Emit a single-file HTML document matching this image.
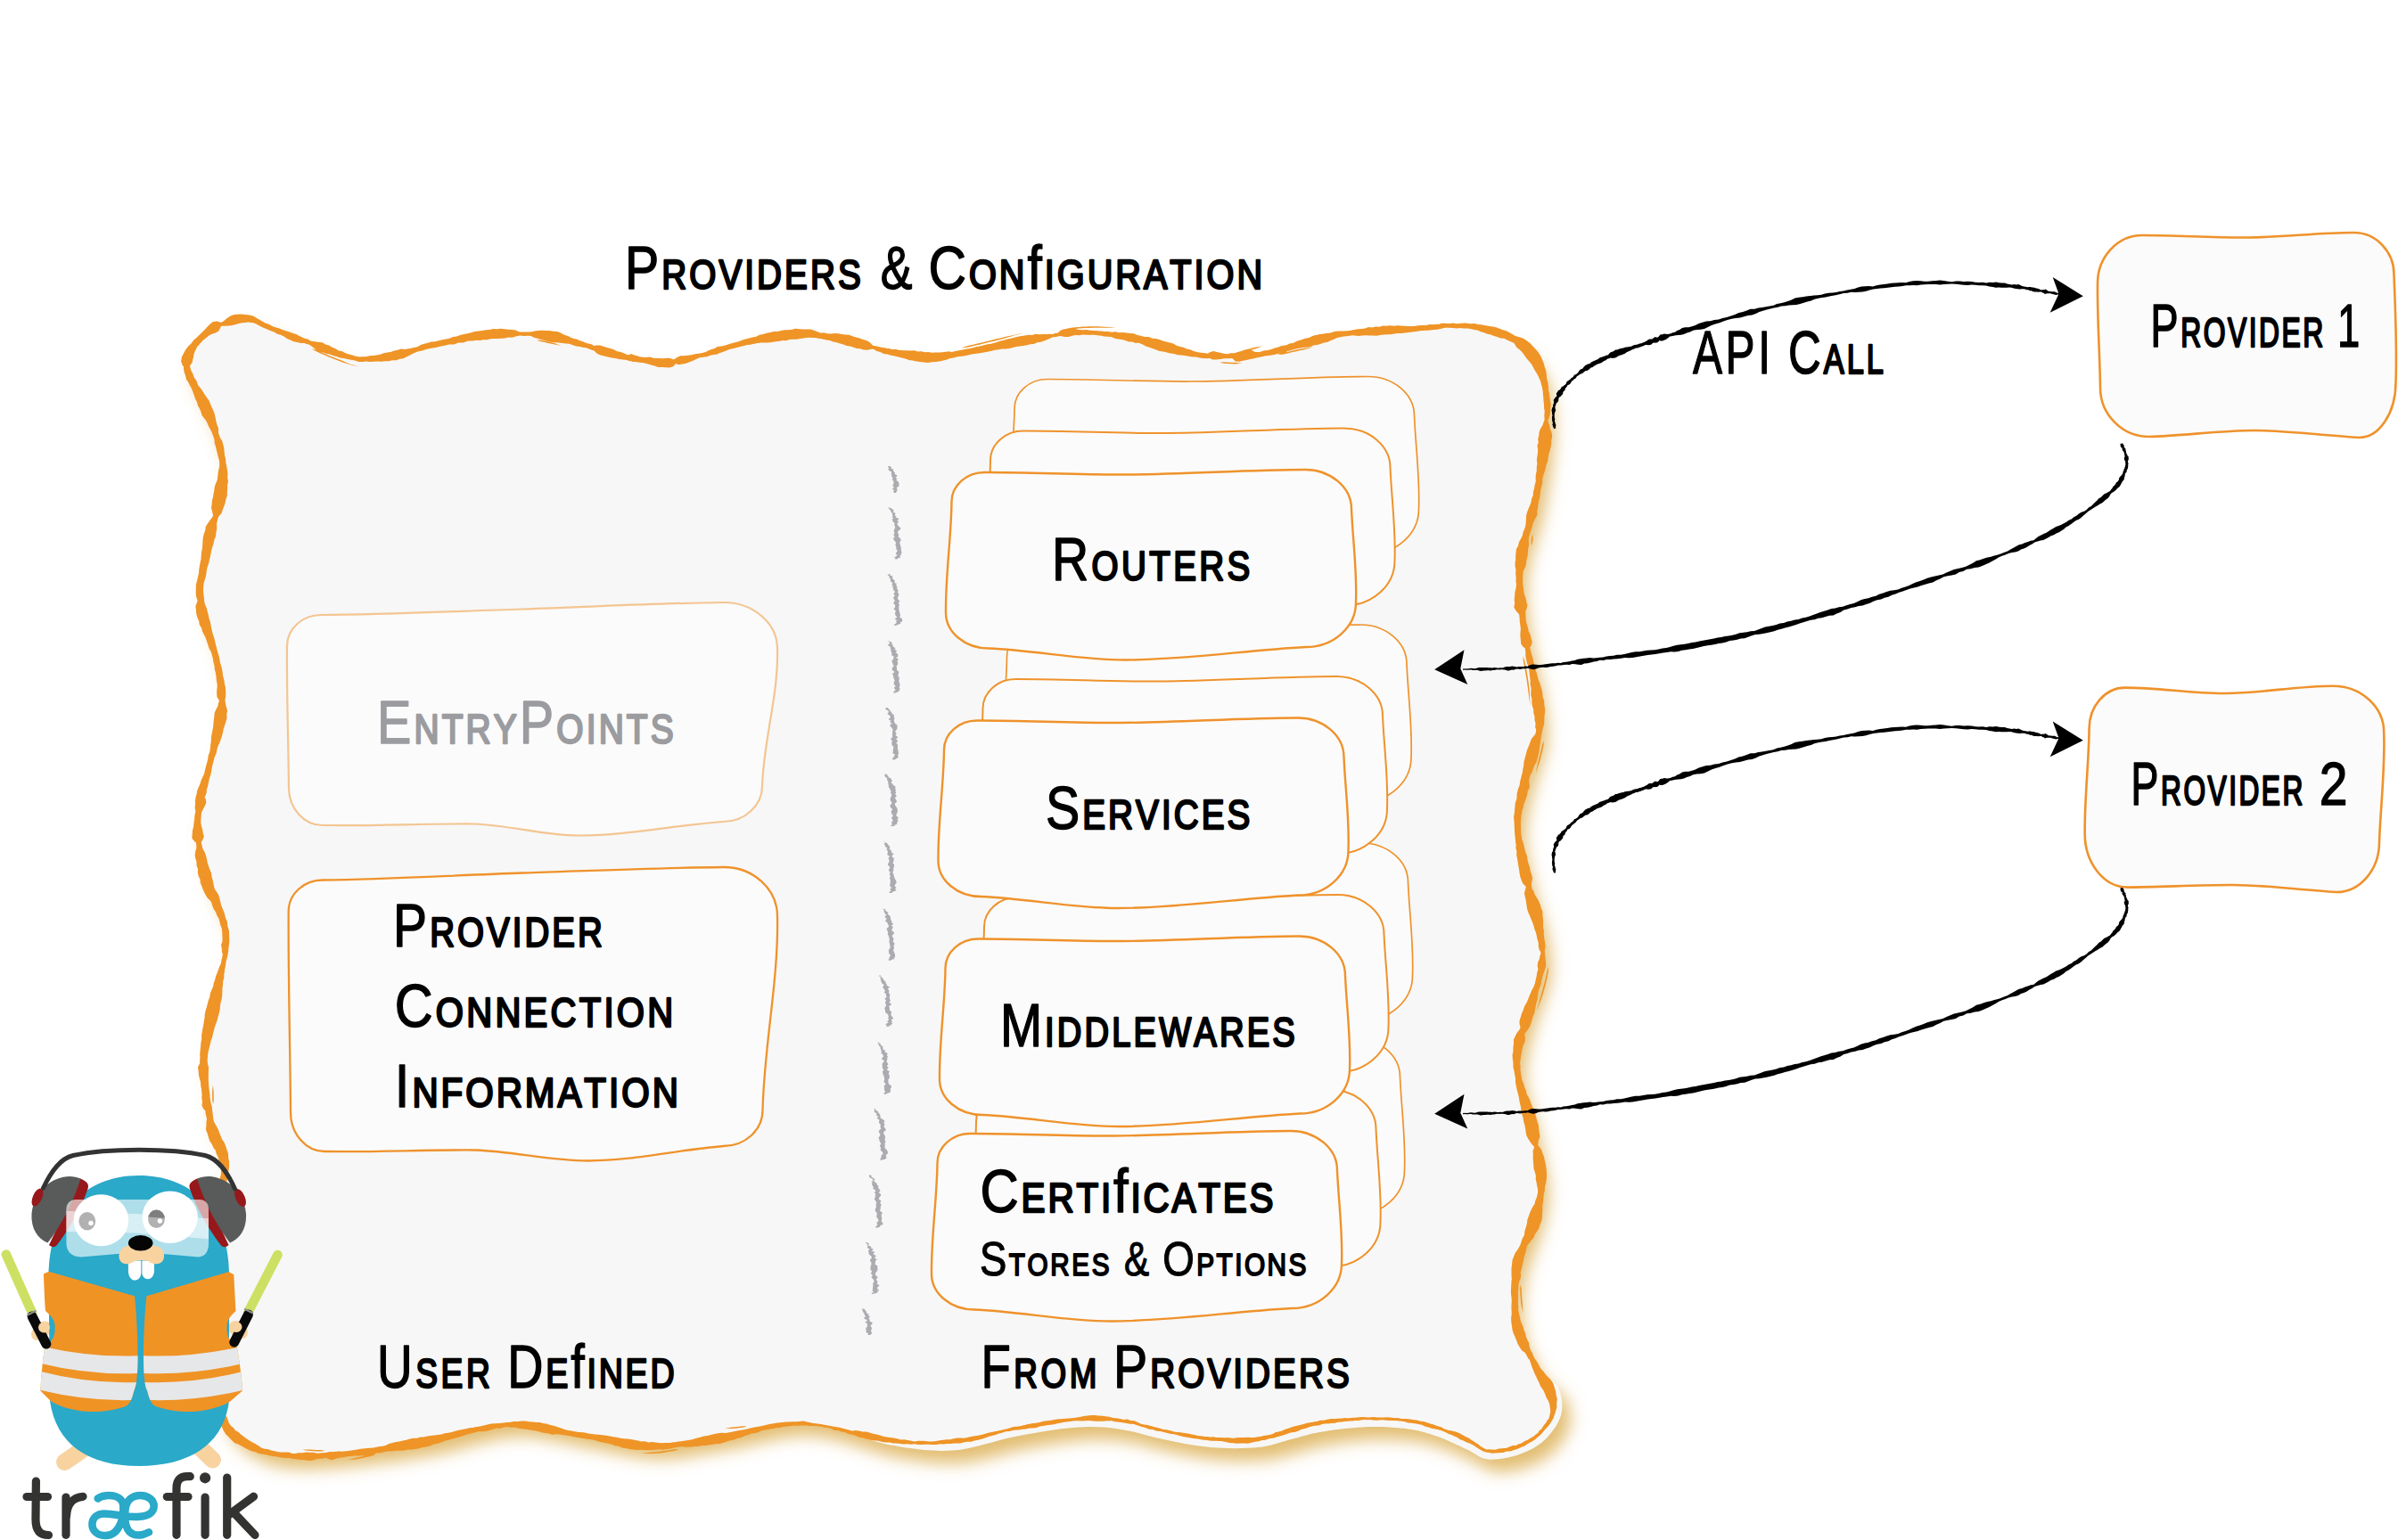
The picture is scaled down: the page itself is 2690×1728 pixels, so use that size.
<!DOCTYPE html>
<html><head><meta charset="utf-8"><title>Providers &amp; Configuration</title>
<style>
html,body{margin:0;padding:0;background:#fff;}
body{width:2690px;height:1728px;overflow:hidden;}
svg{display:block;font-family:'Liberation Sans', sans-serif;font-kerning:none;}
text{stroke-linejoin:round;stroke-linecap:round;}
</style></head><body>
<svg width="2690" height="1728" viewBox="0 0 2690 1728">
<defs>
<filter id="sh" x="-5%" y="-5%" width="110%" height="110%">
<feGaussianBlur in="SourceAlpha" stdDeviation="9"/>
<feOffset dx="9" dy="14" result="b"/>
<feFlood flood-color="#dcae50" flood-opacity="0.8"/>
<feComposite in2="b" operator="in"/>
</filter>
</defs>
<rect width="2690" height="1728" fill="#fff"/>
<path d="M210.0,414.0C207.3,402.8 211.5,398.5 215.0,392.0C218.5,385.5 224.3,380.2 231.0,375.0C237.7,369.8 247.0,364.0 255.0,361.0C263.0,358.0 271.0,356.0 279.0,357.0C287.0,358.0 292.2,362.7 303.0,367.0C313.8,371.3 330.3,377.8 344.0,383.0C357.7,388.2 374.7,394.8 385.0,398.0C395.3,401.2 396.8,402.3 406.0,402.5C415.2,402.7 426.3,401.6 440.0,399.0C453.7,396.4 471.5,390.7 488.0,387.0C504.5,383.3 523.1,379.1 539.0,377.0C554.9,374.9 569.2,374.3 583.5,374.5C597.8,374.7 612.4,375.8 625.0,378.0C637.6,380.2 647.7,384.5 659.0,388.0C670.3,391.5 679.3,395.9 693.0,399.0C706.7,402.1 726.2,406.3 741.0,406.5C755.8,406.7 767.2,403.2 782.0,400.0C796.8,396.8 816.3,390.3 830.0,387.0C843.7,383.7 851.5,381.8 864.0,380.0C876.5,378.2 890.8,375.8 905.0,376.0C919.2,376.2 935.7,379.0 949.0,381.5C962.3,384.0 974.2,388.4 985.0,391.0C995.8,393.6 1003.5,395.3 1014.0,397.0C1024.5,398.7 1034.8,401.6 1048.0,401.0C1061.2,400.4 1075.8,396.8 1093.0,393.5C1110.2,390.2 1134.5,384.6 1151.0,381.5C1167.5,378.4 1179.5,376.3 1192.0,375.0C1204.5,373.7 1212.8,373.0 1226.0,373.5C1239.2,374.0 1257.8,375.6 1271.0,378.0C1284.2,380.4 1293.7,384.8 1305.0,388.0C1316.3,391.2 1327.7,394.8 1339.0,397.0C1350.3,399.2 1359.8,401.2 1373.0,401.0C1386.2,400.8 1403.7,398.7 1418.0,396.0C1432.3,393.3 1446.5,388.2 1459.0,385.0C1471.5,381.8 1478.8,378.8 1493.0,376.5C1507.2,374.2 1526.8,372.9 1544.0,371.5C1561.2,370.1 1581.7,369.1 1596.0,368.0C1610.3,366.9 1618.7,365.0 1630.0,365.0C1641.3,365.0 1652.7,365.5 1664.0,368.0C1675.3,370.5 1688.7,374.5 1698.0,380.0C1707.3,385.5 1714.3,392.2 1720.0,401.0C1725.7,409.8 1729.7,419.2 1732.0,433.0C1734.3,446.8 1735.5,462.8 1734.0,484.0C1732.5,505.2 1728.0,534.7 1723.0,560.0C1718.0,585.3 1706.3,612.0 1704.0,636.0C1701.7,660.0 1705.8,681.5 1709.0,704.0C1712.2,726.5 1720.2,751.3 1723.0,771.0C1725.8,790.7 1728.2,804.3 1726.0,822.0C1723.8,839.7 1714.0,859.3 1710.0,877.0C1706.0,894.7 1701.3,909.0 1702.0,928.0C1702.7,947.0 1710.0,973.5 1714.0,991.0C1718.0,1008.5 1723.3,1017.5 1726.0,1033.0C1728.7,1048.5 1732.7,1064.8 1730.0,1084.0C1727.3,1103.2 1714.7,1129.0 1710.0,1148.0C1705.3,1167.0 1700.7,1179.0 1702.0,1198.0C1703.3,1217.0 1713.7,1241.5 1718.0,1262.0C1722.3,1282.5 1727.3,1304.2 1728.0,1321.0C1728.7,1337.8 1726.3,1346.2 1722.0,1363.0C1717.7,1379.8 1705.7,1403.0 1702.0,1422.0C1698.3,1441.0 1698.3,1462.0 1700.0,1477.0C1701.7,1492.0 1707.8,1502.2 1712.0,1512.0C1716.2,1521.8 1719.0,1528.5 1725.0,1536.0C1731.0,1543.5 1743.6,1548.3 1748.0,1556.9C1752.3,1565.5 1753.8,1577.6 1751.2,1587.4C1748.6,1597.3 1740.3,1608.5 1732.5,1616.0C1724.6,1623.4 1714.6,1628.4 1704.1,1632.0C1693.5,1635.6 1678.7,1638.4 1669.1,1637.5C1659.4,1636.6 1655.4,1630.9 1646.0,1626.6C1636.6,1622.4 1623.9,1615.8 1612.9,1612.0C1601.8,1608.1 1593.5,1605.2 1579.8,1603.4C1566.0,1601.6 1546.9,1600.6 1530.3,1601.2C1513.8,1601.8 1494.4,1604.5 1480.6,1606.9C1466.7,1609.2 1458.9,1612.4 1447.3,1615.2C1435.7,1618.1 1425.8,1622.6 1410.9,1624.1C1396.1,1625.5 1375.7,1625.5 1358.2,1624.1C1340.7,1622.6 1323.4,1618.8 1306.1,1615.3C1288.9,1611.9 1271.5,1605.7 1254.7,1603.4C1238.0,1601.2 1225.0,1600.4 1205.7,1601.8C1186.4,1603.2 1161.5,1607.7 1138.8,1611.9C1116.0,1616.2 1092.2,1625.9 1069.0,1627.5C1045.7,1629.0 1027.4,1626.5 999.4,1621.5C971.4,1616.4 932.6,1598.6 901.0,1597.0C869.4,1595.4 838.5,1607.7 810.0,1612.0C781.5,1616.3 756.7,1623.3 730.0,1623.0C703.3,1622.7 676.8,1614.2 650.0,1610.0C623.2,1605.8 597.3,1596.7 569.0,1598.0C540.7,1599.3 507.3,1612.8 480.0,1618.0C452.7,1623.2 428.3,1626.3 405.0,1629.0C381.7,1631.7 357.0,1633.7 340.0,1634.0C323.0,1634.3 313.5,1633.2 303.0,1631.0C292.5,1628.8 285.3,1626.2 277.0,1621.0C268.7,1615.8 258.3,1610.2 253.0,1600.0C247.7,1589.8 248.0,1576.7 245.0,1560.0C242.0,1543.3 237.3,1520.0 235.0,1500.0C232.7,1480.0 229.8,1461.7 231.0,1440.0C232.2,1418.3 238.5,1392.3 242.0,1370.0C245.5,1347.7 252.8,1324.0 252.0,1306.0C251.2,1288.0 240.8,1281.3 237.0,1262.0C233.2,1242.7 228.0,1214.0 229.0,1190.0C230.0,1166.0 238.8,1140.5 243.0,1118.0C247.2,1095.5 254.0,1072.7 254.0,1055.0C254.0,1037.3 246.5,1022.7 243.0,1012.0C239.5,1001.3 236.7,1005.8 233.0,991.0C229.3,976.2 220.3,945.5 221.0,923.0C221.7,900.5 232.2,878.2 237.0,856.0C241.8,833.8 249.0,809.7 250.0,790.0C251.0,770.3 247.2,758.0 243.0,738.0C238.8,718.0 226.7,689.8 225.0,670.0C223.3,650.2 228.8,642.8 233.0,619.0C237.2,595.2 250.3,553.7 250.0,527.0C249.7,500.3 237.7,477.8 231.0,459.0C224.3,440.2 212.7,425.2 210.0,414.0Z" fill="#f7f7f7" filter="url(#sh)"/>
<path d="M210.0,414.0C207.3,402.8 211.5,398.5 215.0,392.0C218.5,385.5 224.3,380.2 231.0,375.0C237.7,369.8 247.0,364.0 255.0,361.0C263.0,358.0 271.0,356.0 279.0,357.0C287.0,358.0 292.2,362.7 303.0,367.0C313.8,371.3 330.3,377.8 344.0,383.0C357.7,388.2 374.7,394.8 385.0,398.0C395.3,401.2 396.8,402.3 406.0,402.5C415.2,402.7 426.3,401.6 440.0,399.0C453.7,396.4 471.5,390.7 488.0,387.0C504.5,383.3 523.1,379.1 539.0,377.0C554.9,374.9 569.2,374.3 583.5,374.5C597.8,374.7 612.4,375.8 625.0,378.0C637.6,380.2 647.7,384.5 659.0,388.0C670.3,391.5 679.3,395.9 693.0,399.0C706.7,402.1 726.2,406.3 741.0,406.5C755.8,406.7 767.2,403.2 782.0,400.0C796.8,396.8 816.3,390.3 830.0,387.0C843.7,383.7 851.5,381.8 864.0,380.0C876.5,378.2 890.8,375.8 905.0,376.0C919.2,376.2 935.7,379.0 949.0,381.5C962.3,384.0 974.2,388.4 985.0,391.0C995.8,393.6 1003.5,395.3 1014.0,397.0C1024.5,398.7 1034.8,401.6 1048.0,401.0C1061.2,400.4 1075.8,396.8 1093.0,393.5C1110.2,390.2 1134.5,384.6 1151.0,381.5C1167.5,378.4 1179.5,376.3 1192.0,375.0C1204.5,373.7 1212.8,373.0 1226.0,373.5C1239.2,374.0 1257.8,375.6 1271.0,378.0C1284.2,380.4 1293.7,384.8 1305.0,388.0C1316.3,391.2 1327.7,394.8 1339.0,397.0C1350.3,399.2 1359.8,401.2 1373.0,401.0C1386.2,400.8 1403.7,398.7 1418.0,396.0C1432.3,393.3 1446.5,388.2 1459.0,385.0C1471.5,381.8 1478.8,378.8 1493.0,376.5C1507.2,374.2 1526.8,372.9 1544.0,371.5C1561.2,370.1 1581.7,369.1 1596.0,368.0C1610.3,366.9 1618.7,365.0 1630.0,365.0C1641.3,365.0 1652.7,365.5 1664.0,368.0C1675.3,370.5 1688.7,374.5 1698.0,380.0C1707.3,385.5 1714.3,392.2 1720.0,401.0C1725.7,409.8 1729.7,419.2 1732.0,433.0C1734.3,446.8 1735.5,462.8 1734.0,484.0C1732.5,505.2 1728.0,534.7 1723.0,560.0C1718.0,585.3 1706.3,612.0 1704.0,636.0C1701.7,660.0 1705.8,681.5 1709.0,704.0C1712.2,726.5 1720.2,751.3 1723.0,771.0C1725.8,790.7 1728.2,804.3 1726.0,822.0C1723.8,839.7 1714.0,859.3 1710.0,877.0C1706.0,894.7 1701.3,909.0 1702.0,928.0C1702.7,947.0 1710.0,973.5 1714.0,991.0C1718.0,1008.5 1723.3,1017.5 1726.0,1033.0C1728.7,1048.5 1732.7,1064.8 1730.0,1084.0C1727.3,1103.2 1714.7,1129.0 1710.0,1148.0C1705.3,1167.0 1700.7,1179.0 1702.0,1198.0C1703.3,1217.0 1713.7,1241.5 1718.0,1262.0C1722.3,1282.5 1727.3,1304.2 1728.0,1321.0C1728.7,1337.8 1726.3,1346.2 1722.0,1363.0C1717.7,1379.8 1705.7,1403.0 1702.0,1422.0C1698.3,1441.0 1698.3,1462.0 1700.0,1477.0C1701.7,1492.0 1707.8,1502.2 1712.0,1512.0C1716.2,1521.8 1719.0,1528.5 1725.0,1536.0C1731.0,1543.5 1743.6,1548.3 1748.0,1556.9C1752.3,1565.5 1753.8,1577.6 1751.2,1587.4C1748.6,1597.3 1740.3,1608.5 1732.5,1616.0C1724.6,1623.4 1714.6,1628.4 1704.1,1632.0C1693.5,1635.6 1678.7,1638.4 1669.1,1637.5C1659.4,1636.6 1655.4,1630.9 1646.0,1626.6C1636.6,1622.4 1623.9,1615.8 1612.9,1612.0C1601.8,1608.1 1593.5,1605.2 1579.8,1603.4C1566.0,1601.6 1546.9,1600.6 1530.3,1601.2C1513.8,1601.8 1494.4,1604.5 1480.6,1606.9C1466.7,1609.2 1458.9,1612.4 1447.3,1615.2C1435.7,1618.1 1425.8,1622.6 1410.9,1624.1C1396.1,1625.5 1375.7,1625.5 1358.2,1624.1C1340.7,1622.6 1323.4,1618.8 1306.1,1615.3C1288.9,1611.9 1271.5,1605.7 1254.7,1603.4C1238.0,1601.2 1225.0,1600.4 1205.7,1601.8C1186.4,1603.2 1161.5,1607.7 1138.8,1611.9C1116.0,1616.2 1092.2,1625.9 1069.0,1627.5C1045.7,1629.0 1027.4,1626.5 999.4,1621.5C971.4,1616.4 932.6,1598.6 901.0,1597.0C869.4,1595.4 838.5,1607.7 810.0,1612.0C781.5,1616.3 756.7,1623.3 730.0,1623.0C703.3,1622.7 676.8,1614.2 650.0,1610.0C623.2,1605.8 597.3,1596.7 569.0,1598.0C540.7,1599.3 507.3,1612.8 480.0,1618.0C452.7,1623.2 428.3,1626.3 405.0,1629.0C381.7,1631.7 357.0,1633.7 340.0,1634.0C323.0,1634.3 313.5,1633.2 303.0,1631.0C292.5,1628.8 285.3,1626.2 277.0,1621.0C268.7,1615.8 258.3,1610.2 253.0,1600.0C247.7,1589.8 248.0,1576.7 245.0,1560.0C242.0,1543.3 237.3,1520.0 235.0,1500.0C232.7,1480.0 229.8,1461.7 231.0,1440.0C232.2,1418.3 238.5,1392.3 242.0,1370.0C245.5,1347.7 252.8,1324.0 252.0,1306.0C251.2,1288.0 240.8,1281.3 237.0,1262.0C233.2,1242.7 228.0,1214.0 229.0,1190.0C230.0,1166.0 238.8,1140.5 243.0,1118.0C247.2,1095.5 254.0,1072.7 254.0,1055.0C254.0,1037.3 246.5,1022.7 243.0,1012.0C239.5,1001.3 236.7,1005.8 233.0,991.0C229.3,976.2 220.3,945.5 221.0,923.0C221.7,900.5 232.2,878.2 237.0,856.0C241.8,833.8 249.0,809.7 250.0,790.0C251.0,770.3 247.2,758.0 243.0,738.0C238.8,718.0 226.7,689.8 225.0,670.0C223.3,650.2 228.8,642.8 233.0,619.0C237.2,595.2 250.3,553.7 250.0,527.0C249.7,500.3 237.7,477.8 231.0,459.0C224.3,440.2 212.7,425.2 210.0,414.0Z" fill="#f7f7f7"/>
<path d="M213.6,413.1L212.9,410.4L212.8,407.9L213.5,405.9L213.3,404.1L213.8,402.5L214.3,400.8L214.9,399.1L216.1,397.5L217.0,395.6L218.1,393.8L219.5,392.2L220.2,390.3L221.3,388.5L223.2,387.3L224.3,385.4L226.0,384.0L227.3,382.0L229.0,380.3L230.6,378.5L232.6,377.1L234.5,375.4L236.7,373.9L239.0,372.3L241.0,370.2L243.5,368.8L246.0,367.6L248.3,365.8L250.7,364.3L253.1,363.3L255.6,362.5L257.9,361.6L260.2,360.6L262.6,360.1L264.9,359.4L267.3,359.2L269.6,358.7L271.9,358.5L274.2,358.2L276.5,358.5L278.7,359.4L280.8,359.8L283.0,359.7L285.0,360.3L286.8,361.8L289.0,362.6L291.1,363.9L293.5,365.3L296.2,366.3L299.3,367.2L302.2,369.1L305.8,369.8L309.5,371.4L313.3,373.2L317.5,374.6L321.6,376.9L325.8,378.9L330.2,380.5L334.7,382.0L339.0,383.6L343.0,385.7L347.4,386.7L351.5,388.9L356.2,389.7L360.7,391.4L365.1,393.0L369.2,395.0L373.4,396.4L377.4,397.7L381.2,398.4L384.4,400.0L387.3,400.8L389.8,401.3L391.9,401.8L394.0,401.8L395.6,402.6L397.3,403.5L399.2,403.7L401.1,403.9L403.4,403.7L406.0,404.6L408.8,404.3L411.8,403.9L414.9,404.3L418.2,404.1L421.6,404.3L425.0,403.6L428.7,403.5L432.6,403.4L436.4,402.2L440.4,401.3L444.8,400.6L449.3,399.8L453.9,398.3L458.8,397.5L463.7,396.4L468.5,394.4L473.6,393.4L478.6,391.8L483.6,390.8L488.7,389.9L493.7,388.8L498.8,387.8L503.9,386.5L509.3,386.4L514.3,384.5L519.7,384.4L524.7,382.6L529.8,382.0L534.7,381.3L539.5,380.9L544.1,380.0L548.7,379.4L553.2,378.5L557.6,377.8L562.0,378.2L566.3,377.1L570.6,377.5L574.9,376.6L579.2,377.1L583.5,376.5L587.7,377.1L592.0,376.7L596.3,376.9L600.6,377.0L604.7,377.7L608.8,378.4L612.9,379.0L616.9,379.2L620.8,379.5L624.5,380.6L628.1,381.6L631.6,382.2L635.1,382.8L638.3,384.2L641.5,385.5L644.7,386.7L648.0,387.7L651.5,388.3L654.8,389.6L658.2,390.4L661.4,391.8L664.6,393.1L667.9,393.6L671.0,395.0L674.4,395.8L677.6,397.1L680.8,398.8L684.5,399.9L688.3,401.0L692.3,401.9L696.6,402.8L701.3,403.4L705.9,405.1L711.0,405.8L716.1,406.4L721.3,406.9L726.3,408.2L731.4,408.1L736.3,408.6L741.0,408.6L745.4,408.6L749.7,407.8L753.9,408.0L757.8,406.5L761.7,405.8L765.7,405.2L769.7,404.1L773.7,402.8L777.8,401.7L782.3,401.1L786.8,399.9L791.6,398.7L796.6,397.5L801.8,396.4L806.9,395.2L811.7,393.0L816.8,392.0L821.7,391.2L826.2,389.9L830.5,388.9L834.3,387.5L837.9,386.4L841.3,385.8L844.7,385.6L847.9,385.1L851.0,384.4L854.1,383.8L857.2,382.5L860.6,382.1L864.3,381.9L868.0,380.8L872.0,380.9L876.0,380.3L880.0,379.7L884.1,379.3L888.2,378.5L892.4,378.8L896.6,378.1L900.8,378.7L905.0,378.1L909.2,378.4L913.6,378.9L918.0,379.4L922.4,380.1L926.9,381.2L931.4,381.6L935.8,382.5L940.2,382.6L944.4,383.4L948.4,384.4L952.5,384.4L956.2,385.7L960.0,386.4L963.6,387.7L967.2,388.7L971.0,388.9L974.5,390.0L977.8,391.3L981.3,391.9L984.5,393.0L987.7,393.8L990.8,394.2L993.6,395.3L996.3,396.1L999.2,396.4L1001.8,397.7L1004.7,397.9L1007.5,398.5L1010.4,399.3L1013.4,400.3L1016.6,400.5L1019.7,401.4L1022.9,401.7L1026.2,402.0L1029.5,403.0L1033.0,403.6L1036.6,403.3L1040.3,404.0L1044.1,404.0L1048.1,403.9L1052.2,403.2L1056.4,403.1L1060.7,402.8L1065.1,401.9L1069.6,401.4L1074.1,400.2L1078.9,399.8L1083.7,399.1L1088.6,397.7L1093.7,396.9L1099.1,396.3L1104.9,395.3L1110.8,394.0L1116.7,391.8L1123.0,390.9L1129.1,389.2L1135.1,387.9L1140.8,386.1L1146.4,385.6L1151.4,383.8L1156.2,382.7L1160.8,382.2L1165.1,381.0L1169.3,380.4L1173.3,379.6L1177.2,379.1L1181.0,378.3L1184.8,378.0L1188.5,377.1L1192.2,376.5L1195.9,376.8L1199.3,376.6L1202.5,375.7L1205.7,375.8L1208.9,375.7L1212.0,374.9L1215.2,374.8L1218.6,375.1L1222.1,375.4L1225.9,375.3L1230.0,375.9L1234.3,376.2L1238.9,376.1L1243.6,376.1L1248.4,376.3L1253.1,377.4L1257.7,378.0L1262.3,378.4L1266.6,379.1L1270.6,379.9L1274.4,380.9L1277.9,381.9L1281.3,383.0L1284.6,384.1L1288.0,384.9L1291.1,386.2L1294.5,387.0L1297.6,388.4L1300.8,389.8L1304.2,390.9L1307.6,391.6L1311.2,391.9L1314.7,392.8L1318.0,394.2L1321.3,395.4L1325.0,395.4L1328.3,396.7L1331.9,396.9L1335.2,398.1L1338.6,398.9L1342.1,399.1L1345.3,399.8L1348.7,399.9L1351.9,400.2L1355.2,400.7L1358.5,401.4L1361.9,401.5L1365.4,402.1L1369.1,402.8L1373.0,402.2L1377.1,402.2L1381.4,402.1L1386.0,402.4L1390.6,401.6L1395.2,401.1L1400.0,400.5L1404.8,400.6L1409.4,399.8L1413.9,398.6L1418.4,398.0L1422.7,396.8L1427.1,396.3L1431.4,395.2L1435.5,393.8L1439.8,392.8L1444.1,392.1L1448.1,391.0L1452.0,389.4L1455.8,388.3L1459.6,387.3L1463.3,386.6L1466.7,385.7L1470.2,385.5L1473.2,384.4L1476.4,384.0L1479.5,383.5L1482.5,382.0L1486.0,381.7L1489.6,380.7L1493.5,379.9L1497.8,378.8L1502.5,378.4L1507.3,377.5L1512.4,376.9L1517.6,376.3L1522.9,375.7L1528.3,375.5L1533.7,374.8L1539.0,374.8L1544.2,373.7L1549.5,373.9L1554.8,372.9L1560.2,372.5L1565.7,371.9L1571.2,372.0L1576.6,371.7L1581.9,371.7L1586.9,371.3L1591.7,371.2L1596.2,371.1L1600.4,370.3L1604.2,369.9L1607.8,369.5L1611.2,369.1L1614.5,369.3L1617.5,368.5L1620.6,367.7L1623.6,367.6L1626.7,367.2L1630.0,367.7L1633.4,367.7L1636.7,367.6L1640.1,367.7L1643.5,367.5L1646.8,367.5L1650.1,368.8L1653.5,369.0L1656.8,369.2L1660.0,370.4L1663.3,371.2L1666.7,371.8L1670.1,372.9L1673.7,373.9L1677.3,374.6L1680.8,375.8L1684.1,377.2L1687.4,378.5L1690.8,379.5L1693.5,381.5L1696.5,382.6L1699.0,384.4L1701.9,385.4L1704.2,387.3L1706.3,389.3L1708.5,391.2L1711.0,392.8L1712.6,395.2L1715.1,397.0L1716.9,399.4L1718.0,402.3L1720.0,404.7L1721.5,407.3L1722.6,410.2L1724.1,412.9L1725.0,416.0L1726.1,419.1L1727.3,422.3L1728.3,425.7L1729.1,429.4L1730.0,433.3L1730.9,437.5L1730.8,441.9L1731.7,446.3L1731.7,451.0L1732.2,455.9L1732.8,460.9L1732.3,466.3L1732.7,471.8L1732.4,477.7L1731.7,483.8L1731.5,490.4L1730.3,497.3L1729.8,504.7L1728.1,512.2L1726.8,520.0L1726.1,528.0L1724.7,536.0L1722.7,543.8L1721.4,551.7L1719.4,559.3L1718.5,567.0L1716.1,574.5L1713.5,582.0L1711.6,589.8L1709.3,597.5L1707.0,605.3L1704.8,612.9L1703.3,620.6L1701.7,628.2L1700.7,635.7L1700.9,643.0L1700.9,650.1L1701.1,657.1L1700.9,664.0L1702.2,670.8L1702.4,677.6L1703.9,684.2L1704.5,691.0L1704.8,697.7L1705.9,704.5L1707.4,711.3L1709.0,718.2L1710.2,725.3L1711.7,732.3L1712.7,739.4L1714.7,746.1L1716.6,752.7L1717.2,759.4L1718.5,765.6L1720.1,771.4L1720.6,777.2L1721.5,782.6L1722.1,787.8L1722.5,792.7L1722.8,797.5L1724.0,802.2L1723.6,806.9L1723.5,811.7L1723.5,816.6L1722.9,821.6L1721.4,826.6L1720.4,831.9L1718.8,837.3L1717.3,842.8L1714.8,848.2L1712.5,853.6L1710.7,859.3L1708.4,864.8L1706.8,870.4L1705.4,875.9L1704.6,881.2L1702.8,886.1L1701.6,891.1L1701.4,896.3L1699.8,901.1L1699.3,906.3L1698.9,911.5L1698.1,916.8L1698.6,922.4L1698.8,928.1L1699.1,934.2L1699.7,940.6L1700.8,947.2L1701.8,954.0L1703.3,960.8L1704.9,967.5L1706.8,974.0L1708.4,980.3L1709.9,986.2L1711.4,991.6L1712.0,996.9L1713.4,1001.5L1714.6,1005.9L1715.9,1010.0L1717.2,1013.9L1719.1,1017.4L1720.0,1021.3L1720.9,1025.2L1722.4,1029.1L1723.3,1033.5L1724.7,1038.1L1725.4,1042.8L1725.8,1047.7L1726.5,1052.5L1727.5,1057.4L1728.3,1062.4L1728.2,1067.5L1728.5,1072.8L1728.3,1078.2L1727.7,1083.7L1726.4,1089.4L1724.5,1095.4L1722.5,1101.8L1720.2,1108.3L1718.2,1115.2L1715.6,1121.8L1713.1,1128.4L1710.6,1134.9L1708.3,1141.1L1707.1,1147.2L1705.6,1152.7L1703.8,1157.8L1703.4,1162.9L1701.6,1167.6L1701.0,1172.4L1700.6,1177.3L1700.1,1182.2L1699.4,1187.2L1699.7,1192.5L1700.0,1198.2L1700.7,1204.1L1701.7,1210.4L1703.6,1216.7L1704.9,1223.4L1706.8,1230.1L1709.1,1236.6L1711.1,1243.3L1713.1,1249.8L1714.3,1256.3L1715.3,1262.6L1716.9,1268.7L1718.2,1274.9L1719.4,1281.1L1721.1,1287.2L1721.6,1293.4L1723.1,1299.3L1723.8,1305.1L1724.6,1310.7L1725.1,1316.0L1725.4,1321.1L1726.0,1325.8L1726.1,1330.1L1725.4,1334.1L1725.3,1337.9L1724.8,1341.7L1723.9,1345.3L1722.3,1349.0L1721.6,1353.1L1720.1,1357.4L1718.7,1362.1L1717.6,1367.3L1715.0,1372.5L1713.5,1378.4L1710.8,1384.3L1707.7,1390.1L1705.5,1396.4L1703.0,1402.6L1700.8,1408.9L1699.1,1415.1L1698.0,1421.2L1696.8,1427.1L1696.0,1433.1L1695.4,1439.1L1695.1,1445.0L1694.9,1450.9L1695.6,1456.6L1695.8,1462.2L1695.8,1467.5L1696.2,1472.6L1696.4,1477.4L1697.4,1481.9L1697.9,1486.3L1698.8,1490.4L1700.6,1494.1L1701.7,1497.8L1703.4,1501.1L1704.4,1504.5L1706.5,1507.3L1707.9,1510.3L1708.5,1513.6L1710.0,1516.3L1711.6,1519.0L1712.9,1521.5L1714.1,1524.0L1715.9,1526.1L1716.8,1528.6L1718.2,1530.8L1720.1,1532.7L1721.5,1534.9L1722.7,1537.3L1723.5,1540.2L1725.6,1542.2L1726.9,1544.9L1728.6,1547.2L1730.4,1549.4L1731.8,1551.8L1733.2,1554.1L1734.7,1556.3L1736.0,1558.4L1736.6,1560.9L1737.5,1563.2L1738.3,1565.6L1738.2,1568.2L1739.3,1570.5L1739.2,1573.0L1740.3,1575.2L1740.2,1577.6L1740.3,1579.9L1739.8,1582.1L1739.6,1584.4L1738.6,1586.5L1738.2,1589.1L1737.4,1591.8L1735.5,1594.0L1734.2,1596.6L1732.2,1598.8L1730.5,1601.3L1728.9,1603.8L1726.5,1605.5L1725.1,1608.0L1722.8,1609.5L1720.8,1611.4L1718.4,1612.8L1716.0,1614.2L1713.7,1615.8L1711.0,1616.8L1708.5,1618.2L1706.1,1619.8L1703.3,1620.6L1700.7,1622.0L1697.7,1622.8L1694.7,1623.5L1691.7,1625.0L1688.2,1625.1L1685.0,1626.0L1681.8,1627.0L1678.6,1627.4L1675.5,1627.0L1672.7,1627.8L1670.1,1626.8L1667.8,1627.0L1665.7,1626.5L1664.1,1625.4L1662.7,1623.8L1660.8,1623.4L1659.3,1621.9L1657.6,1620.4L1655.5,1619.3L1653.5,1617.5L1650.8,1616.4L1648.0,1614.8L1644.8,1613.7L1641.7,1612.0L1638.3,1610.3L1634.8,1608.5L1631.2,1606.9L1627.3,1605.8L1623.6,1604.4L1619.9,1603.2L1616.6,1601.3L1613.1,1600.5L1609.7,1599.7L1606.5,1598.2L1603.3,1597.2L1600.0,1596.1L1596.6,1595.1L1593.0,1594.8L1589.3,1593.6L1585.3,1593.5L1581.2,1592.6L1576.7,1591.9L1571.9,1591.9L1567.0,1591.5L1561.8,1590.7L1556.6,1590.3L1551.2,1590.4L1545.8,1590.4L1540.5,1589.9L1535.2,1590.6L1529.9,1590.1L1524.7,1590.2L1519.4,1590.8L1514.0,1591.3L1508.7,1592.4L1503.3,1592.5L1498.0,1593.5L1492.8,1593.9L1487.9,1594.9L1483.2,1595.6L1478.7,1595.8L1474.5,1596.3L1470.7,1597.0L1467.0,1597.6L1463.8,1599.2L1460.5,1599.8L1457.3,1600.7L1454.1,1601.0L1451.1,1602.3L1447.8,1603.1L1444.3,1603.4L1441.0,1604.6L1437.7,1605.7L1434.4,1606.7L1431.0,1607.1L1428.0,1608.9L1424.7,1609.9L1421.2,1610.5L1417.6,1611.1L1413.8,1611.9L1409.8,1612.5L1405.4,1613.3L1400.7,1612.8L1395.8,1613.1L1390.7,1613.2L1385.5,1613.8L1380.2,1613.8L1374.9,1613.4L1369.5,1613.5L1364.3,1613.1L1359.1,1613.0L1354.1,1612.1L1349.0,1611.9L1344.0,1611.2L1339.0,1610.0L1334.0,1608.8L1328.9,1608.0L1323.7,1607.3L1318.5,1607.0L1313.3,1606.1L1308.3,1604.4L1303.1,1603.8L1297.9,1602.7L1292.9,1600.6L1287.4,1600.2L1282.3,1598.5L1277.2,1596.7L1271.8,1596.1L1266.5,1594.8L1261.4,1593.5L1256.3,1592.2L1251.1,1591.9L1246.1,1591.6L1241.3,1590.7L1236.4,1590.6L1231.5,1590.5L1226.6,1589.7L1221.5,1589.4L1216.2,1589.7L1210.7,1589.9L1204.9,1590.9L1198.8,1591.4L1192.3,1592.0L1185.6,1592.4L1178.9,1593.8L1171.8,1594.5L1164.9,1596.6L1157.8,1597.3L1150.7,1598.8L1143.7,1600.4L1136.7,1601.0L1130.0,1603.2L1123.0,1604.8L1116.0,1606.2L1109.1,1607.8L1102.2,1609.9L1095.2,1611.4L1088.4,1613.2L1081.5,1614.5L1074.7,1616.2L1067.9,1616.6L1061.2,1617.9L1054.8,1617.9L1048.5,1618.6L1042.2,1618.8L1035.9,1618.3L1029.4,1618.3L1022.7,1618.5L1015.7,1617.0L1008.1,1617.2L1000.1,1616.1L991.4,1614.7L982.3,1612.1L972.6,1609.7L962.4,1607.9L952.2,1604.6L941.8,1601.7L931.2,1600.1L920.9,1598.1L910.8,1596.8L901.1,1594.6L891.5,1595.5L881.9,1595.4L872.4,1596.6L863.0,1598.0L853.8,1600.3L844.6,1601.8L835.6,1604.0L826.7,1605.6L818.0,1607.4L809.5,1609.3L801.1,1610.5L792.8,1612.2L784.6,1613.2L776.8,1615.3L768.8,1616.4L761.0,1617.6L753.4,1619.1L745.6,1619.6L737.8,1620.2L730.0,1620.1L722.2,1620.4L714.4,1618.9L706.5,1618.0L698.6,1616.7L690.7,1614.8L682.7,1613.1L674.8,1611.2L666.7,1609.8L658.6,1608.3L650.5,1607.2L642.4,1606.2L634.5,1604.4L626.5,1603.0L618.6,1601.2L610.5,1599.9L602.5,1597.7L594.3,1596.6L585.9,1595.9L577.5,1595.6L568.9,1596.1L560.2,1597.0L551.0,1597.4L542.0,1599.7L532.6,1601.4L523.3,1603.6L514.3,1606.7L505.2,1608.9L496.3,1611.2L487.5,1612.6L479.4,1614.7L471.3,1616.1L463.4,1617.6L455.6,1618.6L448.1,1620.3L440.5,1621.3L433.2,1622.6L425.9,1622.9L418.8,1624.5L411.6,1624.9L404.6,1625.7L397.7,1627.1L390.7,1628.1L383.7,1628.7L376.7,1628.7L369.9,1629.6L363.3,1630.2L357.0,1630.9L350.9,1631.5L345.2,1631.4L340.0,1631.9L335.1,1631.1L330.7,1631.7L326.6,1631.7L322.8,1631.4L319.3,1630.8L316.0,1630.5L312.8,1630.0L309.7,1629.7L306.6,1629.3L303.5,1628.7L300.4,1628.4L297.4,1628.5L294.9,1627.0L292.2,1626.5L289.7,1625.7L287.1,1625.2L285.1,1623.4L282.6,1622.5L280.0,1621.5L277.5,1620.2L275.1,1618.4L272.6,1616.5L269.9,1614.9L267.4,1612.9L265.2,1610.7L262.7,1608.8L260.5,1606.5L258.9,1603.8L256.7,1601.6L255.4,1598.8L254.4,1595.7L253.6,1592.6L252.5,1589.3L251.3,1585.9L250.9,1582.0L250.3,1578.0L249.4,1573.8L249.1,1569.2L248.2,1564.5L247.2,1559.6L246.5,1554.4L246.0,1548.7L244.1,1543.1L243.7,1536.9L242.8,1530.7L241.7,1524.4L240.8,1518.1L239.2,1511.9L239.0,1505.7L237.5,1499.7L237.7,1493.6L236.8,1487.8L235.8,1482.0L234.9,1476.2L234.4,1470.4L234.5,1464.5L233.3,1458.6L233.5,1452.6L232.8,1446.4L233.7,1440.2L233.6,1433.6L234.6,1426.8L235.1,1419.8L237.0,1412.9L238.2,1405.7L239.6,1398.5L240.3,1391.3L242.4,1384.3L243.1,1377.2L244.6,1370.4L245.7,1363.7L247.5,1357.1L248.9,1350.4L250.1,1343.6L251.8,1337.0L253.5,1330.5L254.6,1324.1L255.6,1317.8L256.3,1311.7L256.5,1305.8L255.2,1300.3L254.2,1295.4L252.7,1290.9L250.6,1286.9L248.8,1282.9L246.7,1279.2L245.0,1275.2L243.6,1270.9L241.7,1266.5L240.4,1261.3L239.3,1255.3L238.5,1248.7L237.7,1241.7L235.9,1234.7L235.3,1227.2L234.3,1219.7L233.8,1212.1L233.7,1204.6L233.4,1197.3L232.6,1190.2L233.2,1183.1L234.1,1176.0L235.9,1168.9L236.7,1161.5L238.7,1154.3L240.1,1147.0L241.2,1139.6L243.3,1132.6L244.9,1125.5L246.3,1118.7L246.6,1111.7L248.5,1105.1L250.0,1098.4L251.0,1091.7L252.7,1085.2L253.6,1078.8L255.3,1072.6L256.3,1066.5L256.3,1060.6L257.3,1055.0L257.1,1049.5L256.9,1044.2L255.3,1039.3L254.9,1034.3L253.0,1029.9L252.0,1025.4L250.4,1021.4L248.8,1017.6L247.0,1014.3L245.9,1011.0L244.5,1008.2L243.6,1005.7L242.1,1004.1L241.7,1002.2L240.2,1001.4L239.4,1000.2L238.6,998.8L237.9,996.7L236.7,994.1L236.1,990.2L234.7,985.3L233.3,979.6L231.2,973.4L229.7,966.5L228.6,959.2L227.2,951.8L225.6,944.4L224.1,937.0L224.2,929.8L223.3,923.1L223.8,916.5L224.5,909.9L225.9,903.3L228.1,896.8L229.1,889.9L231.8,883.4L233.1,876.5L235.0,869.7L237.0,863.1L238.1,856.3L239.7,849.6L241.8,842.9L243.1,836.0L245.3,829.3L246.7,822.5L248.7,815.8L249.3,809.0L251.1,802.6L252.1,796.3L252.8,790.2L252.4,784.3L252.5,778.9L252.9,773.6L251.8,768.6L251.5,763.6L250.1,758.8L249.6,753.7L248.5,748.5L246.9,743.2L245.9,737.3L244.0,731.1L242.3,724.4L240.6,717.3L238.3,710.2L235.7,703.1L234.0,695.8L231.6,688.9L230.6,682.0L229.3,675.6L228.7,669.7L228.1,664.3L228.0,659.5L228.5,655.1L229.6,651.0L230.9,646.9L231.5,642.4L232.3,637.6L234.0,632.4L235.4,626.5L236.7,619.7L237.4,612.0L239.6,603.6L241.8,594.4L243.7,584.7L246.3,574.8L248.0,564.6L250.5,554.7L251.7,544.9L252.5,535.6L252.6,527.0L252.9,518.8L251.1,511.1L250.1,503.4L247.7,496.2L246.3,488.9L243.3,482.3L240.9,475.8L238.5,469.6L236.9,463.3L234.2,457.8L232.2,452.1L230.4,446.4L227.2,441.5L224.9,436.4L222.1,432.0L220.4,427.2L217.7,423.5L216.4,419.5L214.6,416.2ZM207.1,418.9L208.7,422.9L210.8,426.9L213.6,430.9L215.8,435.4L218.2,440.0L220.3,445.0L223.3,449.7L225.2,455.0L227.8,460.2L230.0,466.0L232.3,472.0L234.3,478.4L237.4,484.6L239.8,491.1L241.8,497.9L244.2,504.8L245.6,512.0L246.3,519.4L247.6,527.0L246.8,535.2L246.4,544.2L244.1,553.6L242.6,563.5L240.0,573.4L237.9,583.3L235.8,593.0L233.5,602.2L231.3,610.7L230.0,618.4L228.2,625.0L227.0,630.8L225.5,635.9L224.6,640.7L222.8,645.1L222.6,649.7L222.0,654.3L221.1,659.2L220.9,664.5L221.7,670.3L222.0,676.8L223.6,683.6L226.0,690.4L228.1,697.6L230.3,704.8L232.1,712.2L234.6,719.2L237.0,725.9L238.4,732.6L239.9,738.7L241.4,744.4L242.7,749.8L244.0,754.9L244.9,759.8L245.5,764.6L246.7,769.3L246.6,774.2L247.1,779.1L247.4,784.3L247.2,789.8L247.4,795.8L246.6,802.0L245.9,808.4L244.4,814.9L243.5,821.7L241.9,828.5L239.9,835.2L238.4,842.1L237.4,849.0L235.9,855.7L234.0,862.3L232.0,868.9L229.8,875.5L228.0,882.2L225.0,888.7L223.8,895.6L221.3,902.2L220.2,909.1L218.6,915.9L218.7,922.9L218.4,930.1L218.7,937.6L220.0,945.2L220.6,953.0L222.3,960.5L224.3,967.8L225.5,974.8L227.0,981.2L228.8,986.9L229.9,991.8L230.9,995.9L232.8,998.8L234.0,1001.1L235.0,1003.1L235.6,1004.9L236.7,1006.1L237.4,1007.3L238.3,1008.6L239.3,1010.3L240.1,1013.0L241.2,1016.4L242.0,1020.2L243.8,1023.8L245.4,1027.7L246.1,1032.1L248.1,1036.1L249.1,1040.6L249.7,1045.3L250.9,1050.0L250.7,1055.0L250.9,1060.3L250.1,1065.8L249.7,1071.7L248.4,1077.8L247.3,1084.1L246.2,1090.7L244.8,1097.3L243.4,1104.0L241.2,1110.6L240.5,1117.5L238.3,1124.1L236.9,1131.1L235.4,1138.2L233.2,1145.3L231.0,1152.6L229.5,1160.0L227.5,1167.3L226.7,1174.9L226.0,1182.4L224.5,1189.8L224.8,1197.3L225.2,1205.0L225.1,1212.8L225.8,1220.6L227.2,1228.3L228.6,1235.8L229.9,1243.0L230.7,1250.1L232.4,1256.6L232.8,1262.9L234.9,1268.4L236.2,1273.7L238.3,1278.2L240.2,1282.4L241.9,1286.3L244.0,1289.9L245.3,1293.7L246.7,1297.4L247.1,1301.6L248.1,1306.2L248.4,1311.4L248.0,1317.1L246.6,1322.9L245.8,1329.2L245.2,1335.7L243.5,1342.2L242.5,1349.0L241.0,1355.8L240.1,1362.7L239.7,1369.6L238.8,1376.4L237.6,1383.4L235.9,1390.4L235.0,1397.7L233.6,1404.9L231.9,1412.0L230.7,1419.2L229.8,1426.2L229.1,1433.2L228.5,1439.9L228.2,1446.4L228.1,1452.7L228.7,1458.8L228.4,1464.9L229.2,1470.8L229.2,1476.8L230.1,1482.6L231.0,1488.5L231.4,1494.4L232.3,1500.3L233.2,1506.4L234.2,1512.7L234.8,1519.1L236.4,1525.4L236.6,1531.8L238.2,1537.9L239.7,1543.9L240.4,1549.8L241.5,1555.3L242.8,1560.4L243.2,1565.3L244.1,1569.9L244.7,1574.4L244.6,1578.7L245.7,1582.8L246.3,1586.8L246.3,1590.8L248.0,1594.3L248.9,1597.9L250.6,1601.2L252.7,1604.3L255.0,1607.0L257.3,1609.6L259.7,1612.2L262.8,1613.7L265.5,1615.8L268.0,1617.8L270.8,1619.4L273.4,1621.1L276.1,1622.5L279.0,1623.3L281.2,1625.1L283.8,1626.1L286.3,1627.0L288.8,1628.1L291.2,1629.5L294.0,1630.0L296.7,1631.0L299.6,1631.9L302.5,1633.2L305.8,1633.4L309.0,1633.9L312.1,1634.8L315.4,1635.0L318.9,1635.8L322.5,1636.1L326.4,1636.0L330.6,1636.8L335.1,1636.8L340.1,1636.5L345.4,1636.0L351.1,1635.7L357.3,1635.4L363.7,1635.7L370.3,1635.2L377.2,1634.7L384.1,1633.7L391.2,1633.5L398.3,1632.5L405.4,1632.3L412.4,1631.5L419.5,1630.5L426.8,1630.2L434.0,1628.6L441.5,1628.2L449.0,1626.5L456.8,1626.0L464.6,1624.7L472.6,1623.2L480.7,1621.4L489.0,1619.0L497.8,1617.1L506.8,1614.7L515.8,1612.2L524.8,1609.2L534.0,1607.0L543.0,1604.6L552.0,1602.8L560.6,1600.7L569.1,1600.0L577.4,1599.8L585.5,1601.0L593.6,1601.7L601.6,1602.9L609.6,1604.3L617.6,1605.9L625.5,1607.7L633.4,1609.9L641.4,1611.8L649.4,1613.2L657.4,1614.6L665.6,1615.4L673.4,1617.9L681.4,1619.5L689.4,1621.3L697.5,1622.5L705.6,1623.6L713.7,1624.8L721.8,1625.0L730.0,1625.1L738.1,1625.9L746.0,1624.6L753.9,1624.0L761.8,1622.7L769.8,1622.2L777.6,1620.1L785.7,1619.1L793.7,1617.2L802.0,1615.8L810.4,1614.4L819.2,1613.6L827.9,1611.1L836.8,1609.1L845.8,1607.2L854.8,1604.9L864.1,1603.6L873.2,1601.7L882.4,1600.5L891.6,1599.6L900.9,1599.4L910.6,1599.2L920.6,1600.2L930.8,1602.3L941.2,1604.4L951.8,1606.2L962.2,1608.7L972.2,1611.4L981.9,1614.1L991.2,1616.0L999.8,1617.6L1008.0,1617.7L1015.5,1619.2L1022.6,1619.2L1029.3,1620.3L1035.8,1620.6L1042.2,1620.3L1048.6,1620.8L1054.9,1619.7L1061.4,1620.1L1068.1,1619.1L1075.1,1618.5L1082.0,1617.4L1088.9,1615.6L1095.8,1613.6L1102.7,1611.9L1109.8,1610.6L1116.7,1608.7L1123.5,1606.5L1130.4,1605.3L1137.2,1603.7L1144.1,1602.3L1151.2,1601.4L1158.3,1600.5L1165.3,1598.8L1172.4,1597.9L1179.2,1596.4L1186.1,1596.2L1192.6,1594.7L1199.1,1594.6L1205.1,1593.5L1210.9,1594.0L1216.3,1593.4L1221.5,1593.3L1226.5,1593.8L1231.4,1593.9L1236.3,1593.4L1241.0,1594.0L1245.9,1594.0L1250.7,1595.2L1255.8,1595.7L1260.8,1596.6L1266.0,1597.4L1271.4,1597.8L1276.5,1599.4L1281.6,1601.2L1287.0,1601.8L1292.2,1603.4L1297.3,1605.0L1302.6,1606.1L1307.7,1607.5L1312.8,1608.8L1318.0,1609.3L1323.0,1610.9L1328.1,1612.2L1333.2,1613.1L1338.3,1614.0L1343.5,1614.4L1348.5,1615.6L1353.7,1616.0L1358.8,1616.8L1364.1,1616.7L1369.4,1616.9L1374.7,1617.4L1380.1,1617.7L1385.5,1617.2L1390.8,1617.1L1395.9,1617.3L1400.9,1617.6L1405.7,1617.4L1410.2,1616.7L1414.4,1616.1L1418.5,1615.8L1422.1,1614.5L1425.8,1614.1L1429.3,1613.5L1432.6,1612.3L1435.9,1611.6L1439.1,1610.6L1442.3,1609.4L1445.6,1608.3L1448.9,1607.3L1452.3,1606.9L1455.5,1606.0L1458.5,1604.6L1461.5,1603.5L1464.8,1602.8L1468.0,1601.6L1471.4,1600.4L1475.2,1599.8L1479.3,1599.5L1483.6,1597.8L1488.3,1597.1L1493.3,1597.0L1498.3,1595.5L1503.6,1595.3L1508.9,1594.8L1514.3,1594.4L1519.7,1593.9L1524.9,1593.7L1530.0,1593.0L1535.2,1593.1L1540.5,1593.3L1545.8,1593.4L1551.1,1593.2L1556.4,1593.5L1561.6,1594.0L1566.8,1593.9L1571.7,1594.3L1576.3,1595.3L1580.8,1595.4L1584.9,1596.3L1588.8,1596.5L1592.4,1597.2L1595.8,1598.4L1599.2,1598.9L1602.4,1600.1L1605.5,1601.4L1608.9,1601.9L1612.0,1603.5L1615.4,1604.6L1618.9,1605.8L1622.6,1607.0L1625.9,1609.2L1629.6,1610.5L1633.4,1611.7L1636.8,1613.5L1640.2,1615.2L1643.1,1617.3L1646.5,1618.1L1649.2,1619.7L1651.7,1620.7L1654.0,1621.7L1655.6,1623.4L1657.4,1624.6L1659.2,1625.7L1661.4,1626.2L1663.2,1627.2L1665.3,1627.7L1667.5,1628.4L1670.0,1628.4L1672.7,1628.6L1675.6,1629.3L1678.7,1628.5L1681.9,1627.8L1685.3,1627.5L1688.6,1626.9L1692.0,1626.6L1695.2,1625.7L1698.5,1625.3L1701.3,1623.8L1704.3,1623.4L1707.2,1622.6L1709.9,1621.2L1712.6,1620.0L1715.1,1618.5L1717.6,1616.9L1720.1,1615.4L1722.8,1614.1L1724.6,1611.8L1727.2,1610.3L1729.5,1608.5L1731.1,1605.8L1733.1,1603.4L1735.6,1601.4L1737.6,1598.9L1739.2,1596.3L1741.1,1593.8L1742.6,1591.2L1743.4,1588.3L1744.6,1585.7L1744.9,1582.9L1745.6,1580.2L1746.0,1577.5L1745.6,1574.8L1745.3,1572.0L1745.1,1569.3L1744.0,1566.8L1743.3,1564.2L1742.3,1561.7L1741.8,1559.0L1740.8,1556.4L1738.6,1554.2L1737.3,1551.7L1735.8,1549.3L1734.5,1546.7L1733.6,1543.8L1732.3,1541.3L1730.7,1539.0L1728.8,1536.9L1727.4,1534.6L1726.5,1532.0L1725.1,1529.7L1723.9,1527.4L1722.3,1525.4L1721.0,1523.2L1719.8,1520.9L1719.1,1518.3L1717.4,1516.1L1716.4,1513.4L1715.2,1510.6L1713.6,1507.7L1712.5,1504.5L1711.4,1501.4L1709.8,1498.3L1708.6,1495.0L1706.6,1492.0L1706.1,1488.2L1705.0,1484.6L1704.2,1480.7L1703.6,1476.6L1703.4,1472.0L1702.4,1467.2L1702.2,1462.0L1702.8,1456.6L1702.9,1451.1L1702.5,1445.4L1703.4,1439.7L1703.9,1434.0L1705.2,1428.4L1705.9,1422.8L1707.5,1417.3L1709.1,1411.5L1711.3,1405.5L1712.7,1399.1L1715.5,1393.1L1717.3,1386.8L1720.1,1380.9L1722.2,1375.0L1723.8,1369.3L1725.2,1363.9L1726.5,1359.0L1727.1,1354.5L1728.2,1350.3L1729.1,1346.4L1729.0,1342.3L1729.3,1338.4L1729.7,1334.5L1730.5,1330.3L1729.9,1325.8L1730.1,1320.9L1729.4,1315.7L1729.3,1310.1L1728.4,1304.4L1727.9,1298.5L1726.2,1292.5L1725.6,1286.3L1723.8,1280.2L1723.2,1273.8L1721.4,1267.7L1719.9,1261.6L1718.6,1255.2L1716.9,1248.7L1714.8,1242.2L1713.2,1235.4L1711.1,1228.8L1709.3,1222.2L1707.7,1215.7L1706.2,1209.5L1705.2,1203.5L1703.9,1197.9L1704.0,1192.5L1704.2,1187.4L1704.8,1182.7L1705.5,1178.1L1706.5,1173.6L1707.3,1168.9L1708.5,1164.2L1710.3,1159.5L1712.1,1154.4L1713.6,1149.0L1714.5,1143.0L1716.6,1136.9L1719.0,1130.5L1721.4,1123.9L1723.7,1117.1L1726.0,1110.3L1728.5,1103.7L1729.7,1096.8L1731.2,1090.4L1732.9,1084.4L1733.4,1078.5L1733.3,1072.9L1732.8,1067.4L1733.3,1062.0L1732.8,1056.8L1731.3,1051.8L1730.7,1046.9L1730.6,1041.9L1729.0,1037.3L1728.7,1032.5L1728.2,1027.9L1726.5,1023.7L1725.8,1019.6L1724.5,1015.7L1723.4,1011.8L1722.6,1007.7L1720.4,1004.0L1719.1,999.8L1718.2,995.2L1717.0,990.3L1715.8,984.8L1714.4,978.8L1712.3,972.7L1711.8,965.9L1709.5,959.5L1708.3,952.8L1707.0,946.2L1706.3,939.7L1705.6,933.6L1706.0,927.8L1705.9,922.5L1705.7,917.3L1707.1,912.5L1707.7,907.6L1708.9,902.9L1709.2,898.0L1710.4,893.2L1711.6,888.2L1712.9,883.2L1714.6,878.1L1715.7,872.8L1717.2,867.5L1718.6,861.9L1720.2,856.3L1722.0,850.7L1724.2,845.1L1726.3,839.5L1727.8,833.8L1728.6,828.0L1729.6,822.5L1730.1,817.1L1729.8,811.9L1729.9,806.9L1729.7,801.9L1729.6,797.0L1728.7,792.1L1728.3,787.0L1727.8,781.7L1726.9,776.3L1725.7,770.6L1724.9,764.4L1724.2,757.9L1722.3,751.4L1720.8,744.7L1719.2,737.8L1717.2,731.0L1715.6,724.1L1714.7,717.0L1712.9,710.3L1711.4,703.6L1711.0,696.8L1709.8,690.2L1708.9,683.5L1707.8,676.9L1707.3,670.3L1706.6,663.6L1705.8,656.9L1706.5,650.1L1706.2,643.3L1707.3,636.3L1708.1,629.2L1709.1,621.9L1711.6,614.7L1713.8,607.2L1715.8,599.5L1718.5,591.9L1720.3,584.0L1722.6,576.2L1724.6,568.4L1726.4,560.7L1727.5,552.9L1728.7,544.9L1729.7,536.8L1731.4,528.8L1732.5,520.8L1733.0,512.9L1734.3,505.3L1734.8,497.8L1735.7,490.8L1735.9,484.1L1736.3,477.9L1736.2,471.9L1736.8,466.3L1736.6,460.8L1736.9,455.6L1735.9,450.7L1735.7,445.9L1735.2,441.3L1734.6,436.9L1734.3,432.6L1733.0,428.6L1732.4,424.7L1731.4,421.1L1730.4,417.6L1728.9,414.5L1728.2,411.1L1726.5,408.3L1725.4,405.2L1723.0,402.8L1721.7,399.9L1719.8,397.3L1717.9,394.8L1715.9,392.5L1714.4,389.6L1711.7,387.9L1710.0,385.1L1707.5,383.1L1705.1,381.0L1702.1,379.5L1699.5,377.4L1696.5,375.6L1693.1,374.3L1689.9,372.5L1686.5,370.8L1682.9,369.4L1679.2,368.5L1675.5,367.5L1671.8,366.8L1668.2,365.7L1664.6,365.2L1661.1,364.6L1657.6,363.9L1654.2,363.1L1650.7,363.3L1647.2,362.9L1643.8,362.5L1640.3,362.8L1636.9,362.9L1633.4,363.2L1630.0,362.4L1626.6,363.0L1623.4,363.0L1620.1,362.8L1616.9,362.7L1613.9,363.9L1610.6,364.1L1607.2,364.3L1603.6,364.1L1599.9,365.1L1595.8,365.1L1591.3,365.2L1586.6,366.0L1581.5,366.3L1576.3,367.3L1570.9,367.1L1565.4,367.5L1560.0,368.4L1554.5,368.6L1549.0,368.5L1543.8,368.6L1538.6,369.6L1533.3,369.8L1527.9,370.5L1522.5,370.2L1517.1,370.6L1511.8,371.2L1506.7,371.5L1501.7,371.6L1496.9,371.9L1492.5,373.4L1488.3,373.9L1484.6,374.8L1480.9,374.9L1477.7,376.5L1474.3,376.6L1471.2,377.5L1468.4,379.4L1465.2,380.4L1461.7,380.9L1458.1,381.8L1454.3,382.9L1450.7,385.1L1446.5,385.5L1442.7,387.5L1438.5,388.3L1434.3,389.4L1430.2,390.6L1426.1,392.1L1421.8,392.9L1417.5,393.6L1413.3,394.9L1408.7,395.2L1404.2,396.5L1399.5,396.6L1394.8,397.5L1390.2,397.6L1385.7,398.4L1381.3,399.3L1377.0,399.4L1373.0,399.8L1369.2,399.5L1365.6,399.1L1362.1,399.3L1358.8,398.7L1355.5,398.5L1352.3,398.0L1349.1,397.2L1345.9,397.0L1342.6,396.5L1339.3,395.6L1335.9,395.0L1332.5,394.3L1329.4,392.5L1325.8,392.2L1322.5,390.9L1319.1,390.0L1315.9,388.6L1312.4,387.9L1309.0,386.9L1305.6,385.8L1302.4,384.7L1299.2,383.4L1295.8,382.9L1292.9,381.0L1289.4,380.7L1286.2,379.0L1282.6,378.7L1279.1,377.4L1275.2,377.1L1271.3,376.4L1267.2,375.4L1262.8,374.9L1258.2,374.5L1253.4,374.3L1248.6,373.7L1243.8,373.3L1239.2,372.3L1234.6,372.6L1230.2,371.8L1226.1,372.1L1222.2,371.8L1218.6,371.5L1215.2,371.3L1211.9,371.6L1208.7,371.8L1205.5,371.9L1202.2,371.8L1198.9,372.7L1195.4,372.6L1191.8,373.2L1188.1,374.0L1184.2,373.7L1180.6,375.0L1176.6,374.7L1172.7,376.0L1168.6,375.9L1164.5,377.2L1160.0,377.8L1155.4,378.4L1150.6,379.4L1145.3,380.0L1139.7,380.7L1133.7,381.4L1127.7,382.6L1121.4,383.6L1115.4,385.6L1109.2,386.4L1103.3,387.9L1097.6,388.8L1092.3,390.1L1087.3,391.3L1082.3,392.1L1077.5,393.1L1072.8,393.7L1068.5,395.4L1064.1,396.1L1059.8,396.8L1055.7,396.9L1051.8,398.0L1047.9,398.3L1044.1,398.5L1040.6,398.2L1037.1,397.7L1033.7,397.3L1030.5,396.6L1027.2,396.6L1024.0,395.7L1020.9,395.0L1017.7,394.4L1014.4,394.6L1011.5,393.2L1008.5,393.2L1005.7,392.8L1002.9,392.5L1000.1,392.2L997.5,390.9L994.5,391.3L991.7,390.2L988.6,389.8L985.5,388.9L982.2,388.3L978.8,387.7L975.7,385.9L972.0,385.4L968.6,384.0L964.9,383.1L961.1,382.3L957.4,381.0L953.6,379.5L949.4,379.4L945.5,377.7L941.1,377.6L936.7,376.9L932.3,375.4L927.7,375.0L923.1,374.8L918.5,373.8L913.9,373.6L909.5,373.2L905.0,374.0L900.7,373.5L896.4,373.9L892.1,374.5L887.8,374.3L883.6,374.9L879.6,376.2L875.5,376.9L871.4,376.6L867.6,377.8L863.7,378.0L860.1,378.6L856.6,379.2L853.3,379.6L850.2,380.5L847.0,381.1L843.9,381.9L840.7,382.8L837.2,383.4L833.6,384.5L829.7,385.8L825.4,386.9L820.8,387.8L816.1,389.6L811.0,390.4L806.0,392.1L801.1,394.2L796.0,395.1L791.0,396.3L786.4,398.3L781.9,399.4L777.4,399.9L773.2,400.7L769.1,401.5L765.2,402.6L761.3,403.4L757.2,403.2L753.4,403.9L749.4,404.5L745.3,404.4L741.0,404.2L736.6,403.9L731.9,403.3L727.0,402.8L722.0,402.3L717.1,400.7L712.0,400.4L707.1,399.2L702.4,398.2L697.9,397.2L693.5,396.8L689.7,395.4L686.2,394.1L682.7,393.1L679.2,392.4L675.9,391.6L672.8,390.2L669.6,388.9L666.3,388.0L663.3,386.2L659.8,385.5L656.5,384.4L653.3,383.0L649.9,382.1L646.8,380.5L643.2,380.2L639.9,379.0L636.4,378.2L633.1,376.4L629.2,376.4L625.4,375.9L621.5,375.1L617.5,374.4L613.5,373.5L609.3,373.4L605.1,373.2L600.8,373.5L596.5,372.5L592.2,372.5L587.9,372.6L583.5,372.6L579.2,371.9L574.9,371.8L570.5,371.6L566.1,371.8L561.7,372.2L557.2,371.8L552.7,372.7L548.1,372.8L543.3,372.5L538.5,373.3L533.7,374.6L528.6,375.2L523.4,375.8L518.2,376.8L513.0,377.7L507.7,378.9L502.7,380.8L497.5,381.9L492.3,382.8L487.4,384.4L482.3,385.0L477.3,386.8L472.3,388.2L467.2,389.5L462.1,390.4L457.3,392.1L452.5,393.1L448.0,394.2L443.6,395.2L439.5,396.3L435.5,396.7L431.7,397.9L428.0,398.5L424.5,399.2L421.1,399.3L417.8,400.2L414.7,400.5L411.7,400.7L408.8,401.0L406.0,400.7L403.5,400.9L401.4,400.6L399.5,401.2L397.8,400.8L396.3,400.1L394.6,399.4L392.8,399.1L390.8,398.0L388.4,397.3L385.5,396.5L382.1,395.7L378.8,393.6L374.8,392.5L370.6,391.2L366.7,388.7L362.3,387.1L357.7,385.9L353.4,383.8L348.9,382.7L345.0,380.4L340.5,379.5L336.5,377.3L331.9,376.1L327.7,374.1L323.1,372.9L318.9,371.2L314.8,369.5L310.8,368.2L307.0,366.9L303.8,365.0L300.9,363.5L297.9,362.8L295.4,361.4L293.0,360.2L291.0,358.7L288.6,357.9L286.5,356.6L284.1,356.2L281.9,355.0L279.3,354.7L276.7,355.0L274.2,354.7L271.7,355.3L269.2,355.7L266.7,355.7L264.2,356.2L261.7,356.8L259.2,357.4L257.0,359.0L254.5,359.7L251.9,360.4L249.3,361.4L246.8,362.9L244.4,364.6L241.7,365.9L239.1,367.3L236.4,368.5L234.1,370.2L231.8,371.8L229.6,373.1L227.0,374.0L224.9,375.5L223.0,377.2L221.4,379.2L219.1,380.3L217.8,382.5L216.0,384.2L214.1,385.9L213.0,388.1L212.0,390.3L210.8,392.1L209.8,393.9L208.2,395.6L207.9,398.0L206.7,400.1L206.3,402.6L205.7,405.2L205.7,408.1L206.0,411.3L206.1,415.0Z" fill="#ef9426" fill-rule="evenodd"/>
<path d="M210.1,414.0L213.7,409.6L215.8,406.5L216.1,403.8L217.0,400.9L217.6,397.0L219.0,393.3L220.7,389.9L222.2,386.3L224.9,383.5L228.2,381.4L231.4,379.0L234.4,376.4L237.9,374.7L241.8,373.5L245.2,371.6L247.4,367.5L249.2,362.2L249.2,362.3L243.7,360.6L238.9,361.0L235.5,363.7L232.5,366.8L229.6,370.1L226.5,373.0L223.5,375.9L220.4,378.9L217.1,381.8L214.6,385.4L211.2,388.5L208.5,391.9L206.4,395.8L204.0,400.2L203.1,405.4L205.0,410.4L210.4,413.9ZM244.7,366.5L248.8,365.8L253.1,365.7L257.1,365.4L260.9,364.9L264.5,364.0L268.0,363.1L271.5,362.3L275.0,361.9L278.4,361.4L281.8,361.9L285.3,362.6L288.7,364.3L292.3,366.2L296.0,368.0L299.9,369.4L303.6,371.2L307.4,372.6L311.0,374.7L314.9,375.7L318.5,377.5L322.0,379.9L325.6,381.6L329.3,383.2L333.4,384.0L337.3,385.0L341.6,385.0L345.8,385.3L346.1,384.7L342.9,381.8L339.6,379.0L335.9,377.5L332.5,374.9L328.6,374.0L324.8,372.5L321.0,371.2L317.0,370.3L313.4,368.5L309.4,367.6L305.6,366.3L301.8,365.0L298.2,363.3L294.9,361.0L291.3,359.1L287.7,356.8L283.9,354.5L279.5,353.6L275.0,353.1L270.5,352.4L266.1,352.8L261.7,353.3L257.7,355.0L254.1,357.6L250.7,360.4L247.1,362.5L244.6,366.4ZM344.2,384.1L347.4,387.0L350.9,389.5L354.2,392.2L357.7,394.7L361.8,395.2L365.6,396.8L369.8,397.5L373.6,399.0L377.6,400.1L381.5,401.4L385.7,401.9L389.7,402.9L393.8,403.8L398.1,404.6L402.3,405.9L406.6,406.1L410.8,405.6L415.0,406.1L419.2,405.7L423.4,405.6L427.6,405.7L431.8,405.3L436.0,405.3L440.1,404.3L444.4,404.2L448.3,402.7L452.5,402.2L456.3,400.3L460.1,398.6L463.7,396.2L467.0,392.8L466.8,392.1L462.5,391.6L458.2,391.2L454.1,391.9L449.9,391.5L446.0,392.7L442.1,393.6L438.3,394.9L434.4,395.5L430.4,396.3L426.6,397.8L422.6,398.6L418.6,399.0L414.7,399.3L410.7,400.2L406.7,400.2L402.7,400.6L398.9,399.7L395.2,398.4L391.3,397.6L387.5,396.2L383.9,394.2L379.9,393.4L376.4,391.2L372.6,389.7L369.0,387.5L365.1,386.6L361.6,384.3L357.3,384.0L353.2,383.3L348.9,383.2L344.5,383.3ZM350.0,391.7L353.6,393.8L357.3,395.6L361.1,397.2L364.9,398.8L368.7,400.4L372.5,402.0L376.4,403.6L380.3,405.1L384.2,406.5L388.1,407.8L392.4,409.1L397.1,410.2L402.0,410.7L402.0,410.7L397.2,409.8L392.6,408.4L388.4,406.7L384.6,405.1L380.8,403.6L376.9,402.1L373.0,400.5L369.2,398.9L365.4,397.3L361.6,395.7L357.9,394.1L354.1,392.6L350.1,391.4ZM464.8,392.2L469.3,393.0L473.3,392.1L477.4,391.6L481.5,391.0L485.3,389.3L489.4,388.9L493.4,387.7L497.4,387.0L501.4,385.7L505.4,385.0L509.6,384.9L513.5,383.6L517.7,383.7L521.8,382.8L525.8,382.2L530.0,382.5L534.0,381.7L538.1,382.1L542.1,381.3L546.2,381.3L550.2,380.3L554.2,380.1L558.3,379.9L562.3,379.8L566.4,379.5L570.4,378.5L574.5,378.8L578.6,377.5L582.7,376.2L586.8,374.4L586.8,374.5L582.7,372.7L578.6,370.5L574.4,370.1L570.2,369.7L566.0,369.2L561.8,368.8L557.6,369.2L553.3,368.9L549.2,370.0L545.0,370.2L540.8,370.9L536.7,371.5L532.5,371.9L528.5,373.3L524.4,374.2L520.2,374.9L516.2,376.1L512.3,377.5L508.2,378.1L504.3,379.7L500.2,380.4L496.2,381.3L492.2,382.3L488.1,383.2L483.9,383.4L480.0,384.8L475.9,385.7L471.9,386.9L468.3,389.2L464.7,392.0ZM590.8,373.9L594.9,376.5L598.9,378.7L602.9,379.7L606.9,381.1L610.9,381.9L614.8,383.1L618.7,384.0L622.7,384.2L626.7,384.6L630.6,385.1L634.6,385.4L638.7,385.8L642.6,387.2L646.5,388.5L650.7,389.1L654.7,390.1L659.2,389.9L659.4,389.2L655.7,387.1L652.1,384.8L648.5,382.4L644.7,380.6L640.8,379.1L637.0,376.9L632.9,375.7L629.0,373.4L624.9,372.0L620.6,371.8L616.4,371.0L612.1,370.9L607.8,370.8L603.6,371.0L599.3,371.5L595.0,372.9L590.8,374.0ZM602.7,381.9L606.7,383.3L610.7,384.0L614.6,384.9L618.5,385.7L622.3,386.6L626.1,387.3L629.8,388.2L629.8,388.2L626.3,386.7L622.6,385.3L618.7,384.2L614.8,383.3L610.8,382.4L606.8,381.7L602.8,381.6ZM663.4,389.9L666.5,393.6L669.7,396.8L673.6,398.4L677.7,399.6L681.9,400.5L686.1,401.4L690.4,401.9L694.5,403.1L698.7,403.4L703.0,403.5L707.1,404.0L711.3,404.8L715.4,405.7L719.6,406.0L723.6,407.2L727.8,408.3L732.1,407.6L736.5,405.5L736.5,405.3L732.6,401.6L728.7,400.6L724.5,401.0L720.4,400.7L716.3,400.1L712.3,399.4L708.1,399.2L704.1,398.2L700.2,396.6L696.3,395.1L692.3,394.2L688.6,392.3L684.8,391.0L681.0,389.9L677.0,388.7L673.1,387.6L668.6,387.5L663.7,389.1ZM703.0,400.3L706.3,404.1L710.1,405.9L714.3,405.6L718.2,406.5L722.3,406.7L726.2,408.0L730.1,409.6L734.2,410.4L738.3,411.9L742.6,412.1L746.8,412.3L751.1,412.6L755.3,411.2L758.8,406.8L758.7,406.3L754.2,402.7L750.1,401.7L746.3,402.0L742.5,402.2L738.7,401.9L734.8,401.9L730.8,403.0L727.0,401.9L723.0,402.1L719.1,400.9L715.3,399.6L711.5,398.4L707.8,396.9L703.1,399.9ZM752.6,405.9L757.0,407.8L761.4,409.2L765.5,408.5L769.6,407.7L773.4,406.3L777.3,404.8L781.0,402.9L784.8,401.3L788.9,400.8L793.0,400.2L796.8,398.7L800.8,398.0L804.9,397.4L808.5,395.3L811.7,391.5L811.6,391.3L807.2,390.8L802.9,390.4L799.0,391.7L795.3,393.1L791.6,395.0L787.7,396.0L783.8,396.8L779.7,397.3L775.8,398.3L771.7,398.7L767.7,399.3L763.6,399.2L759.9,400.7L756.3,403.3L752.6,405.8ZM794.2,396.1L798.5,396.5L802.8,396.8L806.9,396.2L810.7,395.0L814.5,393.4L818.2,391.9L822.0,390.3L826.1,390.0L829.8,388.3L833.9,388.2L837.8,387.1L841.8,386.8L845.7,385.7L849.7,385.1L853.7,384.6L857.7,384.5L861.7,384.4L865.7,383.9L869.7,383.2L873.7,383.1L877.6,382.0L881.7,382.3L885.5,381.0L889.5,380.7L893.5,380.7L897.4,380.1L901.3,379.5L905.2,378.8L909.2,378.8L913.2,378.7L917.3,377.5L921.4,377.4L925.6,375.8L925.6,375.6L921.7,374.3L917.8,372.4L913.7,370.9L909.6,369.6L905.4,369.5L901.1,369.5L896.9,369.2L892.6,368.7L888.5,369.7L884.3,370.2L880.2,370.2L876.1,371.0L872.1,371.9L868.0,372.1L864.1,373.0L860.0,373.7L856.1,375.0L852.0,375.7L848.2,377.7L844.1,378.4L840.2,379.4L836.2,380.6L832.3,381.7L828.5,383.2L824.5,384.2L820.6,385.2L816.7,386.4L812.9,387.7L808.9,388.6L804.8,389.1L801.2,391.2L797.7,393.3L794.1,395.5ZM891.4,375.4L895.6,377.7L899.6,379.2L903.5,378.9L907.4,378.7L911.4,378.1L915.3,378.7L919.2,379.8L923.1,380.4L927.0,381.2L930.9,381.9L934.6,383.6L938.5,384.2L942.4,385.5L946.2,386.6L949.8,388.1L953.7,388.6L957.4,389.8L961.1,391.0L965.1,391.2L968.8,392.6L973.0,392.8L977.5,391.8L981.9,390.8L981.9,390.9L978.7,387.2L975.5,384.1L971.9,382.1L968.0,381.1L964.3,379.4L960.3,378.5L956.3,377.3L952.4,375.8L948.2,375.6L944.2,374.9L940.2,374.2L936.1,374.1L932.0,374.6L927.9,374.3L924.0,373.2L919.8,373.7L915.8,373.1L911.7,372.8L907.6,371.7L903.5,371.8L899.3,371.0L895.3,373.0L891.4,374.9ZM975.9,390.1L979.8,391.5L983.5,393.9L987.5,395.0L991.3,396.9L995.5,397.5L999.4,398.8L1003.6,399.5L1007.7,400.5L1011.7,401.6L1015.7,402.5L1019.6,404.1L1023.7,404.4L1027.8,405.5L1032.1,406.1L1036.4,406.5L1040.8,406.9L1045.3,406.2L1049.6,405.9L1053.9,405.4L1058.1,404.5L1062.3,403.5L1066.2,401.7L1070.2,400.5L1074.0,398.2L1078.0,397.0L1081.8,395.1L1081.8,395.0L1077.6,395.3L1073.5,395.4L1069.2,395.3L1065.0,394.6L1060.9,394.8L1056.9,395.3L1053.0,395.5L1049.0,395.5L1045.2,395.8L1041.3,395.0L1037.5,395.2L1033.7,394.2L1029.6,394.4L1025.7,393.3L1021.5,393.4L1017.3,393.3L1013.1,393.3L1009.0,392.9L1005.0,392.0L1000.8,392.1L996.8,391.5L992.8,390.6L988.4,391.0L984.3,390.7L980.2,389.9L976.0,389.6ZM1048.3,399.9L1052.5,402.1L1056.7,402.8L1060.8,402.6L1064.7,401.5L1068.7,400.8L1072.6,399.7L1076.4,398.3L1080.5,398.3L1084.4,397.7L1088.3,396.4L1092.3,396.2L1096.2,395.3L1100.2,394.8L1104.3,394.7L1108.3,394.2L1112.3,393.7L1116.2,392.8L1120.2,392.2L1124.2,391.6L1128.3,391.6L1132.2,391.0L1136.1,390.0L1140.0,389.1L1143.9,388.4L1147.9,388.0L1151.8,387.2L1155.7,386.2L1159.7,385.9L1163.4,384.3L1167.4,383.8L1171.2,382.5L1175.0,381.0L1178.8,379.3L1182.5,376.9L1182.4,376.8L1178.2,375.8L1174.1,375.1L1169.9,374.9L1165.9,375.2L1161.8,374.8L1157.9,376.0L1153.8,375.8L1149.8,376.6L1145.8,377.1L1141.8,377.7L1137.9,378.8L1134.0,379.7L1130.0,380.5L1126.2,381.7L1122.3,382.6L1118.4,383.9L1114.6,385.0L1110.7,385.9L1106.7,386.5L1102.9,387.6L1099.1,388.9L1095.1,389.5L1091.3,390.8L1087.4,391.8L1083.3,391.7L1079.5,393.3L1075.5,393.9L1071.5,394.3L1067.6,395.0L1063.5,394.5L1059.7,395.7L1055.9,396.5L1052.1,397.6L1048.3,399.7ZM1078.9,390.6L1082.9,390.0L1086.9,389.4L1090.8,388.5L1094.7,387.6L1098.6,386.7L1102.5,385.7L1106.4,384.8L1110.2,383.8L1114.1,382.9L1118.0,381.9L1121.9,380.9L1125.8,379.9L1129.7,378.8L1133.5,377.7L1137.4,376.6L1141.3,375.6L1145.3,374.5L1149.2,373.5L1149.2,373.5L1145.2,374.2L1141.2,375.1L1137.3,375.9L1133.3,376.7L1129.4,377.5L1125.5,378.4L1121.6,379.4L1117.7,380.3L1113.8,381.3L1109.9,382.3L1106.0,383.2L1102.2,384.2L1098.3,385.1L1094.4,386.0L1090.5,386.9L1086.6,387.8L1082.7,389.0L1078.9,390.3ZM1186.2,374.5L1190.6,377.2L1194.7,378.1L1198.8,378.0L1202.7,376.8L1206.6,376.1L1210.7,376.2L1214.6,375.6L1218.6,375.7L1222.6,375.7L1226.7,375.5L1230.7,376.2L1234.7,376.5L1238.7,377.4L1242.7,377.7L1246.7,378.1L1250.6,379.7L1254.5,380.4L1258.5,380.9L1262.3,382.0L1266.1,383.5L1270.1,383.5L1273.7,385.1L1277.8,384.4L1282.3,383.2L1282.5,382.3L1279.4,378.1L1275.7,376.0L1271.8,374.3L1267.6,374.1L1263.5,373.5L1259.4,373.1L1255.3,373.2L1251.3,372.2L1247.2,372.8L1243.1,371.9L1239.1,372.0L1235.0,371.5L1230.9,371.2L1226.9,370.9L1222.8,370.8L1218.7,370.0L1214.5,370.2L1210.4,369.9L1206.2,368.9L1202.1,369.1L1197.9,369.3L1193.8,369.2L1189.8,370.8L1186.1,374.0ZM1193.9,369.8L1198.0,369.7L1202.1,369.3L1206.2,368.9L1210.3,368.5L1214.5,368.2L1218.7,368.0L1222.8,367.9L1227.0,367.8L1231.1,367.8L1235.2,367.8L1239.4,367.7L1243.5,367.7L1247.6,367.7L1251.8,367.7L1251.8,367.7L1247.7,367.3L1243.6,367.0L1239.4,366.7L1235.3,366.4L1231.2,366.2L1227.0,366.2L1222.9,366.3L1218.7,366.4L1214.5,366.6L1210.3,366.9L1206.1,367.3L1201.9,367.8L1197.9,368.5L1193.8,369.5ZM1255.2,377.8L1259.1,378.9L1262.9,381.0L1266.9,381.6L1270.7,382.4L1274.3,384.2L1278.1,385.1L1281.8,386.4L1285.3,388.4L1289.1,389.8L1293.0,391.1L1296.9,392.4L1300.8,394.0L1305.0,394.6L1309.0,395.6L1312.9,396.6L1317.1,397.0L1321.0,398.2L1325.2,398.6L1329.4,398.9L1333.5,399.7L1337.5,400.5L1341.7,400.5L1345.7,401.5L1349.8,402.0L1354.0,402.3L1358.2,401.8L1362.5,399.9L1362.5,400.2L1358.6,398.5L1354.8,396.7L1350.8,395.9L1346.8,395.8L1342.8,395.0L1338.9,393.9L1335.1,392.3L1331.2,391.4L1327.5,389.8L1323.6,388.9L1319.7,387.7L1316.1,385.5L1312.2,384.5L1308.2,383.4L1304.3,382.4L1300.6,381.0L1296.7,380.0L1292.5,379.7L1288.7,377.9L1284.4,377.9L1280.3,377.1L1276.2,376.1L1271.9,376.3L1267.8,376.0L1263.6,375.8L1259.4,376.4L1255.3,377.1ZM1352.7,397.9L1356.3,401.7L1360.3,403.5L1364.5,403.5L1368.7,403.0L1372.8,402.1L1376.9,402.0L1381.0,401.8L1385.1,402.0L1389.2,401.9L1393.4,403.0L1397.6,403.1L1401.7,402.8L1405.5,400.4L1409.1,396.4L1408.9,395.7L1404.4,392.9L1400.3,391.8L1396.3,392.6L1392.5,394.1L1388.6,395.1L1384.7,396.3L1380.7,396.2L1376.7,397.3L1372.7,396.7L1368.8,395.8L1365.0,395.1L1361.2,394.0L1357.2,395.2L1352.7,398.1ZM1368.6,406.7L1372.9,407.8L1377.1,408.1L1381.4,408.3L1385.6,408.4L1389.8,408.1L1394.0,407.7L1394.0,407.7L1389.7,407.3L1385.5,406.8L1381.3,406.7L1377.1,406.5L1372.8,406.2L1368.6,406.4ZM1381.4,401.1L1385.9,405.4L1390.1,405.7L1394.2,404.7L1398.3,404.1L1402.4,403.1L1406.5,402.3L1410.5,401.2L1414.6,400.6L1418.7,399.4L1422.8,398.9L1427.0,398.6L1431.1,397.5L1435.2,396.8L1439.5,396.5L1443.3,394.9L1446.2,390.1L1446.0,389.7L1441.1,387.5L1437.1,388.3L1433.3,389.9L1429.5,391.3L1425.6,392.7L1421.8,393.9L1417.7,394.4L1413.7,395.1L1409.5,394.9L1405.4,394.8L1401.3,395.2L1397.2,395.0L1393.2,395.1L1389.2,395.7L1385.2,396.9L1381.4,400.5ZM1393.1,394.4L1397.1,394.1L1401.1,393.2L1405.0,392.2L1408.9,391.2L1412.8,389.7L1416.5,388.2L1416.5,388.2L1412.6,388.9L1408.7,389.6L1404.8,390.6L1400.9,391.6L1396.9,392.5L1393.0,394.0ZM1413.0,398.4L1417.2,398.6L1421.5,399.0L1425.6,398.3L1429.7,397.6L1433.6,396.3L1437.5,394.8L1441.6,394.3L1445.7,393.7L1449.6,392.5L1453.5,391.5L1457.4,390.7L1461.4,390.0L1465.6,389.8L1469.7,389.2L1473.5,387.5L1477.5,387.1L1481.3,386.0L1484.9,384.4L1488.8,383.9L1492.4,382.3L1496.2,380.8L1500.0,379.0L1503.8,377.0L1503.8,377.0L1499.6,375.7L1495.3,374.8L1491.1,374.1L1486.9,374.4L1482.8,375.1L1478.6,375.5L1474.6,376.6L1470.8,378.3L1466.9,379.2L1462.9,380.1L1459.2,381.9L1455.3,382.9L1451.6,385.0L1447.7,386.1L1443.8,387.3L1440.1,389.1L1436.2,390.2L1432.2,391.0L1428.3,392.0L1424.4,393.1L1420.5,394.1L1416.7,395.8L1413.0,398.1ZM1434.1,398.1L1438.3,397.8L1442.4,396.9L1446.4,396.0L1450.3,395.1L1454.2,394.2L1458.2,393.3L1462.1,392.5L1466.1,391.4L1470.0,390.3L1473.9,389.1L1473.9,389.1L1469.9,389.8L1465.8,390.5L1461.7,391.1L1457.7,391.8L1453.8,392.6L1449.9,393.5L1445.9,394.4L1441.9,395.4L1437.9,396.3L1434.0,397.7ZM1507.5,374.0L1511.7,375.4L1515.8,375.8L1519.9,376.5L1523.9,376.9L1527.9,376.5L1532.0,376.2L1536.0,376.5L1540.1,376.4L1544.1,376.8L1548.1,375.9L1552.1,375.6L1556.1,375.3L1560.1,375.3L1564.1,374.6L1568.1,374.1L1572.1,373.9L1576.1,373.4L1580.2,373.0L1584.2,372.6L1588.2,371.9L1592.2,371.3L1596.2,370.4L1600.3,370.7L1604.4,370.4L1608.4,370.1L1612.4,369.8L1616.3,368.6L1620.3,367.8L1624.2,366.1L1624.1,365.4L1620.0,364.4L1615.9,364.0L1611.7,363.8L1607.8,364.8L1603.8,365.3L1599.9,365.9L1595.9,366.2L1591.8,365.8L1587.8,366.0L1583.8,366.3L1579.7,365.9L1575.7,365.8L1571.6,365.6L1567.6,365.3L1563.5,365.8L1559.5,365.2L1555.4,365.7L1551.4,365.5L1547.4,366.7L1543.3,366.5L1539.3,367.5L1535.3,367.1L1531.3,368.5L1527.3,368.9L1523.3,369.3L1519.3,370.0L1515.3,371.2L1511.4,372.8L1507.5,374.3ZM1618.2,366.4L1622.2,367.3L1626.2,367.7L1630.1,368.0L1634.1,368.5L1638.0,367.9L1642.0,368.4L1645.9,368.4L1649.8,368.9L1653.6,370.0L1657.5,370.5L1661.1,372.3L1664.8,373.3L1668.5,374.7L1672.3,375.6L1675.9,376.9L1679.6,377.9L1683.2,379.5L1687.1,379.8L1690.6,381.4L1693.9,383.1L1697.5,384.4L1701.5,385.3L1705.2,386.8L1709.1,388.3L1708.8,388.6L1706.4,385.3L1704.0,381.7L1701.2,378.3L1697.9,375.7L1694.2,373.7L1690.5,371.6L1686.5,370.5L1682.6,368.9L1678.8,367.5L1674.8,366.5L1670.7,365.9L1666.6,365.6L1662.6,364.4L1658.4,364.6L1654.4,364.3L1650.3,364.4L1646.3,363.5L1642.2,364.0L1638.2,363.9L1634.1,364.1L1630.1,363.2L1626.1,364.3L1622.1,365.3L1618.2,366.4ZM1690.8,376.2L1693.8,379.5L1696.4,383.0L1699.1,386.0L1701.2,389.7L1704.2,391.9L1706.9,394.4L1709.2,397.4L1711.3,400.4L1713.6,403.4L1716.1,406.3L1718.4,409.3L1720.2,412.7L1722.0,416.1L1724.3,419.4L1726.0,423.0L1727.7,426.7L1728.8,430.6L1729.9,434.5L1730.7,438.5L1731.6,442.5L1731.4,446.6L1731.9,450.7L1732.2,454.7L1732.4,458.8L1733.2,462.9L1734.1,467.0L1735.9,471.2L1736.6,471.2L1738.3,467.0L1739.1,462.8L1739.2,458.6L1739.8,454.3L1739.0,450.1L1738.4,445.9L1738.0,441.7L1736.9,437.6L1736.9,433.3L1736.3,429.1L1735.2,424.9L1734.8,420.5L1734.3,416.0L1732.7,411.8L1731.7,407.4L1729.9,403.2L1728.0,399.1L1725.5,395.3L1722.6,391.7L1719.4,388.4L1716.3,384.9L1712.6,382.2L1708.8,379.7L1704.3,378.2L1700.0,376.9L1695.6,376.0L1690.8,376.3ZM1733.9,469.1L1731.8,473.1L1730.5,477.0L1728.2,480.8L1726.6,484.7L1726.3,488.6L1725.3,492.4L1725.7,496.4L1724.5,500.3L1725.2,504.4L1725.0,508.3L1724.4,512.3L1723.9,516.2L1724.4,520.3L1723.8,524.3L1723.8,528.3L1722.9,532.2L1722.6,536.2L1722.8,540.3L1721.6,544.2L1721.1,548.1L1719.9,552.0L1719.8,556.0L1718.0,559.7L1717.6,563.6L1716.1,567.3L1714.5,571.0L1713.1,574.7L1712.1,578.5L1711.9,582.6L1711.7,586.7L1712.0,591.0L1712.7,595.4L1712.5,595.3L1716.5,592.3L1718.9,588.8L1720.6,585.1L1722.4,581.5L1724.5,577.8L1724.3,573.5L1725.1,569.5L1725.4,565.4L1726.1,561.4L1727.3,557.5L1727.7,553.4L1728.3,549.4L1729.3,545.5L1730.3,541.6L1730.2,537.5L1731.2,533.6L1732.5,529.7L1733.7,525.8L1734.4,521.8L1736.0,518.0L1736.6,513.9L1737.3,509.9L1738.5,506.0L1739.4,502.0L1740.4,498.0L1740.2,493.9L1741.2,489.9L1740.7,485.7L1738.9,481.5L1738.1,477.3L1736.6,473.2L1734.9,469.1ZM1717.5,578.1L1713.5,581.1L1711.7,584.9L1711.5,589.1L1710.6,593.0L1708.7,596.8L1707.9,600.8L1706.1,604.6L1704.0,608.3L1703.0,612.4L1700.9,616.2L1700.5,620.4L1700.1,624.6L1700.3,629.0L1702.2,633.5L1705.1,637.9L1705.4,638.0L1708.4,634.2L1711.8,630.8L1712.8,627.0L1713.7,623.2L1713.9,619.2L1714.2,615.2L1715.2,611.3L1714.7,607.0L1714.8,602.8L1716.0,598.9L1716.5,594.8L1717.9,591.0L1718.7,586.9L1719.7,582.9L1718.2,578.2ZM1719.0,599.8L1718.0,603.8L1717.7,607.9L1718.2,612.2L1718.2,612.2L1719.2,608.3L1719.6,604.2L1719.3,599.9ZM1707.6,620.2L1703.7,623.6L1700.3,627.2L1699.6,631.3L1699.6,635.5L1700.6,639.8L1700.2,643.9L1700.8,648.0L1700.5,652.1L1701.0,656.2L1700.4,660.4L1699.4,664.5L1699.2,668.7L1698.7,672.9L1699.2,677.0L1698.3,681.2L1700.3,685.1L1703.5,688.8L1706.8,692.4L1707.9,692.2L1710.6,687.7L1712.4,683.4L1713.5,679.3L1712.3,675.4L1711.6,671.5L1709.9,667.7L1709.4,663.8L1708.9,659.9L1708.2,656.0L1708.2,652.1L1708.2,648.1L1708.3,644.2L1708.9,640.3L1710.8,636.7L1712.1,633.0L1712.1,629.1L1711.1,625.0L1707.9,620.3ZM1704.9,664.4L1700.5,668.9L1699.8,673.2L1701.2,677.2L1702.2,681.2L1703.8,685.1L1704.5,689.2L1705.0,693.2L1705.7,697.3L1705.8,701.4L1705.9,705.5L1705.5,709.8L1705.4,714.0L1705.9,718.2L1706.2,722.4L1708.7,726.1L1714.3,729.0L1714.1,729.0L1717.9,724.0L1718.7,719.7L1717.5,715.9L1716.6,712.0L1714.7,708.2L1713.9,704.3L1712.7,700.4L1711.8,696.4L1711.5,692.3L1711.3,688.2L1711.3,684.1L1711.9,679.9L1711.7,675.9L1711.8,671.9L1710.4,668.0L1705.9,664.3ZM1712.1,727.4L1711.5,731.8L1711.3,736.1L1712.1,740.1L1712.9,744.1L1714.5,747.9L1715.2,752.0L1715.8,756.0L1716.1,760.1L1716.7,764.0L1716.6,768.1L1717.6,772.0L1717.4,776.2L1717.3,780.3L1718.4,784.3L1718.3,788.3L1718.9,792.3L1720.2,796.1L1720.3,800.1L1721.5,804.0L1721.5,807.9L1722.6,811.8L1722.1,815.7L1723.6,819.9L1724.9,824.1L1725.2,828.3L1725.8,828.4L1728.0,824.6L1730.0,820.6L1731.0,816.4L1732.2,812.2L1732.3,807.9L1732.5,803.6L1733.1,799.3L1733.1,795.0L1732.2,790.8L1732.2,786.6L1730.7,782.6L1730.4,778.4L1729.7,774.4L1728.5,770.4L1727.2,766.3L1725.6,762.4L1724.5,758.3L1723.4,754.3L1721.5,750.5L1720.8,746.5L1719.4,742.6L1718.7,738.5L1716.8,734.8L1715.1,731.0L1712.8,727.3ZM1708.5,736.7L1708.8,740.9L1709.4,745.0L1710.2,749.0L1710.9,752.9L1711.6,756.9L1712.3,760.9L1712.9,764.8L1713.4,768.7L1713.9,772.6L1714.4,776.6L1715.0,780.6L1715.5,784.6L1716.1,788.6L1716.5,792.5L1716.5,792.5L1716.4,788.6L1716.2,784.6L1716.0,780.5L1715.8,776.4L1715.5,772.4L1715.0,768.4L1714.5,764.5L1713.9,760.5L1713.2,756.6L1712.5,752.6L1711.8,748.6L1711.0,744.6L1710.0,740.6L1708.8,736.7ZM1724.3,822.1L1720.8,825.5L1718.1,828.8L1716.7,832.3L1715.4,835.9L1713.9,839.4L1712.6,843.1L1711.6,846.9L1710.6,850.8L1709.5,854.7L1709.2,858.9L1708.3,862.9L1708.3,867.1L1707.3,871.1L1706.6,875.2L1706.3,879.3L1705.2,883.1L1705.6,887.3L1707.0,891.8L1707.2,891.8L1710.4,888.5L1712.7,884.9L1712.6,880.8L1713.9,877.0L1714.8,873.2L1716.5,869.6L1718.7,866.2L1719.8,862.4L1721.3,858.8L1723.5,855.3L1724.5,851.3L1725.6,847.4L1726.4,843.4L1727.0,839.3L1727.4,835.1L1727.6,830.9L1726.5,826.5L1724.2,822.0ZM1731.4,831.8L1730.1,835.8L1729.2,840.0L1728.2,844.0L1727.2,848.0L1726.2,851.9L1725.1,855.8L1724.3,859.8L1723.5,863.7L1722.9,867.5L1722.9,867.5L1724.1,863.9L1725.3,860.1L1726.6,856.4L1727.7,852.5L1728.7,848.5L1729.8,844.5L1730.7,840.4L1731.6,836.2L1731.7,831.9ZM1713.0,870.6L1709.3,873.9L1705.6,877.2L1705.0,881.3L1703.5,885.1L1703.5,889.3L1702.4,893.2L1702.4,897.5L1701.3,901.5L1700.6,905.6L1700.1,909.7L1700.3,913.9L1699.7,918.0L1699.2,922.2L1699.6,926.4L1700.1,930.5L1700.2,934.7L1700.2,938.9L1699.9,943.1L1700.7,947.2L1700.4,951.4L1701.4,955.4L1701.2,959.7L1702.1,963.7L1702.7,967.8L1703.4,971.9L1704.1,975.9L1704.6,980.0L1705.4,984.0L1706.7,987.8L1708.4,991.6L1711.9,995.1L1715.7,998.3L1715.7,998.3L1717.6,993.6L1718.3,989.3L1719.1,984.9L1718.0,981.0L1716.6,977.1L1716.0,973.1L1714.6,969.2L1713.6,965.3L1713.2,961.3L1711.8,957.5L1710.5,953.6L1709.7,949.7L1708.7,945.8L1707.2,942.0L1706.7,938.0L1706.1,934.1L1706.1,930.2L1705.3,926.3L1705.7,922.3L1706.3,918.4L1706.3,914.5L1706.9,910.6L1708.4,906.8L1709.2,903.0L1710.6,899.2L1711.9,895.4L1713.2,891.6L1713.7,887.5L1715.9,883.8L1715.6,879.6L1714.8,875.3L1712.9,870.6ZM1712.6,992.9L1711.2,997.6L1709.9,1002.5L1711.0,1006.7L1711.8,1011.0L1712.4,1015.2L1713.0,1019.4L1714.1,1023.2L1715.7,1026.8L1717.2,1030.4L1718.7,1034.1L1720.2,1038.1L1721.3,1042.2L1722.8,1046.1L1723.8,1050.1L1724.6,1054.2L1725.8,1058.1L1725.8,1062.2L1726.9,1066.2L1730.0,1070.2L1730.7,1070.2L1732.7,1065.9L1733.5,1061.6L1733.0,1057.3L1732.3,1053.1L1731.8,1048.9L1731.9,1044.5L1731.0,1040.4L1731.1,1036.1L1731.1,1031.8L1730.4,1027.5L1730.5,1022.9L1728.7,1018.8L1727.6,1014.6L1725.9,1010.7L1723.7,1007.0L1721.5,1003.4L1720.3,999.4L1716.6,996.2L1712.6,992.9ZM1729.8,1068.2L1727.5,1072.2L1726.8,1076.1L1725.1,1079.9L1724.7,1083.7L1725.4,1087.7L1724.2,1091.4L1723.7,1095.3L1722.7,1099.2L1722.2,1103.2L1720.9,1107.0L1718.6,1110.5L1717.0,1114.2L1715.4,1118.0L1714.0,1121.8L1712.3,1125.5L1710.1,1129.1L1708.9,1133.0L1707.2,1136.8L1705.9,1140.9L1704.6,1144.9L1704.5,1149.1L1706.0,1153.7L1706.5,1158.0L1707.3,1162.4L1707.7,1162.5L1710.8,1159.2L1713.6,1155.7L1715.9,1152.1L1717.4,1148.3L1718.5,1144.6L1719.4,1140.8L1721.1,1137.2L1721.9,1133.3L1722.6,1129.2L1723.4,1125.2L1724.6,1121.3L1725.0,1117.1L1725.5,1113.0L1726.5,1109.0L1728.3,1105.2L1729.1,1101.2L1729.9,1097.1L1731.1,1093.1L1732.6,1089.1L1733.9,1085.0L1734.2,1080.8L1733.5,1076.5L1732.3,1072.3L1730.6,1068.2ZM1736.5,1085.4L1735.4,1089.7L1734.6,1093.9L1733.7,1098.1L1732.7,1102.3L1731.6,1106.3L1730.5,1110.3L1729.3,1114.3L1728.2,1118.3L1727.1,1122.3L1726.1,1126.2L1725.1,1130.1L1724.2,1134.1L1724.2,1134.1L1725.5,1130.3L1726.9,1126.5L1728.3,1122.7L1729.7,1118.8L1730.9,1114.9L1732.0,1110.9L1733.2,1106.8L1734.2,1102.7L1735.3,1098.6L1736.1,1094.3L1736.8,1090.0L1736.9,1085.5ZM1708.5,1152.4L1704.4,1155.6L1701.6,1159.1L1699.6,1162.9L1697.9,1166.8L1698.0,1171.2L1697.4,1175.5L1697.4,1179.9L1696.5,1184.1L1696.9,1188.5L1697.5,1192.9L1697.4,1197.2L1698.5,1201.4L1699.1,1205.6L1700.0,1209.8L1700.0,1214.1L1700.7,1218.3L1701.6,1222.4L1702.7,1226.4L1703.7,1230.4L1704.3,1234.6L1705.1,1238.6L1706.1,1242.6L1706.4,1246.8L1707.4,1250.7L1708.6,1254.5L1709.2,1258.4L1710.3,1262.2L1711.1,1266.2L1711.6,1270.2L1712.4,1274.3L1714.4,1278.0L1716.8,1281.7L1719.6,1285.3L1723.5,1288.7L1723.0,1288.8L1725.3,1284.1L1725.8,1279.8L1727.5,1275.2L1726.8,1271.2L1726.2,1267.1L1726.0,1262.9L1724.7,1258.9L1723.6,1254.9L1722.5,1250.8L1721.2,1246.8L1719.5,1242.9L1717.8,1239.1L1716.5,1235.2L1715.0,1231.4L1712.6,1227.8L1711.8,1223.8L1710.2,1220.1L1709.2,1216.1L1707.6,1212.4L1706.7,1208.5L1706.1,1204.5L1705.4,1200.6L1705.6,1196.7L1705.0,1192.8L1705.7,1188.8L1706.1,1184.9L1707.0,1181.1L1707.6,1177.2L1708.4,1173.4L1710.3,1169.7L1711.1,1165.8L1710.3,1161.4L1709.9,1157.0L1707.9,1152.3ZM1722.7,1282.7L1721.2,1287.2L1719.5,1291.6L1719.8,1295.7L1719.7,1299.8L1720.0,1303.8L1720.3,1307.8L1720.6,1311.7L1721.9,1315.5L1722.9,1319.4L1722.7,1323.3L1723.7,1327.2L1724.3,1331.2L1725.3,1335.2L1725.3,1339.2L1724.8,1343.2L1723.4,1347.0L1722.1,1350.8L1722.5,1355.1L1724.4,1359.8L1724.0,1359.7L1727.5,1356.3L1730.0,1352.7L1729.9,1348.4L1730.9,1344.3L1731.8,1340.1L1732.8,1335.9L1733.0,1331.6L1734.2,1327.3L1734.8,1323.0L1735.1,1318.7L1734.9,1314.4L1734.4,1310.1L1733.8,1305.9L1732.8,1301.9L1731.9,1297.7L1730.2,1293.8L1729.1,1289.8L1726.1,1286.2L1723.2,1282.6ZM1728.9,1332.0L1725.5,1335.7L1724.8,1339.6L1723.9,1343.4L1722.4,1347.1L1721.5,1351.0L1719.1,1354.5L1717.3,1358.2L1715.8,1361.8L1714.5,1365.5L1713.3,1369.1L1712.9,1373.1L1711.8,1376.9L1710.6,1380.7L1710.0,1384.8L1709.9,1389.1L1710.4,1393.6L1710.8,1398.1L1711.0,1398.2L1714.9,1395.4L1717.6,1392.1L1720.3,1388.8L1721.9,1385.1L1724.3,1381.6L1726.5,1378.0L1727.5,1373.9L1729.2,1370.0L1730.0,1365.8L1730.0,1361.5L1730.5,1357.4L1730.2,1353.1L1731.1,1349.0L1731.4,1344.8L1731.7,1340.6L1730.7,1336.2L1729.3,1332.0ZM1708.4,1395.0L1704.9,1398.3L1702.6,1402.1L1699.8,1405.7L1698.2,1409.8L1696.5,1414.0L1696.1,1418.6L1695.5,1423.0L1695.5,1427.5L1695.5,1432.0L1696.3,1436.4L1696.5,1440.8L1696.5,1445.1L1698.9,1449.5L1698.8,1449.5L1701.7,1445.4L1702.7,1441.3L1702.4,1437.0L1704.4,1433.0L1705.4,1429.0L1706.4,1425.0L1707.5,1421.1L1708.3,1417.1L1709.3,1413.2L1709.5,1408.9L1709.8,1404.6L1710.2,1400.3L1708.5,1395.1ZM1703.2,1421.9L1699.4,1425.4L1697.6,1429.3L1697.5,1433.4L1696.7,1437.5L1696.6,1441.6L1697.0,1445.8L1696.9,1449.9L1696.0,1454.0L1696.2,1458.1L1695.8,1462.3L1695.5,1466.5L1695.6,1470.6L1695.7,1474.8L1695.1,1479.1L1695.3,1483.5L1696.0,1487.9L1696.5,1492.3L1697.9,1496.5L1699.7,1500.4L1701.3,1504.4L1702.7,1508.3L1704.8,1511.8L1707.1,1515.2L1711.0,1518.0L1714.6,1520.8L1714.8,1520.7L1715.4,1515.9L1715.6,1511.4L1715.2,1507.1L1713.3,1503.5L1711.8,1499.7L1711.0,1495.8L1709.4,1492.3L1708.6,1488.5L1706.9,1485.1L1705.5,1481.6L1705.1,1477.8L1703.8,1474.0L1703.1,1470.1L1703.2,1466.1L1702.8,1462.1L1702.8,1458.1L1702.4,1454.1L1702.1,1450.1L1703.4,1446.1L1703.2,1442.1L1704.0,1438.2L1705.7,1434.4L1706.1,1430.5L1705.2,1426.3L1703.8,1422.0ZM1705.6,1442.3L1705.1,1446.2L1705.2,1450.2L1705.5,1454.1L1705.8,1458.1L1706.1,1462.0L1706.8,1465.9L1707.6,1469.8L1708.6,1473.5L1708.6,1473.5L1708.2,1469.7L1708.0,1465.8L1707.7,1462.0L1707.4,1458.1L1707.1,1454.2L1706.8,1450.2L1706.7,1446.3L1706.0,1442.3ZM1716.6,1524.4L1717.0,1528.9L1718.2,1533.0L1719.7,1536.8L1721.3,1540.7L1723.1,1544.6L1724.9,1548.5L1726.8,1552.0L1728.2,1555.7L1730.3,1558.6L1732.0,1561.6L1733.5,1565.0L1734.8,1568.5L1736.8,1571.8L1738.1,1575.3L1738.7,1578.8L1739.2,1582.5L1739.3,1586.3L1739.4,1590.6L1739.9,1590.8L1742.3,1587.3L1745.0,1583.5L1746.4,1579.1L1746.2,1574.5L1746.8,1569.9L1745.7,1565.6L1745.2,1561.2L1743.8,1556.9L1742.4,1552.5L1740.1,1548.7L1736.9,1545.5L1734.0,1542.5L1731.7,1539.2L1728.9,1536.2L1726.2,1533.1L1723.0,1530.2L1719.6,1527.4L1716.5,1524.4ZM1743.2,1581.4L1741.7,1585.2L1740.1,1589.0L1738.2,1592.5L1736.8,1596.4L1733.8,1599.3L1731.6,1602.7L1728.7,1605.6L1725.7,1608.3L1722.6,1610.9L1719.6,1613.7L1716.2,1615.9L1712.3,1617.2L1708.8,1619.3L1704.8,1620.3L1701.1,1622.0L1696.9,1622.1L1693.1,1623.5L1689.3,1624.9L1685.3,1625.3L1681.3,1625.4L1677.4,1626.7L1673.4,1626.4L1669.5,1626.2L1665.4,1626.7L1661.5,1625.6L1661.4,1625.6L1664.8,1628.4L1669.1,1629.6L1673.4,1630.7L1677.6,1630.3L1681.8,1629.9L1686.1,1630.1L1690.1,1628.6L1694.4,1628.4L1698.4,1627.0L1702.4,1625.7L1706.3,1624.1L1710.3,1622.6L1713.7,1620.0L1717.5,1618.1L1721.1,1615.9L1724.4,1613.1L1727.6,1610.4L1730.4,1607.3L1733.2,1604.1L1735.8,1600.8L1738.8,1597.7L1740.8,1593.9L1742.6,1590.0L1743.6,1585.7L1744.0,1581.5ZM1689.1,1627.0L1685.0,1627.3L1680.8,1627.2L1676.6,1627.0L1672.6,1627.6L1668.6,1627.1L1665.0,1625.3L1661.6,1623.4L1658.4,1620.8L1654.7,1618.8L1651.2,1616.3L1647.8,1613.7L1644.0,1612.1L1640.4,1610.0L1636.8,1608.0L1632.8,1606.5L1628.8,1605.4L1624.4,1605.0L1624.2,1605.6L1627.7,1607.9L1630.7,1611.2L1634.5,1612.8L1637.9,1615.2L1641.9,1616.6L1645.5,1618.5L1649.5,1619.8L1653.0,1621.7L1656.4,1623.8L1659.9,1626.3L1663.7,1628.4L1668.1,1629.7L1672.5,1630.0L1676.8,1630.4L1681.1,1630.2L1685.3,1629.4L1689.2,1627.2ZM1643.6,1615.9L1640.4,1613.4L1636.6,1611.9L1633.3,1609.7L1629.7,1607.7L1626.1,1606.0L1622.4,1604.4L1618.5,1603.3L1615.0,1601.3L1611.3,1599.7L1607.5,1598.2L1603.4,1597.6L1599.6,1596.3L1595.7,1595.3L1591.7,1594.5L1587.7,1593.8L1583.8,1592.7L1579.7,1592.7L1575.7,1592.3L1571.7,1592.1L1567.7,1591.1L1563.7,1591.5L1559.7,1591.0L1555.7,1591.2L1551.6,1591.4L1547.6,1591.0L1543.6,1591.8L1539.6,1591.7L1539.6,1591.5L1543.6,1592.0L1547.6,1593.0L1551.6,1593.0L1555.5,1593.5L1559.5,1594.1L1563.5,1593.6L1567.5,1594.3L1571.5,1594.6L1575.4,1595.1L1579.3,1596.4L1583.2,1596.8L1587.1,1597.2L1591.0,1597.9L1594.9,1598.8L1598.5,1600.4L1602.3,1601.4L1606.1,1602.7L1609.9,1603.6L1613.9,1604.3L1617.8,1605.3L1621.4,1607.0L1624.9,1608.8L1628.9,1609.6L1632.5,1611.4L1636.3,1612.7L1640.1,1614.0L1643.5,1616.2ZM1549.6,1592.6L1545.6,1592.1L1541.5,1591.6L1537.5,1590.7L1533.5,1591.2L1529.4,1590.6L1525.4,1590.8L1521.4,1591.5L1517.3,1590.7L1513.3,1591.5L1509.2,1591.1L1505.2,1591.5L1501.1,1591.8L1497.1,1592.1L1493.0,1592.0L1489.0,1592.8L1485.1,1593.8L1481.0,1593.8L1477.1,1594.9L1473.0,1595.5L1469.3,1597.5L1465.4,1598.7L1465.4,1598.6L1469.5,1598.4L1473.7,1598.8L1477.7,1598.5L1481.8,1598.3L1485.6,1597.2L1489.7,1597.5L1493.7,1596.9L1497.7,1596.7L1501.6,1595.4L1505.6,1595.4L1509.6,1594.8L1513.5,1594.0L1517.6,1594.3L1521.6,1593.7L1525.5,1593.1L1529.5,1592.8L1533.5,1593.3L1537.5,1592.9L1541.5,1593.4L1545.5,1593.6L1549.6,1592.5ZM1479.1,1595.1L1474.8,1595.5L1470.5,1595.9L1466.3,1596.8L1462.2,1597.9L1458.0,1598.9L1454.0,1600.0L1449.9,1601.1L1446.0,1602.6L1441.9,1603.8L1438.0,1605.7L1433.9,1606.7L1430.2,1608.8L1426.0,1609.7L1422.1,1610.9L1418.1,1612.5L1413.9,1612.5L1409.9,1613.3L1405.7,1614.3L1405.8,1615.4L1410.1,1615.7L1414.3,1614.9L1418.4,1614.0L1422.7,1613.5L1426.8,1612.5L1430.7,1610.7L1434.9,1610.1L1439.0,1609.1L1443.1,1608.0L1447.0,1606.4L1451.0,1605.0L1455.1,1604.0L1459.3,1603.3L1463.0,1601.0L1467.1,1599.8L1471.1,1598.5L1475.2,1597.7L1479.2,1595.8ZM1427.4,1611.3L1423.5,1612.3L1419.4,1612.2L1415.4,1612.9L1411.4,1612.8L1407.5,1613.3L1403.4,1613.3L1399.4,1613.5L1395.4,1612.9L1391.4,1613.3L1387.4,1613.2L1383.4,1614.3L1379.4,1614.6L1375.3,1614.9L1371.2,1615.7L1367.2,1616.0L1367.2,1616.4L1371.2,1617.1L1375.2,1618.1L1379.3,1619.1L1383.4,1619.2L1387.4,1619.7L1391.5,1619.4L1395.6,1619.4L1399.7,1619.7L1403.8,1618.8L1407.9,1617.8L1411.9,1617.2L1416.0,1616.1L1420.1,1615.6L1423.9,1613.8L1427.5,1611.6ZM1389.2,1615.1L1385.2,1614.5L1381.2,1613.8L1377.2,1613.2L1373.2,1613.4L1369.2,1612.9L1365.1,1613.3L1361.2,1612.3L1357.1,1612.7L1353.2,1612.4L1349.2,1611.6L1345.2,1611.5L1341.3,1610.6L1337.2,1610.3L1333.2,1610.1L1329.2,1609.5L1325.3,1608.3L1321.5,1607.1L1317.4,1606.7L1313.6,1605.4L1309.6,1604.5L1305.6,1604.3L1301.8,1602.9L1297.9,1601.8L1293.9,1601.3L1290.1,1599.7L1286.2,1598.8L1282.1,1598.5L1278.2,1597.5L1274.1,1597.3L1270.1,1596.5L1270.1,1596.7L1273.9,1598.2L1277.7,1599.5L1281.6,1600.6L1285.3,1602.2L1289.1,1603.8L1293.2,1604.1L1297.0,1605.4L1301.1,1606.0L1305.1,1606.4L1309.0,1607.6L1312.9,1608.6L1316.9,1609.3L1320.9,1609.8L1324.8,1610.7L1328.9,1611.2L1332.9,1611.9L1336.9,1612.2L1340.9,1612.8L1344.9,1613.6L1348.8,1614.7L1352.9,1614.8L1356.9,1615.3L1360.9,1616.1L1364.9,1616.3L1369.0,1616.6L1373.0,1617.0L1377.1,1616.2L1381.1,1616.3L1385.2,1616.3L1389.2,1615.9ZM1280.0,1598.2L1276.4,1595.9L1272.6,1594.2L1268.5,1593.9L1264.6,1592.6L1260.4,1592.9L1256.4,1591.9L1252.4,1591.2L1248.4,1590.9L1244.4,1589.7L1240.3,1589.2L1236.3,1588.7L1232.2,1588.6L1228.1,1588.0L1224.0,1587.9L1219.9,1588.6L1215.8,1589.0L1211.8,1590.1L1211.8,1591.1L1215.9,1591.5L1220.0,1593.0L1224.0,1592.6L1228.0,1592.8L1232.0,1593.4L1236.0,1593.1L1240.1,1592.9L1244.0,1593.8L1248.1,1593.2L1252.1,1593.9L1256.0,1594.7L1260.1,1594.8L1264.0,1596.0L1267.8,1597.4L1271.9,1597.6L1275.9,1598.2L1279.8,1598.9ZM1245.7,1594.3L1241.8,1592.9L1237.9,1591.6L1233.9,1591.1L1229.8,1591.4L1225.8,1591.2L1221.8,1591.1L1217.8,1591.5L1213.8,1592.1L1209.8,1592.5L1205.7,1592.0L1201.7,1592.1L1197.7,1592.9L1193.7,1593.2L1189.7,1593.8L1185.7,1594.2L1181.6,1593.8L1177.7,1595.0L1173.7,1595.2L1169.6,1595.2L1165.7,1596.3L1161.8,1596.9L1157.8,1597.8L1153.8,1597.9L1149.9,1599.3L1146.0,1599.9L1142.1,1601.1L1138.4,1603.1L1134.5,1604.3L1134.5,1604.0L1138.6,1604.1L1142.7,1604.4L1146.7,1603.8L1150.7,1603.4L1154.6,1602.4L1158.6,1602.4L1162.6,1602.0L1166.5,1600.6L1170.4,1600.1L1174.3,1599.3L1178.3,1598.8L1182.3,1598.2L1186.1,1597.2L1190.1,1596.4L1194.0,1595.7L1197.9,1595.2L1201.9,1594.7L1205.9,1594.3L1209.9,1594.2L1213.9,1594.4L1217.8,1594.3L1221.8,1594.0L1225.8,1594.4L1229.7,1594.7L1233.7,1594.8L1237.6,1594.8L1241.7,1594.3L1245.7,1594.6ZM1152.2,1601.1L1148.1,1601.2L1144.1,1601.7L1139.9,1601.5L1135.9,1602.3L1131.9,1603.4L1128.0,1604.6L1123.9,1605.0L1120.0,1606.0L1116.0,1606.8L1111.9,1607.4L1107.9,1608.1L1104.0,1609.2L1100.0,1610.2L1096.1,1611.1L1092.0,1611.4L1088.0,1612.3L1084.1,1613.2L1080.2,1614.2L1076.4,1615.8L1072.4,1616.9L1068.4,1617.3L1064.5,1618.7L1064.4,1618.4L1068.6,1618.7L1072.8,1619.2L1077.0,1619.4L1081.0,1618.4L1085.0,1617.7L1089.3,1617.8L1093.2,1616.4L1097.2,1615.7L1101.2,1614.7L1105.1,1613.5L1108.9,1612.1L1112.9,1611.1L1116.8,1610.1L1120.6,1608.5L1124.6,1607.6L1128.4,1606.3L1132.5,1606.1L1136.4,1604.9L1140.5,1604.6L1144.3,1602.9L1148.4,1602.6L1152.1,1600.6ZM1086.0,1614.4L1081.8,1613.8L1077.7,1613.4L1073.8,1613.6L1069.9,1614.3L1066.0,1615.2L1062.0,1615.3L1058.1,1615.7L1054.1,1616.3L1050.2,1616.9L1046.2,1617.5L1042.2,1617.6L1038.2,1616.9L1034.3,1616.8L1030.3,1616.7L1026.2,1617.4L1022.3,1616.7L1018.3,1616.1L1014.4,1615.3L1010.4,1615.4L1006.5,1614.3L1002.5,1613.5L998.6,1613.1L994.7,1612.4L990.8,1611.8L987.0,1610.5L983.1,1609.6L979.3,1608.8L975.4,1607.6L971.6,1606.6L967.5,1606.4L963.5,1605.6L959.5,1605.0L955.2,1605.8L951.1,1605.6L951.2,1605.4L954.6,1608.2L958.3,1609.9L962.2,1611.0L965.9,1612.9L969.7,1614.2L973.7,1614.9L977.6,1615.9L981.6,1616.6L985.7,1616.8L989.6,1617.9L993.7,1618.5L997.8,1618.5L1001.8,1619.5L1005.9,1619.5L1009.9,1619.9L1013.9,1620.4L1018.0,1620.2L1022.0,1620.7L1026.1,1620.2L1030.1,1620.9L1034.1,1621.0L1038.2,1620.6L1042.2,1620.8L1046.3,1621.1L1050.3,1621.1L1054.3,1620.3L1058.4,1620.6L1062.4,1620.0L1066.5,1620.1L1070.5,1619.6L1074.6,1619.2L1078.6,1618.4L1082.3,1616.4L1086.0,1614.4ZM983.8,1615.1L980.0,1613.6L976.1,1612.1L972.3,1610.8L968.4,1609.6L964.5,1608.2L960.7,1607.0L956.5,1606.8L952.8,1605.0L948.7,1604.5L944.8,1603.2L940.7,1603.0L936.9,1601.6L932.7,1601.5L928.9,1599.9L924.7,1599.9L920.9,1598.4L916.7,1598.6L912.8,1597.5L908.8,1596.6L904.6,1597.0L900.6,1596.3L896.5,1596.6L892.4,1595.5L888.3,1595.6L884.2,1596.0L880.1,1596.4L876.0,1597.0L872.0,1597.6L868.0,1598.7L864.0,1599.4L860.1,1600.5L856.2,1601.9L856.3,1602.6L860.5,1602.6L864.6,1602.5L868.6,1602.1L872.7,1601.9L876.6,1601.4L880.5,1600.2L884.5,1599.9L888.5,1599.3L892.5,1599.3L896.5,1599.5L900.5,1598.6L904.5,1599.0L908.5,1599.9L912.5,1600.0L916.5,1600.3L920.5,1600.6L924.5,1601.5L928.5,1602.1L932.4,1603.1L936.1,1604.9L940.2,1605.1L944.0,1606.6L948.0,1607.2L951.8,1609.1L955.8,1609.7L959.7,1610.9L963.5,1612.4L967.4,1613.6L971.6,1613.7L975.6,1614.4L979.6,1615.4L983.6,1615.8ZM858.3,1602.1L854.0,1601.6L849.7,1601.2L845.9,1602.8L841.8,1603.5L838.0,1604.8L833.8,1604.9L829.8,1605.8L825.7,1606.1L821.8,1607.1L817.7,1607.4L813.7,1608.0L809.6,1607.7L805.6,1608.3L801.5,1609.0L797.5,1610.1L793.5,1610.9L789.5,1611.6L785.5,1612.7L781.5,1613.7L777.7,1615.1L773.8,1616.5L769.8,1617.4L766.0,1619.6L762.3,1622.3L762.4,1622.7L766.7,1623.6L770.9,1623.7L775.0,1623.5L779.1,1623.0L783.2,1622.9L787.3,1622.1L791.4,1622.1L795.4,1621.3L799.4,1620.7L803.4,1619.9L807.4,1619.9L811.4,1618.8L815.4,1617.4L819.4,1616.2L823.5,1615.4L827.4,1613.8L831.4,1613.0L835.2,1611.3L839.2,1610.0L843.0,1608.6L847.1,1608.1L851.0,1607.0L854.7,1605.0L858.4,1602.6ZM836.9,1600.3L832.7,1600.2L828.7,1600.7L824.7,1601.2L820.7,1601.6L816.8,1602.3L812.9,1603.0L812.9,1603.0L816.9,1603.1L821.0,1603.1L825.0,1602.7L829.0,1602.3L833.1,1601.8L837.0,1600.7ZM779.8,1617.8L775.7,1617.7L771.6,1618.2L767.4,1617.8L763.4,1618.4L759.4,1618.8L755.3,1618.6L751.3,1619.1L747.2,1618.9L743.2,1619.3L739.2,1619.0L735.2,1618.4L731.2,1618.0L727.3,1618.5L723.4,1617.2L719.4,1617.4L715.5,1616.6L711.7,1615.7L707.7,1615.0L703.8,1614.5L699.8,1614.3L695.8,1613.7L691.9,1612.7L687.8,1612.3L683.9,1611.4L679.8,1610.8L675.8,1610.3L671.7,1609.8L667.6,1609.4L663.4,1609.2L659.3,1608.9L655.3,1608.2L651.2,1607.6L647.1,1607.9L647.1,1607.9L650.9,1609.3L654.8,1610.7L658.8,1611.9L662.6,1613.7L666.5,1614.7L670.3,1616.3L674.4,1617.0L678.3,1618.0L682.2,1619.3L686.2,1620.4L690.0,1622.3L694.1,1622.8L697.9,1624.4L702.0,1625.1L706.1,1626.0L710.2,1626.5L714.4,1627.0L718.6,1626.8L722.8,1626.9L727.0,1627.2L731.2,1627.1L735.4,1626.7L739.5,1626.3L743.7,1626.8L747.9,1626.1L752.0,1625.5L756.0,1624.4L760.1,1623.7L764.2,1623.2L768.2,1622.2L772.1,1621.0L776.1,1619.9L780.0,1618.4ZM760.4,1626.1L756.2,1626.3L752.1,1627.0L748.0,1627.7L743.8,1628.3L739.6,1628.8L735.4,1629.2L731.2,1629.5L726.9,1629.9L722.6,1630.2L718.3,1630.4L718.3,1630.4L722.6,1630.7L726.9,1630.9L731.2,1631.0L735.5,1630.8L739.7,1630.4L744.0,1629.9L748.2,1629.3L752.3,1628.6L756.4,1627.9L760.5,1626.4ZM664.8,1611.3L661.0,1609.3L657.2,1607.7L653.1,1607.2L649.0,1607.1L645.0,1606.6L641.2,1605.4L637.1,1605.3L633.3,1603.9L629.4,1602.6L625.6,1601.3L621.7,1599.9L617.7,1599.1L613.8,1598.0L609.6,1598.3L605.4,1598.3L601.0,1599.7L596.8,1600.6L596.7,1601.2L600.4,1603.7L604.2,1605.1L607.8,1607.4L611.7,1608.1L615.7,1608.6L619.6,1609.7L623.8,1609.2L627.9,1609.6L631.9,1610.2L636.1,1610.3L640.2,1610.3L644.2,1611.3L648.2,1612.0L652.3,1612.2L656.2,1612.9L660.3,1613.3L664.6,1612.3ZM624.5,1604.4L620.9,1602.1L617.3,1600.0L613.6,1597.6L609.6,1597.2L605.6,1596.1L601.5,1596.0L597.4,1595.6L593.3,1595.2L589.3,1594.5L585.2,1594.6L581.0,1595.1L576.9,1595.1L572.8,1595.9L568.8,1596.7L564.7,1597.0L560.7,1597.2L556.7,1598.0L552.6,1598.1L548.6,1598.6L544.5,1599.2L540.7,1600.6L537.0,1602.6L533.6,1605.3L533.6,1605.3L537.9,1606.2L542.0,1606.3L545.9,1605.8L549.7,1604.7L553.5,1603.5L557.3,1602.5L561.3,1602.7L565.1,1601.5L569.0,1601.0L572.9,1601.8L576.8,1601.6L580.7,1602.4L584.5,1603.0L588.4,1603.4L592.2,1604.1L596.1,1604.8L600.0,1605.3L603.8,1606.2L607.7,1606.9L611.6,1607.7L615.7,1607.4L620.0,1606.6L624.3,1605.5ZM538.7,1601.0L534.7,1601.5L530.6,1601.9L526.5,1602.2L522.6,1603.3L518.5,1603.9L514.6,1604.8L510.7,1605.8L506.8,1606.9L502.9,1607.8L498.9,1608.2L495.2,1609.6L491.1,1610.0L487.2,1610.5L483.3,1611.1L479.4,1611.6L475.5,1612.4L471.5,1612.6L467.7,1613.7L463.6,1613.7L459.7,1614.4L455.9,1615.7L452.0,1616.6L448.0,1617.4L444.1,1618.0L440.2,1619.0L436.3,1620.1L432.5,1622.1L428.6,1623.3L424.7,1624.3L420.9,1626.6L420.9,1626.4L425.0,1626.4L429.1,1626.6L433.2,1627.3L437.3,1627.4L441.4,1627.6L445.5,1627.6L449.6,1627.7L453.6,1627.5L457.6,1626.5L461.7,1626.6L465.7,1626.0L469.7,1625.2L473.6,1624.3L477.6,1623.6L481.6,1622.7L485.5,1621.1L489.4,1619.9L493.4,1618.9L497.2,1617.4L500.8,1615.4L504.7,1614.1L508.7,1613.5L512.3,1611.4L516.3,1610.7L520.1,1609.5L523.9,1608.1L527.6,1606.6L531.4,1605.1L535.1,1603.2L538.9,1601.8ZM423.1,1628.0L418.5,1625.4L414.2,1625.1L410.0,1625.9L405.7,1626.6L401.6,1627.8L397.4,1629.1L393.1,1629.1L388.9,1629.4L384.5,1629.2L380.2,1628.6L376.0,1629.2L371.7,1629.1L367.4,1629.5L363.5,1633.9L363.5,1634.3L368.0,1637.0L372.4,1638.3L376.6,1636.7L380.8,1635.8L385.1,1635.2L389.3,1634.2L393.6,1634.0L397.9,1633.5L402.2,1633.5L406.5,1633.3L410.9,1634.2L415.2,1634.1L419.4,1633.0L423.1,1628.2ZM419.3,1632.3L415.0,1632.6L410.8,1633.4L406.6,1634.3L402.4,1635.1L398.2,1636.0L393.9,1637.2L389.7,1638.3L389.7,1638.3L394.0,1637.9L398.3,1637.4L402.6,1636.7L406.8,1635.9L411.0,1635.0L415.2,1634.2L419.4,1632.6ZM377.4,1632.8L373.1,1631.6L368.8,1631.3L364.5,1630.5L360.3,1630.6L356.0,1630.8L351.8,1629.8L347.5,1629.7L343.3,1629.5L339.2,1630.3L335.0,1630.2L330.8,1630.9L326.6,1631.1L322.4,1632.1L318.0,1633.3L318.0,1633.1L322.1,1635.2L326.4,1636.4L330.7,1637.1L335.0,1637.7L339.3,1638.1L343.6,1638.6L347.9,1638.9L352.2,1638.3L356.4,1636.8L360.7,1636.8L364.9,1636.0L369.1,1634.8L373.3,1634.3L377.5,1633.1ZM364.3,1627.8L360.0,1627.0L355.8,1626.9L351.6,1626.7L347.4,1626.4L343.2,1626.6L339.1,1626.7L339.1,1626.7L343.3,1627.4L347.5,1628.0L351.7,1628.3L355.9,1628.5L360.1,1628.6L364.3,1628.1ZM332.0,1632.9L328.0,1631.0L324.0,1629.5L320.0,1629.5L316.0,1629.4L312.0,1629.2L308.1,1628.3L304.2,1627.4L300.4,1626.1L296.4,1625.8L292.8,1624.3L289.6,1621.9L286.3,1620.0L282.9,1618.2L279.5,1616.2L276.2,1614.0L272.9,1611.6L269.9,1609.2L267.2,1606.7L263.9,1604.9L261.9,1602.0L258.9,1600.0L256.9,1597.1L255.8,1593.7L254.5,1590.3L252.1,1586.9L250.0,1583.2L248.1,1579.3L247.8,1579.4L246.7,1583.7L245.9,1588.1L246.1,1592.5L247.2,1596.8L248.8,1601.1L250.8,1605.3L253.3,1609.3L256.6,1612.5L259.7,1615.8L263.0,1618.9L267.1,1620.6L270.9,1622.5L274.6,1624.4L278.3,1626.5L282.3,1628.2L286.5,1629.3L290.5,1630.9L294.7,1631.8L299.0,1632.2L303.0,1633.3L307.1,1634.2L311.3,1634.0L315.3,1635.5L319.5,1635.5L323.7,1635.8L327.9,1634.3L332.0,1633.3ZM261.4,1609.2L261.0,1604.1L259.6,1600.6L257.5,1597.8L255.5,1594.9L254.5,1591.3L252.8,1587.8L252.0,1583.9L251.5,1579.9L251.5,1575.8L251.2,1571.6L251.9,1567.3L251.1,1563.2L250.7,1559.0L250.3,1554.8L250.2,1550.6L249.5,1546.6L248.5,1542.6L247.2,1538.6L246.0,1534.7L244.6,1530.8L241.0,1527.2L237.2,1523.7L236.5,1523.8L234.3,1528.4L232.4,1532.9L232.9,1537.0L233.1,1541.2L233.5,1545.3L234.7,1549.3L235.3,1553.4L236.4,1557.4L237.4,1561.3L238.9,1565.1L240.5,1568.9L241.8,1572.9L242.6,1576.9L244.1,1580.9L244.5,1585.1L245.5,1589.3L247.0,1593.4L248.2,1597.7L249.5,1602.1L252.0,1606.0L255.9,1608.6L261.5,1609.1ZM241.3,1545.3L242.2,1541.1L242.9,1536.9L242.7,1532.8L242.7,1528.7L241.0,1524.9L240.2,1521.0L240.2,1517.0L239.9,1513.0L239.6,1508.9L238.7,1505.0L239.3,1500.9L239.1,1496.9L239.4,1492.8L239.6,1488.8L239.1,1484.8L239.4,1480.7L239.0,1476.8L239.5,1472.7L237.9,1468.9L236.7,1465.1L234.4,1461.3L232.4,1457.3L232.0,1457.4L230.7,1461.4L229.2,1465.6L227.5,1469.8L227.4,1473.9L227.0,1478.0L227.7,1482.0L228.5,1486.0L228.7,1490.1L230.2,1493.9L230.6,1497.9L231.3,1501.9L231.9,1505.9L232.6,1509.9L233.2,1514.0L233.9,1517.9L234.9,1521.9L234.2,1526.1L234.7,1530.1L235.4,1534.1L236.4,1538.0L238.1,1541.8L240.4,1545.5ZM231.6,1467.4L232.4,1463.3L233.0,1459.2L234.5,1455.1L235.5,1451.1L236.4,1447.2L236.8,1443.2L238.1,1439.4L238.3,1435.5L238.7,1431.5L239.6,1427.7L240.2,1423.8L241.5,1420.0L242.2,1416.0L242.1,1412.0L242.6,1408.0L243.2,1404.0L242.9,1399.8L243.7,1395.8L244.0,1391.7L244.3,1387.6L245.0,1383.6L245.6,1379.6L246.0,1375.5L247.0,1371.5L247.2,1367.4L246.3,1363.2L246.0,1359.0L245.1,1358.8L243.2,1362.6L241.5,1366.4L240.3,1370.4L239.3,1374.3L238.6,1378.3L237.5,1382.3L235.9,1386.1L235.2,1390.1L233.3,1393.9L232.1,1397.8L231.1,1401.8L229.4,1405.6L228.0,1409.5L227.3,1413.6L226.4,1417.7L226.0,1421.8L225.2,1425.9L224.7,1430.1L225.0,1434.3L224.8,1438.5L225.0,1442.8L225.5,1447.0L225.5,1451.2L226.2,1455.3L227.7,1459.4L228.9,1463.5L230.8,1467.4ZM240.7,1380.4L243.7,1376.8L245.2,1372.9L246.8,1369.0L247.9,1365.1L248.0,1361.0L248.4,1357.0L249.6,1353.1L249.6,1349.0L250.2,1344.9L251.4,1341.0L252.2,1337.0L252.4,1332.8L253.6,1328.8L254.2,1324.7L255.3,1320.7L255.5,1316.5L256.8,1312.2L257.1,1307.9L257.1,1303.4L256.1,1299.0L256.0,1294.3L254.4,1290.0L253.1,1285.7L251.5,1281.8L249.1,1278.4L247.7,1274.8L246.2,1271.3L244.9,1267.8L243.3,1264.4L241.3,1260.9L239.2,1257.3L237.8,1253.4L235.7,1249.7L233.8,1245.9L233.1,1246.0L232.8,1250.2L232.2,1254.5L231.5,1258.8L231.4,1263.1L231.0,1267.7L232.7,1271.8L233.9,1276.2L235.4,1280.4L237.8,1283.9L239.4,1287.7L241.8,1290.8L242.7,1294.4L244.3,1297.6L245.3,1301.0L246.4,1304.4L247.7,1308.1L247.7,1311.9L248.2,1315.8L248.1,1319.8L247.9,1323.8L247.0,1327.7L246.2,1331.7L245.8,1335.7L245.4,1339.8L244.2,1343.7L243.6,1347.7L242.3,1351.6L240.8,1355.5L240.6,1359.6L239.0,1363.5L239.2,1367.7L239.4,1371.9L240.0,1376.1L241.3,1380.5ZM232.9,1248.1L236.4,1243.2L236.3,1238.9L235.6,1234.8L233.8,1230.8L233.2,1226.6L232.0,1222.6L232.2,1218.3L232.7,1214.0L233.0,1209.8L233.4,1205.7L233.9,1201.5L234.1,1197.4L232.4,1193.3L228.2,1188.9L228.7,1188.9L224.2,1193.1L222.0,1197.5L222.6,1201.8L223.0,1206.2L223.9,1210.5L225.2,1214.7L225.6,1219.0L226.3,1223.2L226.6,1227.5L226.3,1231.8L227.0,1236.1L226.5,1240.5L228.3,1244.5L233.1,1248.0ZM239.3,1238.4L239.8,1234.2L239.7,1230.0L239.7,1225.8L239.4,1221.7L238.9,1217.6L238.9,1217.6L238.4,1221.8L238.1,1226.0L238.1,1230.2L238.2,1234.4L239.0,1238.5ZM228.7,1211.0L230.0,1206.9L230.5,1202.9L231.2,1198.9L231.6,1194.9L231.5,1191.0L231.8,1187.0L232.4,1183.2L233.6,1179.3L234.9,1175.6L235.7,1171.7L236.6,1167.9L238.0,1164.2L238.9,1160.3L239.9,1156.5L240.9,1152.6L242.1,1148.8L243.7,1145.1L244.5,1141.1L245.7,1137.3L246.6,1133.3L246.9,1129.2L247.5,1125.2L248.6,1121.2L249.2,1117.2L249.4,1113.2L249.4,1109.1L250.0,1105.2L250.2,1101.1L251.3,1097.3L251.3,1093.2L252.1,1089.2L251.3,1084.9L251.4,1080.8L250.7,1076.6L250.4,1076.6L248.9,1080.4L246.4,1083.9L245.1,1087.7L243.8,1091.5L242.1,1095.3L241.2,1099.2L239.8,1103.0L239.1,1107.0L237.4,1110.8L235.9,1114.6L235.3,1118.6L233.9,1122.3L232.9,1126.1L231.9,1129.9L230.7,1133.7L229.8,1137.6L229.6,1141.6L228.9,1145.6L228.3,1149.6L227.5,1153.6L226.8,1157.7L226.1,1161.7L226.2,1165.9L225.4,1169.9L225.1,1174.1L224.7,1178.2L224.2,1182.4L224.4,1186.6L224.3,1190.7L224.2,1194.9L225.4,1199.0L225.8,1203.0L226.8,1207.1L228.6,1211.0ZM251.7,1072.8L254.6,1069.1L255.8,1065.2L256.7,1061.1L257.3,1057.0L256.4,1052.8L256.6,1048.6L255.1,1044.6L255.0,1040.4L253.6,1036.5L252.8,1032.5L251.4,1028.6L251.1,1024.4L249.8,1020.6L248.3,1016.9L247.5,1012.9L246.5,1008.8L245.2,1004.3L242.9,1000.5L240.9,997.7L240.0,994.6L239.4,991.0L238.6,987.2L237.5,983.4L237.0,979.4L235.4,975.7L234.0,971.9L232.7,968.1L232.1,964.2L231.1,960.4L229.8,956.6L227.7,953.0L224.9,949.5L222.7,945.8L222.6,945.8L221.2,950.1L219.4,954.6L218.7,958.9L219.2,962.9L220.5,966.9L220.5,971.0L222.0,974.9L221.8,979.1L222.7,983.0L224.5,986.7L224.8,990.8L226.5,994.7L228.1,998.9L230.3,1003.4L232.6,1007.6L235.3,1010.0L237.2,1012.6L238.2,1016.3L239.7,1020.1L242.1,1023.4L243.4,1027.2L245.4,1030.6L246.5,1034.3L247.3,1038.1L248.8,1041.7L249.3,1045.5L249.3,1049.3L249.6,1053.0L249.4,1056.8L248.0,1060.5L248.9,1064.4L248.9,1068.3L251.4,1072.7ZM223.5,947.7L227.0,943.0L228.9,938.8L227.8,935.0L227.2,931.1L226.1,927.2L225.3,923.4L225.4,919.5L225.7,915.6L226.0,911.7L227.9,908.0L229.8,904.3L231.3,900.7L230.7,896.4L227.9,891.4L227.5,891.2L222.5,894.1L218.9,897.5L219.1,901.9L218.6,906.1L219.4,910.6L218.5,914.7L218.2,918.9L217.5,923.2L217.1,927.4L216.0,931.7L215.7,936.1L215.3,940.4L218.3,944.3L223.0,947.8ZM221.4,908.3L224.4,904.7L226.6,901.1L227.9,897.2L230.2,893.6L231.6,889.8L232.0,885.7L233.2,881.8L234.0,877.7L234.9,873.7L236.1,869.7L237.1,865.7L237.7,861.6L238.7,857.6L239.7,853.5L240.7,849.6L242.5,845.8L243.3,841.8L244.3,837.8L246.1,834.0L247.6,830.1L248.9,826.1L250.0,822.2L250.7,818.0L252.0,814.1L253.4,810.0L254.5,805.9L254.3,801.6L255.1,797.4L253.8,793.0L252.8,788.7L251.2,784.5L249.6,780.4L248.8,780.4L247.0,784.5L245.1,788.4L244.4,792.3L242.4,796.1L240.7,799.8L240.3,803.7L239.9,807.6L239.4,811.6L239.1,815.6L238.4,819.6L237.6,823.6L236.9,827.6L236.8,831.7L236.2,835.8L235.8,839.9L235.2,844.0L233.6,847.9L233.2,852.1L232.1,856.0L231.0,859.9L230.0,863.8L229.2,867.7L227.5,871.4L225.8,875.2L224.6,879.1L223.0,882.9L221.3,886.8L220.6,890.9L219.4,895.0L219.3,899.3L219.6,903.7L221.4,908.3ZM249.0,790.4L251.7,786.4L253.1,782.2L253.3,778.0L253.1,773.8L252.5,769.6L251.2,765.6L250.7,761.5L249.0,757.6L248.0,753.6L246.8,749.7L246.2,745.6L245.0,741.7L244.3,737.6L243.1,733.7L242.6,729.6L242.2,725.4L240.6,721.6L240.2,717.4L239.1,713.5L238.0,709.6L237.4,705.4L236.5,701.5L235.8,697.5L234.4,693.6L233.7,689.7L232.6,685.8L231.7,682.0L230.0,678.3L227.2,674.7L223.7,671.1L223.3,671.1L221.0,675.7L219.4,680.3L219.9,684.6L220.3,689.0L221.5,693.0L223.2,696.9L223.8,701.1L226.2,704.7L227.1,708.7L229.1,712.4L230.8,716.1L232.1,720.0L233.4,723.8L234.5,727.6L236.7,731.2L237.8,735.0L238.9,738.9L239.4,742.9L240.5,746.9L240.8,751.0L241.9,754.9L242.5,758.9L242.8,762.9L243.5,766.8L243.8,770.7L243.2,774.6L243.2,778.5L243.5,782.3L246.1,786.2L248.5,790.4ZM225.2,681.1L226.1,676.7L226.6,672.6L227.0,668.5L227.7,664.5L227.4,660.6L227.4,656.7L227.7,652.7L227.8,648.7L228.9,644.8L229.9,640.9L231.4,637.0L232.2,633.0L234.1,629.2L235.3,625.2L236.1,621.2L237.3,617.3L238.3,613.4L239.7,609.6L240.4,605.6L242.1,601.8L242.3,597.7L243.2,593.7L243.2,589.5L242.5,585.1L241.8,580.8L241.0,576.4L240.5,576.3L238.5,580.0L235.7,583.5L233.3,587.1L230.8,590.7L230.3,594.8L228.9,598.7L227.8,602.7L227.4,606.9L227.2,611.1L226.9,615.3L226.1,619.3L225.7,623.3L225.5,627.3L224.6,631.2L223.9,635.2L223.2,639.2L223.1,643.4L222.0,647.5L221.0,651.7L219.9,655.9L219.8,660.3L219.7,664.7L220.0,669.1L221.3,673.2L222.6,677.3L225.5,681.0ZM241.7,582.7L245.3,579.4L248.5,576.0L249.7,572.2L251.2,568.3L252.6,564.5L253.3,560.4L254.8,556.6L254.8,552.4L255.1,548.3L255.1,544.1L256.0,540.0L255.1,535.7L255.5,531.5L254.9,527.3L254.2,523.1L253.3,519.0L253.1,514.8L252.0,510.8L251.6,506.6L251.2,502.5L250.2,498.4L249.1,494.5L246.7,490.9L242.6,488.1L241.9,488.3L240.9,492.8L240.6,497.0L241.9,500.7L242.7,504.5L243.7,508.3L244.6,512.0L245.7,515.8L246.4,519.6L246.2,523.5L245.2,527.3L244.6,531.1L244.2,534.9L243.7,538.7L242.0,542.4L240.8,546.1L240.3,550.0L239.6,553.8L239.0,557.7L237.9,561.5L237.7,565.5L237.0,569.4L237.9,573.6L239.0,578.0L240.6,582.5ZM244.3,489.6L245.0,485.0L245.0,480.6L243.5,476.8L242.4,472.8L241.7,468.7L240.8,464.8L239.5,461.0L237.7,457.3L236.1,453.5L234.5,449.6L231.9,446.1L229.5,442.6L227.4,439.0L224.9,435.6L222.0,432.5L219.5,429.3L217.5,425.8L215.5,422.3L212.4,419.4L209.1,416.3L208.8,416.4L208.2,421.1L208.9,425.5L211.3,429.0L213.1,432.7L215.1,436.3L216.5,440.1L217.9,443.9L219.1,447.7L221.0,451.1L221.9,454.9L223.8,458.3L225.4,462.0L226.5,465.9L229.0,469.3L231.6,472.7L233.3,476.4L235.2,480.0L238.2,483.2L240.8,486.5L244.5,489.5Z" fill="#ef9426"/>
<path d="M322.0,725.0C322.0,705.8 339.1,690.0 360.0,690.0C435.3,689.3 510.7,685.8 586.0,683.5C661.3,681.2 736.7,676.7 812.0,676.0C845.0,676.0 872.0,699.4 872.0,728.0C873.5,779.3 856.5,830.7 855.0,882.0C855.0,904.0 835.2,922.0 811.0,922.0C757.1,925.9 703.2,937.5 649.4,937.5C610.4,937.5 571.5,926.0 532.6,924.5C475.7,924.0 418.9,927.0 362.0,926.0C341.1,926.0 324.0,907.1 324.0,884.0C323.5,831.0 321.5,778.0 322.0,725.0 Z" fill="#fbfbfb" stroke="#ef922b" stroke-width="2.2" stroke-opacity="0.50" stroke-linejoin="round"/>
<path d="M323.7,1022.5C323.7,1003.2 340.8,987.5 361.7,987.5C436.8,986.8 511.8,981.9 586.9,979.5C661.9,977.1 737.0,973.7 812.0,973.0C845.0,973.0 872.0,997.8 872.0,1028.0C873.5,1100.7 857.0,1173.3 855.5,1246.0C855.5,1268.0 835.7,1286.0 811.5,1286.0C760.8,1290.1 710.1,1302.5 659.4,1302.5C617.6,1302.5 575.8,1292.0 534.0,1290.5C477.4,1290.0 420.7,1293.0 364.0,1292.0C343.1,1292.0 326.0,1272.2 326.0,1248.0C325.5,1172.8 323.2,1097.7 323.7,1022.5 Z" fill="#fbfbfb" stroke="#ef922b" stroke-width="2.3" stroke-opacity="1.00" stroke-linejoin="round"/>
<path d="M1122.0,1200.5C1122.0,1182.3 1138.7,1167.5 1159.0,1167.5C1212.9,1167.4 1266.9,1170.5 1320.8,1170.0C1386.7,1169.5 1452.6,1164.7 1518.5,1164.5C1547.1,1164.5 1570.5,1184.3 1570.5,1208.5C1572.0,1243.5 1577.0,1278.5 1575.5,1313.5C1575.5,1341.0 1550.3,1363.5 1519.5,1363.5C1451.9,1367.1 1384.2,1378.0 1316.6,1378.0C1265.6,1378.0 1214.5,1367.0 1163.5,1365.0C1137.1,1365.0 1115.5,1347.0 1115.5,1325.0C1115.0,1283.5 1121.5,1242.0 1122.0,1200.5 Z" fill="#fbfbfb" stroke="#ef922b" stroke-width="1.7" stroke-opacity="1.00" stroke-linejoin="round"/>
<path d="M1095.0,1258.5C1095.0,1240.3 1111.7,1225.5 1132.0,1225.5C1185.9,1225.4 1239.9,1228.5 1293.8,1228.0C1359.7,1227.5 1425.6,1222.7 1491.5,1222.5C1520.1,1222.5 1543.5,1242.3 1543.5,1266.5C1545.0,1301.5 1550.0,1336.5 1548.5,1371.5C1548.5,1399.0 1523.3,1421.5 1492.5,1421.5C1424.9,1425.1 1357.2,1436.0 1289.6,1436.0C1238.6,1436.0 1187.5,1425.0 1136.5,1423.0C1110.1,1423.0 1088.5,1405.0 1088.5,1383.0C1088.0,1341.5 1094.5,1300.0 1095.0,1258.5 Z" fill="#fbfbfb" stroke="#ef922b" stroke-width="2.0" stroke-opacity="1.00" stroke-linejoin="round"/>
<path d="M1051.5,1305.0C1051.5,1286.8 1068.2,1272.0 1088.5,1272.0C1142.4,1271.9 1196.4,1275.0 1250.3,1274.5C1316.2,1274.0 1382.1,1269.2 1448.0,1269.0C1476.6,1269.0 1500.0,1288.8 1500.0,1313.0C1501.5,1348.0 1506.5,1383.0 1505.0,1418.0C1505.0,1445.5 1479.8,1468.0 1449.0,1468.0C1381.4,1471.6 1313.7,1482.5 1246.1,1482.5C1195.1,1482.5 1144.0,1471.5 1093.0,1469.5C1066.6,1469.5 1045.0,1451.5 1045.0,1429.5C1044.5,1388.0 1051.0,1346.5 1051.5,1305.0 Z" fill="#fbfbfb" stroke="#ef922b" stroke-width="2.4" stroke-opacity="1.00" stroke-linejoin="round"/>
<path d="M1131.0,982.0C1131.0,963.9 1147.7,949.0 1168.0,949.0C1221.9,948.9 1275.9,952.0 1329.8,951.5C1395.7,951.0 1461.6,946.2 1527.5,946.0C1556.1,946.0 1579.5,965.8 1579.5,990.0C1581.0,1025.0 1586.0,1060.0 1584.5,1095.0C1584.5,1122.5 1559.3,1145.0 1528.5,1145.0C1460.9,1148.6 1393.2,1159.5 1325.6,1159.5C1274.6,1159.5 1223.5,1148.5 1172.5,1146.5C1146.1,1146.5 1124.5,1128.5 1124.5,1106.5C1124.0,1065.0 1130.5,1023.5 1131.0,982.0 Z" fill="#fbfbfb" stroke="#ef922b" stroke-width="1.7" stroke-opacity="1.00" stroke-linejoin="round"/>
<path d="M1104.0,1040.0C1104.0,1021.9 1120.7,1007.0 1141.0,1007.0C1194.9,1006.9 1248.9,1010.0 1302.8,1009.5C1368.7,1009.0 1434.6,1004.2 1500.5,1004.0C1529.1,1004.0 1552.5,1023.8 1552.5,1048.0C1554.0,1083.0 1559.0,1118.0 1557.5,1153.0C1557.5,1180.5 1532.3,1203.0 1501.5,1203.0C1433.9,1206.6 1366.2,1217.5 1298.6,1217.5C1247.6,1217.5 1196.5,1206.5 1145.5,1204.5C1119.1,1204.5 1097.5,1186.5 1097.5,1164.5C1097.0,1123.0 1103.5,1081.5 1104.0,1040.0 Z" fill="#fbfbfb" stroke="#ef922b" stroke-width="2.0" stroke-opacity="1.00" stroke-linejoin="round"/>
<path d="M1060.5,1086.5C1060.5,1068.3 1077.2,1053.5 1097.5,1053.5C1151.4,1053.4 1205.4,1056.5 1259.3,1056.0C1325.2,1055.5 1391.1,1050.7 1457.0,1050.5C1485.6,1050.5 1509.0,1070.3 1509.0,1094.5C1510.5,1129.5 1515.5,1164.5 1514.0,1199.5C1514.0,1227.0 1488.8,1249.5 1458.0,1249.5C1390.4,1253.1 1322.7,1264.0 1255.1,1264.0C1204.1,1264.0 1153.0,1253.0 1102.0,1251.0C1075.6,1251.0 1054.0,1233.0 1054.0,1211.0C1053.5,1169.5 1060.0,1128.0 1060.5,1086.5 Z" fill="#fbfbfb" stroke="#ef922b" stroke-width="2.4" stroke-opacity="1.00" stroke-linejoin="round"/>
<path d="M1129.5,737.0C1129.5,718.9 1146.2,704.0 1166.5,704.0C1220.4,703.9 1274.4,707.0 1328.3,706.5C1394.2,706.0 1460.1,701.2 1526.0,701.0C1554.6,701.0 1578.0,720.8 1578.0,745.0C1579.5,780.0 1584.5,815.0 1583.0,850.0C1583.0,877.5 1557.8,900.0 1527.0,900.0C1459.4,903.6 1391.7,914.5 1324.1,914.5C1273.1,914.5 1222.0,903.5 1171.0,901.5C1144.6,901.5 1123.0,883.5 1123.0,861.5C1122.5,820.0 1129.0,778.5 1129.5,737.0 Z" fill="#fbfbfb" stroke="#ef922b" stroke-width="1.7" stroke-opacity="1.00" stroke-linejoin="round"/>
<path d="M1102.5,795.0C1102.5,776.9 1119.2,762.0 1139.5,762.0C1193.4,761.9 1247.4,765.0 1301.3,764.5C1367.2,764.0 1433.1,759.2 1499.0,759.0C1527.6,759.0 1551.0,778.8 1551.0,803.0C1552.5,838.0 1557.5,873.0 1556.0,908.0C1556.0,935.5 1530.8,958.0 1500.0,958.0C1432.4,961.6 1364.7,972.5 1297.1,972.5C1246.1,972.5 1195.0,961.5 1144.0,959.5C1117.6,959.5 1096.0,941.5 1096.0,919.5C1095.5,878.0 1102.0,836.5 1102.5,795.0 Z" fill="#fbfbfb" stroke="#ef922b" stroke-width="2.0" stroke-opacity="1.00" stroke-linejoin="round"/>
<path d="M1059.0,841.5C1059.0,823.4 1075.7,808.5 1096.0,808.5C1149.9,808.4 1203.9,811.5 1257.8,811.0C1323.7,810.5 1389.6,805.7 1455.5,805.5C1484.1,805.5 1507.5,825.3 1507.5,849.5C1509.0,884.5 1514.0,919.5 1512.5,954.5C1512.5,982.0 1487.3,1004.5 1456.5,1004.5C1388.9,1008.1 1321.2,1019.0 1253.6,1019.0C1202.6,1019.0 1151.5,1008.0 1100.5,1006.0C1074.1,1006.0 1052.5,988.0 1052.5,966.0C1052.0,924.5 1058.5,883.0 1059.0,841.5 Z" fill="#fbfbfb" stroke="#ef922b" stroke-width="2.4" stroke-opacity="1.00" stroke-linejoin="round"/>
<path d="M1138.0,458.5C1138.0,440.4 1154.7,425.5 1175.0,425.5C1228.9,425.4 1282.9,428.4 1336.8,428.0C1402.7,427.4 1468.6,422.7 1534.5,422.5C1563.1,422.5 1586.5,442.3 1586.5,466.5C1588.0,501.5 1593.0,536.5 1591.5,571.5C1591.5,599.0 1566.3,621.5 1535.5,621.5C1467.9,625.1 1400.2,636.0 1332.6,636.0C1281.6,636.0 1230.5,625.0 1179.5,623.0C1153.1,623.0 1131.5,605.0 1131.5,583.0C1131.0,541.5 1137.5,500.0 1138.0,458.5 Z" fill="#fbfbfb" stroke="#ef922b" stroke-width="1.7" stroke-opacity="1.00" stroke-linejoin="round"/>
<path d="M1111.0,516.5C1111.0,498.4 1127.7,483.5 1148.0,483.5C1201.9,483.4 1255.9,486.4 1309.8,486.0C1375.7,485.4 1441.6,480.7 1507.5,480.5C1536.1,480.5 1559.5,500.3 1559.5,524.5C1561.0,559.5 1566.0,594.5 1564.5,629.5C1564.5,657.0 1539.3,679.5 1508.5,679.5C1440.9,683.1 1373.2,694.0 1305.6,694.0C1254.6,694.0 1203.5,683.0 1152.5,681.0C1126.1,681.0 1104.5,663.0 1104.5,641.0C1104.0,599.5 1110.5,558.0 1111.0,516.5 Z" fill="#fbfbfb" stroke="#ef922b" stroke-width="2.0" stroke-opacity="1.00" stroke-linejoin="round"/>
<path d="M1067.5,563.0C1067.5,544.9 1084.2,530.0 1104.5,530.0C1158.4,529.9 1212.4,533.0 1266.3,532.5C1332.2,532.0 1398.1,527.2 1464.0,527.0C1492.6,527.0 1516.0,546.8 1516.0,571.0C1517.5,606.0 1522.5,641.0 1521.0,676.0C1521.0,703.5 1495.8,726.0 1465.0,726.0C1397.4,729.6 1329.7,740.5 1262.1,740.5C1211.1,740.5 1160.0,729.5 1109.0,727.5C1082.6,727.5 1061.0,709.5 1061.0,687.5C1060.5,646.0 1067.0,604.5 1067.5,563.0 Z" fill="#fbfbfb" stroke="#ef922b" stroke-width="2.4" stroke-opacity="1.00" stroke-linejoin="round"/>
<path d="M2353.0,318.0C2353.0,288.3 2375.5,264.0 2403.0,264.0C2442.6,263.9 2482.2,267.0 2521.8,266.5C2561.3,266.0 2600.9,261.1 2640.5,261.0C2665.2,261.0 2685.5,282.1 2685.5,308.0C2687.0,348.3 2689.0,388.7 2687.5,429.0C2687.5,463.1 2669.1,491.0 2646.5,491.0C2607.2,489.0 2568.0,483.0 2528.8,483.0C2489.5,483.0 2450.2,488.9 2411.0,490.0C2380.8,490.0 2356.0,465.2 2356.0,435.0C2355.5,396.0 2352.5,357.0 2353.0,318.0 Z" fill="#fbfbfb" stroke="#ef922b" stroke-width="2.6" stroke-opacity="1.00" stroke-linejoin="round"/>
<path d="M2343.6,817.6C2343.6,792.3 2361.6,771.6 2383.6,771.6C2421.0,771.5 2458.4,778.3 2495.7,778.0C2536.2,777.7 2576.7,769.9 2617.2,769.8C2648.5,769.8 2674.2,793.2 2674.2,821.8C2675.7,862.9 2670.5,903.9 2669.0,945.0C2669.0,975.8 2647.4,1001.0 2621.0,1001.0C2581.9,999.0 2542.9,993.0 2503.8,993.0C2464.8,993.0 2425.8,995.2 2386.7,995.6C2360.3,995.6 2338.7,968.6 2338.7,935.6C2338.2,896.3 2343.1,856.9 2343.6,817.6 Z" fill="#fbfbfb" stroke="#ef922b" stroke-width="2.6" stroke-opacity="1.00" stroke-linejoin="round"/>
<path d="M996.9,523.0L995.8,523.7L996.5,524.6L997.6,525.6L996.1,526.8L997.3,528.1L1000.1,529.4L1000.0,530.7L999.7,532.0L1000.2,533.2L1000.2,534.5L1001.1,535.8L1001.7,537.2L1000.5,538.5L1002.6,539.8L1002.3,541.2L1002.5,542.5L1001.5,543.9L1001.7,545.4L1003.0,546.9L1000.5,548.4L1003.1,549.8L1002.2,551.1L1002.5,552.2L1002.7,553.0L1005.3,553.0L1005.3,552.2L1005.9,551.1L1006.8,549.8L1006.2,548.4L1005.9,546.9L1008.7,545.4L1008.2,543.9L1008.5,542.5L1008.3,541.2L1006.7,539.8L1005.1,538.5L1006.6,537.2L1004.5,535.8L1006.3,534.5L1006.3,533.2L1003.6,532.0L1004.0,530.7L1003.2,529.4L1001.6,528.1L1002.6,526.8L999.3,525.6L1000.1,524.6L999.2,523.7L998.1,523.0Z" fill="#abacb0"/>
<path d="M996.9,569.5L996.4,570.2L997.5,571.0L998.3,572.0L999.4,573.2L999.4,574.4L1000.6,575.7L1001.2,577.0L1001.1,578.2L1001.8,579.4L1000.4,580.6L1002.5,581.8L1000.3,583.0L1001.6,584.3L1001.6,585.6L1003.7,587.1L1003.2,588.6L1003.7,590.3L1004.3,592.1L1003.2,594.1L1002.6,596.0L1003.6,598.1L1002.3,600.1L1003.7,602.2L1002.0,604.3L1003.1,606.5L1005.3,608.8L1004.3,611.2L1005.3,613.6L1005.3,615.9L1006.8,618.1L1005.4,620.1L1004.8,621.7L1007.0,623.0L1005.2,624.1L1004.3,625.0L1002.5,625.7L1004.4,626.3L1004.4,626.7L1004.4,627.1L1003.7,627.5L1006.3,627.5L1006.3,627.1L1007.4,626.7L1007.1,626.3L1009.9,625.7L1010.3,625.0L1008.9,624.1L1010.9,623.0L1010.4,621.7L1011.7,620.1L1010.8,618.1L1010.9,615.9L1010.5,613.6L1009.9,611.2L1009.1,608.8L1010.6,606.5L1010.1,604.3L1007.7,602.2L1008.4,600.1L1007.1,598.1L1007.3,596.0L1010.2,594.1L1010.0,592.1L1007.8,590.3L1006.7,588.6L1006.5,587.1L1008.5,585.6L1006.2,584.3L1007.9,583.0L1008.0,581.8L1004.4,580.6L1005.5,579.4L1003.7,578.2L1004.2,577.0L1004.6,575.7L1001.2,574.4L1002.9,573.2L1001.9,572.0L1001.0,571.0L999.2,570.2L998.1,569.5Z" fill="#abacb0"/>
<path d="M996.5,644.0L997.1,644.7L995.3,645.5L997.9,646.5L997.1,647.7L998.7,648.9L998.6,650.2L999.1,651.5L999.3,652.7L1001.2,653.9L1000.9,655.1L1000.3,656.3L1002.2,657.5L1000.5,658.8L1002.5,660.1L1001.6,661.6L1003.5,663.1L1003.7,664.8L1002.2,666.6L1004.0,668.6L1001.9,670.5L1002.9,672.6L1003.9,674.6L1001.9,676.7L1004.1,678.8L1004.3,681.0L1002.5,683.3L1005.0,685.7L1003.9,688.1L1004.5,690.4L1006.4,692.6L1003.6,694.6L1006.4,696.2L1004.8,697.5L1006.0,698.6L1005.0,699.5L1004.2,700.2L1002.9,700.8L1002.7,701.2L1003.7,701.6L1003.3,702.0L1005.9,702.0L1005.7,701.6L1005.7,701.2L1007.5,700.8L1009.1,700.2L1010.7,699.5L1009.2,698.6L1011.9,697.5L1012.2,696.2L1012.0,694.6L1009.3,692.6L1009.9,690.4L1009.5,688.1L1008.7,685.7L1008.4,683.3L1008.2,681.0L1009.0,678.8L1007.7,676.7L1009.4,674.6L1007.2,672.6L1007.0,670.5L1008.0,668.6L1008.6,666.6L1006.9,664.8L1007.6,663.1L1007.0,661.6L1006.0,660.1L1006.7,658.8L1005.7,657.5L1005.1,656.3L1006.2,655.1L1003.3,653.9L1003.8,652.7L1003.8,651.5L1002.1,650.2L1001.3,648.9L1000.8,647.7L1001.6,646.5L997.9,645.5L999.3,644.7L997.7,644.0Z" fill="#abacb0"/>
<path d="M995.5,718.5L996.4,719.2L997.1,720.0L997.6,721.1L998.1,722.3L995.9,723.5L997.0,724.8L999.1,726.1L998.7,727.4L999.7,728.6L998.9,729.8L999.9,731.0L999.8,732.2L1000.6,733.5L999.8,734.9L1002.5,736.4L1002.4,738.0L1002.0,739.7L1000.3,741.5L1001.0,743.5L1001.6,745.5L1002.7,747.6L1000.5,749.7L1000.8,751.8L1003.6,753.9L1001.0,756.1L1002.1,758.5L1002.5,760.9L1003.7,763.4L1002.8,765.7L1002.8,768.0L1004.9,769.9L1002.9,771.6L1003.6,772.9L1004.6,774.0L1004.2,774.9L1002.5,775.7L1002.6,776.2L1002.3,776.7L1002.3,777.1L1002.3,777.5L1004.9,777.5L1004.5,777.1L1006.7,776.7L1007.7,776.2L1007.7,775.7L1009.0,774.9L1008.7,774.0L1009.8,772.9L1008.6,771.6L1009.2,769.9L1009.6,768.0L1008.6,765.7L1008.4,763.4L1008.9,760.9L1007.5,758.5L1007.7,756.1L1008.6,753.9L1006.0,751.8L1006.1,749.7L1005.6,747.6L1007.1,745.5L1007.3,743.5L1006.4,741.5L1008.1,739.7L1005.2,738.0L1007.5,736.4L1007.2,734.9L1006.9,733.5L1004.5,732.2L1005.9,731.0L1005.6,729.8L1003.3,728.6L1004.6,727.4L1002.6,726.1L1001.1,724.8L1001.6,723.5L1000.2,722.3L1000.4,721.1L998.9,720.0L996.1,719.2L996.7,718.5Z" fill="#abacb0"/>
<path d="M993.9,794.0L994.0,794.7L992.8,795.5L994.5,796.6L996.6,797.7L997.1,799.0L995.7,800.3L995.7,801.5L997.9,802.8L998.7,804.0L998.8,805.2L997.1,806.4L997.0,807.6L999.8,808.9L998.0,810.3L1000.8,811.8L998.3,813.3L998.8,815.1L1000.7,816.9L1001.6,818.8L1001.2,820.8L1001.1,822.9L1001.0,825.0L1001.2,827.1L999.1,829.2L1000.9,831.4L1000.2,833.7L1000.6,836.1L1002.6,838.6L1001.7,840.9L1001.9,843.1L1001.3,845.1L1004.1,846.7L1003.2,848.1L1002.7,849.2L1002.2,850.1L1001.0,850.8L1002.3,851.3L999.7,851.8L1002.2,852.2L1000.7,852.6L1003.3,852.6L1003.8,852.2L1005.3,851.8L1004.3,851.3L1006.9,850.8L1007.1,850.1L1008.3,849.2L1006.7,848.1L1007.7,846.7L1008.0,845.1L1007.6,843.1L1007.2,840.9L1006.9,838.6L1007.2,836.1L1005.4,833.7L1007.2,831.4L1005.3,829.2L1007.2,827.1L1004.4,825.0L1005.7,822.9L1004.1,820.8L1005.8,818.8L1006.6,816.9L1006.5,815.1L1006.3,813.3L1003.9,811.8L1003.4,810.3L1002.9,808.9L1002.8,807.6L1003.7,806.4L1003.0,805.2L1002.8,804.0L1002.9,802.8L1001.9,801.5L1000.0,800.3L1000.2,799.0L998.0,797.7L998.7,796.6L996.4,795.5L996.6,794.7L995.1,794.0Z" fill="#abacb0"/>
<path d="M992.9,868.5L992.7,869.2L992.2,870.0L992.7,871.1L993.7,872.2L995.5,873.5L994.8,874.8L995.7,876.0L996.6,877.3L995.8,878.5L997.0,879.7L996.3,880.9L997.1,882.1L996.8,883.4L998.2,884.8L998.4,886.2L999.8,887.8L998.9,889.5L1000.2,891.3L999.9,893.3L999.1,895.3L998.4,897.3L999.8,899.4L1000.5,901.5L998.5,903.6L998.7,905.8L1001.2,908.1L999.6,910.6L1000.2,913.0L1001.9,915.3L1000.1,917.5L1000.9,919.5L1001.9,921.1L999.8,922.5L1000.9,923.6L999.7,924.5L1001.5,925.2L1000.2,925.7L999.2,926.2L998.6,926.6L999.7,927.0L1002.3,927.0L1004.0,926.6L1004.0,926.2L1003.2,925.7L1005.1,925.2L1006.3,924.5L1006.4,923.6L1006.3,922.5L1007.6,921.1L1006.5,919.5L1007.9,917.5L1005.2,915.3L1006.0,913.0L1007.0,910.6L1006.7,908.1L1005.8,905.8L1004.1,903.6L1003.9,901.5L1006.1,899.4L1005.3,897.3L1003.7,895.3L1006.0,893.3L1004.2,891.3L1005.1,889.5L1004.4,887.8L1005.0,886.2L1004.0,884.8L1004.9,883.4L1003.8,882.1L1001.9,880.9L1001.5,879.7L999.7,878.5L999.9,877.3L1001.1,876.0L999.8,874.8L999.7,873.5L996.5,872.2L996.8,871.1L994.9,870.0L995.7,869.2L994.1,868.5Z" fill="#abacb0"/>
<path d="M990.9,943.7L992.2,944.4L992.6,945.2L992.6,946.3L991.6,947.4L993.3,948.7L992.7,949.9L995.4,951.2L994.5,952.4L994.7,953.6L995.8,954.8L995.6,956.0L996.1,957.3L994.9,958.5L996.8,959.9L997.9,961.4L996.3,962.9L997.3,964.6L997.6,966.5L996.6,968.4L995.8,970.4L998.1,972.4L998.0,974.5L996.6,976.6L998.7,978.7L997.7,980.9L998.9,983.2L997.9,985.6L998.9,988.0L998.7,990.4L998.2,992.6L998.3,994.5L1000.5,996.2L998.4,997.5L998.8,998.6L999.6,999.5L998.4,1000.2L997.7,1000.8L998.1,1001.2L996.9,1001.6L997.7,1002.0L1000.3,1002.0L1000.0,1001.6L1001.7,1001.2L1001.5,1000.8L1002.3,1000.2L1004.8,999.5L1005.3,998.6L1003.8,997.5L1005.7,996.2L1003.7,994.5L1004.1,992.6L1005.7,990.4L1005.1,988.0L1003.5,985.6L1003.0,983.2L1002.3,980.9L1001.4,978.7L1002.4,976.6L1002.2,974.5L1002.8,972.4L1003.3,970.4L1001.5,968.4L1002.4,966.5L1002.6,964.6L1002.9,962.9L1000.8,961.4L1000.5,959.9L1002.6,958.5L1001.3,957.3L999.4,956.0L1000.4,954.8L998.8,953.6L997.4,952.4L998.5,951.2L997.9,949.9L997.2,948.7L995.9,947.4L995.3,946.3L993.3,945.2L991.7,944.4L992.1,943.7Z" fill="#abacb0"/>
<path d="M989.8,1019.0L990.6,1019.7L991.1,1020.5L992.0,1021.6L991.3,1022.7L992.2,1024.0L992.9,1025.3L994.0,1026.6L993.6,1027.8L992.0,1029.0L994.5,1030.2L994.3,1031.4L993.5,1032.7L993.3,1034.0L995.6,1035.3L995.7,1036.8L997.0,1038.4L996.8,1040.1L994.6,1042.0L995.2,1043.9L996.2,1045.9L995.6,1048.0L996.8,1050.1L997.4,1052.2L997.8,1054.3L997.4,1056.5L997.9,1058.8L998.5,1061.3L998.5,1063.7L996.8,1066.1L997.0,1068.3L997.4,1070.3L999.1,1071.9L998.1,1073.3L997.4,1074.4L998.3,1075.2L996.0,1076.0L997.6,1076.5L996.5,1077.0L997.0,1077.4L996.6,1077.8L999.2,1077.8L998.8,1077.4L1000.5,1077.0L1000.9,1076.5L1003.7,1076.0L1002.6,1075.2L1003.3,1074.4L1004.2,1073.3L1004.0,1071.9L1003.9,1070.3L1002.8,1068.3L1002.0,1066.1L1003.1,1063.7L1002.5,1061.3L1003.7,1058.8L1001.5,1056.5L1002.5,1054.3L1002.0,1052.2L1000.4,1050.1L1002.7,1048.0L1002.9,1045.9L1000.1,1043.9L1001.0,1042.0L1001.7,1040.1L999.9,1038.4L1002.3,1036.8L1000.4,1035.3L1000.2,1034.0L999.9,1032.7L999.2,1031.4L998.7,1030.2L999.0,1029.0L998.3,1027.8L996.8,1026.6L995.4,1025.3L996.7,1024.0L994.5,1022.7L993.0,1021.6L993.8,1020.5L990.3,1019.7L991.0,1019.0Z" fill="#abacb0"/>
<path d="M986.9,1094.4L985.3,1095.1L988.1,1095.9L987.6,1096.9L987.3,1098.1L988.5,1099.3L987.9,1100.6L988.9,1101.8L989.0,1103.0L990.6,1104.2L991.7,1105.4L991.0,1106.6L990.1,1107.8L991.0,1109.1L992.2,1110.4L992.9,1111.9L991.6,1113.4L993.7,1115.1L994.0,1116.9L994.6,1118.8L992.4,1120.8L994.2,1122.8L992.8,1124.8L993.9,1126.9L993.8,1129.0L992.2,1131.1L993.0,1133.4L993.0,1135.8L996.1,1138.2L996.7,1140.5L996.4,1142.7L997.0,1144.6L995.0,1146.2L996.9,1147.6L994.4,1148.6L993.4,1149.5L993.6,1150.2L995.4,1150.8L994.7,1151.2L994.9,1151.6L993.7,1152.0L996.3,1152.0L996.9,1151.6L998.2,1151.2L997.4,1150.8L1000.1,1150.2L999.7,1149.5L1001.6,1148.6L999.5,1147.6L1001.3,1146.2L999.5,1144.6L1002.2,1142.7L1000.5,1140.5L999.2,1138.2L1000.3,1135.8L998.0,1133.4L997.8,1131.1L997.3,1129.0L1000.3,1126.9L997.4,1124.8L999.0,1122.8L997.9,1120.8L997.9,1118.8L998.4,1116.9L997.7,1115.1L996.8,1113.4L997.5,1111.9L996.6,1110.4L996.0,1109.1L998.4,1107.8L996.1,1106.6L994.4,1105.4L995.0,1104.2L993.1,1103.0L993.9,1101.8L991.9,1100.6L991.2,1099.3L990.3,1098.1L989.5,1096.9L988.5,1095.9L988.0,1095.1L988.1,1094.4Z" fill="#abacb0"/>
<path d="M984.5,1169.0L985.8,1169.7L984.5,1170.5L986.2,1171.6L985.1,1172.8L987.1,1174.0L987.7,1175.3L987.5,1176.6L988.6,1177.8L988.2,1179.1L989.2,1180.3L988.1,1181.5L989.7,1182.7L990.7,1184.0L991.1,1185.4L989.6,1186.9L989.0,1188.5L992.0,1190.2L990.9,1192.0L989.4,1194.0L990.0,1196.0L989.7,1198.1L991.2,1200.2L990.1,1202.3L990.2,1204.4L991.1,1206.6L992.0,1209.0L992.1,1211.4L991.4,1213.9L993.8,1216.2L991.5,1218.5L992.2,1220.4L991.9,1222.1L992.1,1223.4L993.0,1224.5L993.0,1225.4L991.2,1226.2L991.4,1226.7L992.6,1227.2L992.4,1227.6L991.3,1228.0L993.9,1228.0L993.4,1227.6L995.4,1227.2L994.8,1226.7L997.4,1226.2L998.8,1225.4L998.5,1224.5L999.5,1223.4L998.5,1222.1L999.8,1220.4L999.9,1218.5L996.9,1216.2L996.5,1213.9L996.4,1211.4L998.0,1209.0L997.6,1206.6L996.7,1204.4L997.9,1202.3L994.7,1200.2L996.7,1198.1L994.8,1196.0L996.6,1194.0L994.9,1192.0L994.7,1190.2L995.5,1188.5L995.1,1186.9L996.0,1185.4L994.8,1184.0L995.7,1182.7L995.1,1181.5L992.1,1180.3L993.7,1179.1L990.7,1177.8L990.4,1176.6L990.4,1175.3L990.2,1174.0L987.9,1172.8L988.0,1171.6L986.4,1170.5L986.1,1169.7L985.7,1169.0Z" fill="#abacb0"/>
<path d="M980.5,1244.0L980.6,1244.7L981.5,1245.5L980.8,1246.5L980.5,1247.7L983.2,1248.9L983.5,1250.2L982.6,1251.5L985.6,1252.7L984.1,1253.9L983.8,1255.1L986.3,1256.3L986.4,1257.5L985.9,1258.8L986.0,1260.1L987.6,1261.6L987.8,1263.1L987.5,1264.8L988.3,1266.6L986.1,1268.6L985.8,1270.5L987.5,1272.6L986.9,1274.6L985.5,1276.7L986.4,1278.8L986.8,1281.0L988.4,1283.3L986.8,1285.7L988.1,1288.1L987.6,1290.4L989.7,1292.6L990.7,1294.6L988.8,1296.2L988.4,1297.5L988.8,1298.6L987.8,1299.5L987.0,1300.2L988.8,1300.8L986.9,1301.2L988.4,1301.6L987.3,1302.0L989.9,1302.0L988.8,1301.6L990.2,1301.2L993.0,1300.8L993.0,1300.2L994.7,1299.5L994.2,1298.6L994.3,1297.5L993.5,1296.2L995.8,1294.6L995.9,1292.6L995.0,1290.4L992.4,1288.1L992.8,1285.7L992.4,1283.3L993.5,1281.0L992.3,1278.8L993.1,1276.7L992.7,1274.6L991.6,1272.6L990.9,1270.5L993.6,1268.6L993.4,1266.6L991.7,1264.8L991.7,1263.1L992.8,1261.6L991.0,1260.1L992.3,1258.8L992.1,1257.5L990.7,1256.3L988.4,1255.1L987.5,1253.9L987.7,1252.7L987.1,1251.5L987.1,1250.2L985.6,1248.9L985.1,1247.7L984.1,1246.5L981.9,1245.5L982.4,1244.7L981.7,1244.0Z" fill="#abacb0"/>
<path d="M975.5,1318.5L974.3,1319.2L975.9,1320.0L974.9,1321.1L977.7,1322.3L979.0,1323.5L979.6,1324.8L977.5,1326.1L978.8,1327.3L977.9,1328.6L978.4,1329.8L979.1,1331.0L980.0,1332.2L979.1,1333.5L981.3,1334.9L982.5,1336.4L980.6,1338.0L982.4,1339.7L981.7,1341.5L981.9,1343.5L980.7,1345.5L982.3,1347.6L983.2,1349.7L982.5,1351.8L983.1,1353.9L982.1,1356.1L981.6,1358.5L983.6,1360.9L983.6,1363.4L983.3,1365.7L985.0,1368.0L985.7,1369.9L983.6,1371.6L983.7,1372.9L984.7,1374.0L983.6,1374.9L982.9,1375.7L982.6,1376.2L983.2,1376.7L981.2,1377.1L982.3,1377.5L984.9,1377.5L985.9,1377.1L987.4,1376.7L986.4,1376.2L988.2,1375.7L987.1,1374.9L990.5,1374.0L990.5,1372.9L989.7,1371.6L988.5,1369.9L989.3,1368.0L989.0,1365.7L988.5,1363.4L990.0,1360.9L987.0,1358.5L987.8,1356.1L987.8,1353.9L988.7,1351.8L987.2,1349.7L988.5,1347.6L985.7,1345.5L986.5,1343.5L988.2,1341.5L987.9,1339.7L985.6,1338.0L987.5,1336.4L986.8,1334.9L985.7,1333.5L984.7,1332.2L986.0,1331.0L983.8,1329.8L984.0,1328.6L982.7,1327.3L981.0,1326.1L980.2,1324.8L981.8,1323.5L979.9,1322.3L978.2,1321.1L977.2,1320.0L977.7,1319.2L976.7,1318.5Z" fill="#abacb0"/>
<path d="M971.2,1394.0L970.7,1394.7L972.8,1395.5L972.4,1396.5L973.9,1397.7L972.8,1398.9L973.1,1400.2L975.7,1401.5L974.1,1402.7L974.3,1403.9L974.6,1405.1L974.3,1406.3L975.0,1407.5L976.3,1408.8L977.6,1410.1L977.9,1411.6L976.4,1413.1L975.9,1414.8L977.3,1416.6L977.6,1418.6L976.7,1420.5L976.4,1422.6L976.5,1424.6L978.2,1426.7L976.7,1428.8L978.9,1431.0L977.4,1433.3L979.9,1435.7L980.6,1438.1L979.1,1440.4L979.4,1442.6L979.2,1444.6L978.8,1446.2L979.3,1447.5L978.0,1448.6L980.3,1449.5L979.9,1450.2L977.8,1450.8L978.2,1451.2L977.5,1451.6L978.0,1452.0L980.6,1452.0L979.5,1451.6L982.4,1451.2L984.2,1450.8L983.0,1450.2L985.9,1449.5L983.8,1448.6L986.5,1447.5L984.1,1446.2L984.1,1444.6L986.7,1442.6L983.6,1440.4L984.6,1438.1L982.7,1435.7L984.8,1433.3L982.4,1431.0L981.8,1428.8L983.5,1426.7L984.6,1424.6L984.2,1422.6L984.4,1420.5L981.4,1418.6L982.1,1416.6L981.9,1414.8L984.0,1413.1L980.7,1411.6L982.4,1410.1L982.4,1408.8L979.9,1407.5L979.8,1406.3L981.7,1405.1L978.4,1403.9L978.6,1402.7L979.7,1401.5L976.7,1400.2L977.6,1398.9L974.7,1397.7L973.8,1396.5L975.5,1395.5L973.3,1394.7L972.4,1394.0Z" fill="#abacb0"/>
<path d="M967.3,1468.5L966.6,1469.2L968.2,1470.1L967.5,1471.1L967.9,1472.3L969.6,1473.5L969.2,1474.8L970.4,1476.1L971.2,1477.3L969.1,1478.6L969.6,1479.8L972.4,1481.1L972.5,1482.4L970.0,1483.7L972.8,1485.1L972.6,1486.4L973.1,1487.7L972.4,1489.0L971.1,1490.5L971.6,1492.0L971.7,1493.5L971.5,1494.9L973.7,1496.1L974.0,1497.2L973.1,1498.0L975.7,1498.0L977.1,1497.2L978.3,1496.1L977.7,1494.9L976.9,1493.5L977.6,1492.0L978.0,1490.5L977.5,1489.0L976.3,1487.7L977.5,1486.4L978.8,1485.1L978.2,1483.7L975.4,1482.4L976.0,1481.1L974.5,1479.8L974.8,1478.6L976.2,1477.3L973.5,1476.1L975.1,1474.8L971.9,1473.5L972.1,1472.3L971.2,1471.1L970.4,1470.1L970.2,1469.2L968.5,1468.5Z" fill="#abacb0"/>
<path d="M1744.5,480.9L1744.8,480.5L1745.3,479.9L1745.1,479.3L1744.9,478.6L1745.5,477.8L1745.2,477.1L1745.3,476.3L1744.6,475.6L1744.8,474.7L1744.4,473.8L1744.0,472.9L1744.1,472.0L1744.1,471.0L1744.3,470.1L1744.0,469.2L1743.7,468.2L1743.8,467.3L1743.6,466.4L1744.0,465.5L1743.5,464.7L1744.1,463.9L1744.0,463.1L1744.4,462.4L1744.5,461.6L1745.1,460.9L1745.1,460.1L1745.0,459.4L1744.6,458.5L1744.8,457.8L1744.1,456.9L1744.7,456.2L1744.9,455.5L1745.0,454.7L1745.5,454.1L1745.6,453.3L1745.8,452.6L1746.2,451.9L1747.2,451.4L1747.6,450.7L1748.1,450.1L1748.2,449.3L1748.4,448.5L1748.1,447.5L1748.7,446.9L1748.6,445.9L1749.6,445.4L1750.4,444.9L1751.2,444.4L1751.6,443.6L1752.3,443.1L1752.9,442.4L1753.2,441.5L1753.3,440.5L1753.7,439.6L1754.2,438.8L1755.2,438.4L1755.5,437.4L1755.8,436.4L1756.2,435.4L1756.9,434.7L1757.6,434.0L1758.1,433.0L1758.5,432.0L1759.8,431.8L1760.7,431.2L1761.5,430.5L1762.1,429.6L1762.6,428.5L1763.4,427.7L1764.1,426.8L1765.3,426.4L1765.7,425.2L1767.0,424.9L1767.8,424.1L1768.5,423.1L1769.2,422.1L1770.3,421.5L1771.3,420.8L1772.2,419.9L1773.5,419.6L1774.7,419.1L1775.7,418.4L1776.7,417.6L1777.7,416.7L1778.8,416.0L1780.3,416.0L1781.5,415.3L1782.6,414.6L1783.6,413.6L1784.6,412.5L1786.0,412.2L1787.3,411.6L1788.4,410.6L1789.8,410.1L1791.0,409.1L1792.4,408.6L1793.9,408.1L1795.2,407.4L1796.7,406.9L1798.0,406.0L1799.3,404.9L1800.9,404.6L1802.2,403.5L1803.5,402.6L1805.1,402.2L1806.7,401.6L1808.6,401.9L1810.3,401.8L1812.0,401.4L1813.5,400.7L1814.9,399.8L1816.4,398.9L1818.1,398.4L1819.8,397.9L1821.5,397.2L1823.2,396.5L1824.7,395.3L1826.4,394.4L1828.1,393.7L1829.8,392.9L1831.5,391.9L1833.4,391.6L1835.0,390.6L1837.0,390.5L1838.7,389.7L1840.5,389.2L1842.2,388.5L1844.0,388.1L1845.5,387.0L1847.4,387.1L1849.3,387.2L1851.0,387.0L1852.5,386.5L1853.7,385.2L1854.8,384.4L1856.3,384.8L1857.5,384.6L1858.7,384.4L1859.7,384.1L1860.5,383.2L1861.3,382.1L1862.6,382.6L1863.7,382.5L1864.9,382.4L1866.1,382.0L1867.3,381.5L1868.7,381.1L1870.0,379.9L1871.5,378.9L1873.0,377.5L1875.2,377.3L1877.4,376.8L1879.9,376.2L1882.7,376.0L1885.8,375.8L1889.0,375.1L1892.3,373.6L1895.8,372.6L1899.3,370.7L1903.3,370.0L1907.6,369.7L1911.9,368.9L1915.9,366.9L1920.0,364.9L1924.4,363.5L1928.9,362.2L1933.3,360.4L1937.8,358.9L1942.5,357.8L1947.1,356.9L1951.9,356.4L1956.4,355.3L1960.8,354.0L1965.4,353.4L1969.5,352.0L1973.5,349.9L1977.6,348.8L1981.7,347.6L1985.8,346.6L1989.9,345.5L1994.1,344.8L1998.2,343.6L2002.5,343.2L2006.6,342.4L2010.9,342.2L2015.2,342.1L2019.3,340.9L2023.4,339.7L2027.4,338.6L2031.5,337.5L2035.5,335.7L2039.5,334.7L2043.7,334.0L2047.8,333.4L2052.0,332.5L2056.1,331.8L2060.2,330.9L2064.2,329.9L2068.3,328.9L2072.5,328.7L2076.6,327.7L2080.8,327.9L2085.0,327.7L2089.2,327.6L2093.2,326.8L2097.2,325.5L2101.3,324.6L2105.4,324.1L2109.5,323.6L2113.6,323.2L2117.7,322.8L2121.8,322.2L2125.9,321.8L2130.0,321.5L2134.1,321.0L2138.2,320.3L2142.3,320.3L2146.4,320.0L2150.5,320.2L2154.6,319.6L2158.7,319.3L2163.0,319.0L2167.3,318.9L2171.7,319.1L2176.1,319.6L2180.5,319.0L2185.0,318.8L2189.5,318.4L2194.0,318.7L2198.4,319.2L2202.8,319.7L2207.2,319.9L2211.5,319.4L2215.7,319.7L2219.9,320.3L2223.9,320.2L2227.9,320.6L2231.6,321.5L2235.3,322.0L2238.8,322.7L2242.1,322.5L2245.3,322.8L2248.3,322.8L2251.2,322.7L2253.9,322.6L2256.5,322.7L2258.9,323.5L2261.3,324.0L2263.5,324.3L2265.7,324.6L2267.9,324.2L2269.9,324.3L2271.8,324.6L2273.6,325.2L2275.4,325.2L2277.0,326.3L2278.8,326.3L2280.3,327.1L2281.9,327.4L2283.5,327.5L2285.1,327.4L2286.7,327.7L2288.3,327.5L2289.9,327.4L2291.2,328.4L2292.6,328.7L2293.9,329.9L2295.3,329.6L2296.7,329.2L2298.0,329.2L2299.2,329.3L2300.4,329.3L2301.5,329.8L2302.5,330.0L2303.5,330.2L2304.5,330.6L2305.4,330.8L2306.3,330.9L2307.2,330.8L2308.0,330.6L2308.8,330.6L2309.4,331.1L2310.2,330.8L2310.8,330.9L2311.4,330.9L2311.9,331.1L2312.1,330.0L2311.5,330.1L2311.1,329.4L2310.4,329.6L2309.8,329.0L2309.1,329.1L2308.4,328.6L2307.6,328.8L2306.8,328.3L2306.0,327.8L2305.0,327.6L2304.1,327.1L2303.0,327.5L2302.0,327.1L2300.8,327.2L2299.7,326.7L2298.4,326.9L2297.2,326.3L2296.0,325.6L2294.8,324.6L2293.2,325.2L2291.8,325.0L2290.2,325.6L2288.7,324.9L2287.3,324.3L2285.8,323.7L2284.3,323.6L2282.7,323.1L2281.2,322.4L2279.5,322.6L2277.8,322.0L2276.1,321.9L2274.1,322.2L2272.3,321.7L2270.4,321.5L2268.4,320.9L2266.4,319.9L2264.3,318.9L2261.9,319.4L2259.5,319.0L2256.9,319.4L2254.3,318.9L2251.6,318.4L2248.7,317.5L2245.7,317.5L2242.5,317.2L2239.2,316.5L2235.6,317.0L2231.9,316.8L2228.1,317.4L2224.1,316.8L2220.0,317.1L2215.9,316.8L2211.7,316.1L2207.3,315.8L2202.9,316.1L2198.5,315.5L2194.0,315.6L2189.5,316.2L2185.0,315.8L2180.6,314.9L2176.1,314.6L2171.6,315.1L2167.2,315.3L2162.9,315.8L2158.6,315.8L2154.4,315.2L2150.2,315.0L2146.1,315.3L2142.0,316.1L2137.9,317.3L2133.7,317.1L2129.6,317.3L2125.5,317.6L2121.3,317.7L2117.2,318.6L2113.1,319.0L2109.0,319.6L2104.9,320.2L2100.9,321.5L2096.6,321.1L2092.4,321.3L2088.3,321.6L2084.2,322.6L2080.2,324.0L2076.1,324.7L2072.0,325.6L2067.9,326.5L2063.8,327.0L2059.7,327.9L2055.5,328.4L2051.3,328.8L2047.1,329.5L2043.1,330.7L2038.9,331.3L2034.6,331.6L2030.4,332.0L2026.2,332.6L2022.0,333.3L2017.7,333.7L2013.6,334.5L2009.6,336.5L2005.6,337.9L2001.5,339.2L1997.4,340.3L1993.3,341.1L1989.3,342.8L1985.0,343.4L1980.9,344.3L1976.6,345.0L1972.4,345.5L1968.2,346.7L1963.6,346.8L1959.4,348.6L1955.0,349.9L1950.4,351.0L1946.1,353.0L1941.6,354.6L1937.0,355.9L1932.3,356.9L1927.9,358.4L1923.1,358.9L1918.7,360.2L1914.1,360.6L1909.8,361.7L1905.7,363.1L1901.8,365.0L1898.0,366.2L1894.2,367.3L1890.4,367.3L1887.0,368.0L1884.1,369.9L1881.3,371.0L1878.9,372.8L1876.4,373.3L1874.2,374.2L1872.2,374.8L1870.3,375.1L1868.4,374.8L1866.6,374.6L1865.2,375.2L1863.8,375.3L1862.5,375.4L1861.6,376.4L1860.8,377.5L1859.9,378.4L1858.8,378.5L1857.7,378.4L1856.4,378.1L1855.5,379.0L1854.4,379.4L1853.5,380.5L1852.1,380.6L1850.5,380.5L1849.0,381.0L1847.7,382.3L1846.1,383.1L1844.5,384.0L1842.8,384.6L1841.2,385.3L1839.3,385.5L1837.6,386.3L1835.8,386.7L1833.9,387.1L1832.1,387.6L1830.4,388.5L1828.5,388.9L1826.6,389.2L1824.6,389.4L1822.8,389.8L1821.1,390.6L1819.2,390.8L1817.4,391.2L1815.6,391.7L1814.0,392.5L1812.1,392.6L1810.7,393.7L1809.1,394.4L1807.5,395.1L1806.0,395.8L1804.8,397.3L1803.6,398.6L1801.8,398.8L1800.3,399.4L1798.7,399.9L1797.2,400.4L1795.7,401.1L1794.1,401.5L1793.0,402.7L1791.5,403.4L1790.1,404.0L1788.7,404.8L1787.2,405.2L1786.0,406.1L1784.6,406.7L1783.6,407.9L1782.1,408.3L1780.7,408.8L1779.5,409.5L1778.2,410.1L1777.2,411.3L1776.2,412.2L1775.4,413.4L1774.3,414.1L1772.9,414.5L1771.9,415.4L1771.1,416.6L1770.5,417.8L1769.6,418.7L1768.6,419.5L1767.6,420.2L1766.3,420.5L1765.5,421.5L1764.9,422.6L1764.0,423.4L1763.0,424.0L1762.0,424.7L1761.4,425.7L1760.5,426.3L1759.5,427.0L1758.6,427.6L1757.6,428.2L1757.2,429.3L1756.8,430.4L1756.1,431.3L1755.4,432.0L1754.3,432.5L1753.7,433.3L1752.7,433.8L1751.7,434.3L1751.1,435.2L1750.8,436.2L1749.9,436.8L1749.4,437.7L1748.2,438.0L1747.6,438.8L1747.2,439.7L1746.5,440.4L1745.9,441.2L1745.9,442.3L1746.2,443.5L1746.4,444.7L1745.3,445.2L1744.8,445.9L1744.0,446.5L1743.8,447.4L1743.2,448.1L1742.7,448.9L1742.8,449.8L1743.1,450.8L1743.1,451.7L1742.9,452.5L1742.4,453.2L1742.4,454.1L1742.0,454.8L1742.1,455.7L1742.1,456.5L1741.4,457.2L1740.9,457.9L1741.0,458.8L1740.6,459.6L1740.6,460.4L1740.5,461.2L1741.0,462.1L1740.9,462.9L1741.1,463.7L1741.1,464.6L1741.3,465.6L1741.5,466.5L1740.9,467.5L1741.2,468.4L1740.8,469.4L1741.2,470.4L1741.0,471.4L1741.3,472.3L1741.3,473.3L1742.0,474.1L1741.8,475.1L1741.5,476.0L1741.4,476.8L1741.9,477.6L1741.8,478.4L1742.6,479.0L1742.4,479.6L1742.8,480.2L1743.0,480.7L1743.2,481.1Z" fill="#000"/>
<path d="M2378.4,498.1L2378.5,498.5L2378.6,499.0L2378.6,499.6L2378.5,500.2L2379.0,500.6L2378.8,501.4L2379.5,501.9L2380.0,502.4L2380.8,502.8L2380.5,503.8L2380.7,504.5L2381.0,505.3L2381.3,506.0L2382.2,506.5L2382.5,507.2L2382.5,508.1L2383.1,508.7L2383.2,509.4L2383.0,510.3L2383.3,510.9L2383.6,511.5L2383.5,512.3L2383.3,513.0L2382.5,513.8L2383.1,514.4L2382.8,515.1L2383.0,515.7L2383.2,516.3L2383.7,516.9L2384.2,517.5L2384.1,518.1L2384.1,518.8L2384.2,519.4L2384.5,520.1L2384.3,520.7L2384.4,521.4L2384.1,522.0L2384.0,522.7L2384.0,523.5L2383.6,524.2L2383.1,524.8L2383.4,525.8L2382.6,526.4L2382.3,527.3L2382.3,528.4L2381.5,529.1L2381.4,530.2L2381.3,531.2L2380.7,532.0L2380.1,532.8L2379.5,533.7L2378.6,534.4L2377.9,535.2L2377.3,536.2L2376.9,537.2L2376.9,538.5L2376.1,539.5L2375.5,540.6L2374.1,541.2L2373.5,542.5L2372.7,543.8L2371.6,545.0L2370.4,546.1L2369.5,547.8L2368.2,549.2L2367.0,550.9L2365.1,552.0L2363.0,553.2L2360.6,554.2L2358.7,555.9L2356.8,557.9L2354.4,559.3L2352.5,561.6L2350.3,563.6L2348.0,565.7L2345.8,568.0L2343.0,569.6L2340.7,571.9L2337.9,573.7L2334.7,574.8L2331.9,576.6L2329.3,578.7L2326.3,580.3L2323.7,582.4L2320.7,583.8L2318.0,585.7L2315.2,587.3L2312.3,588.8L2309.4,590.0L2306.3,591.0L2303.6,592.8L2300.8,594.3L2298.2,596.1L2295.5,597.8L2292.5,599.1L2289.5,600.4L2286.6,601.9L2284.0,604.0L2281.4,606.3L2277.9,606.7L2274.8,608.0L2271.5,609.1L2268.3,610.4L2264.9,611.3L2261.7,612.9L2258.6,614.8L2255.3,616.5L2252.0,618.4L2248.5,619.8L2244.9,621.2L2241.2,622.6L2237.2,623.4L2233.4,624.7L2229.3,625.6L2225.2,626.8L2221.2,628.3L2217.0,629.3L2213.2,631.7L2209.2,633.7L2205.2,635.8L2200.8,636.9L2196.4,638.1L2191.9,638.9L2187.7,640.7L2183.5,642.5L2179.4,644.4L2175.0,645.6L2170.5,646.4L2166.2,647.6L2161.9,648.8L2157.8,650.4L2153.7,652.0L2149.5,653.2L2145.5,655.1L2141.5,657.0L2137.4,658.5L2133.2,659.7L2129.2,661.4L2124.9,662.3L2120.5,662.7L2116.4,664.1L2112.3,665.6L2108.1,666.8L2104.2,668.7L2099.9,669.7L2095.8,671.2L2091.6,672.1L2087.4,673.3L2083.5,675.3L2079.5,677.0L2075.3,677.9L2071.2,679.3L2067.1,680.8L2062.8,681.2L2058.6,682.4L2054.3,683.0L2050.3,684.6L2046.1,685.7L2042.0,687.1L2038.0,688.5L2033.9,689.9L2029.9,691.4L2025.8,692.7L2021.6,693.5L2017.5,695.0L2013.3,695.6L2009.1,696.8L2004.9,697.4L2000.9,699.0L1996.6,699.6L1992.6,701.1L1988.5,702.1L1984.3,702.7L1980.1,703.5L1976.1,704.9L1972.1,706.6L1968.1,708.1L1963.8,708.3L1959.7,709.2L1955.5,709.8L1951.3,710.3L1947.3,711.8L1943.3,712.8L1939.1,713.5L1934.9,714.1L1930.8,714.9L1926.7,715.5L1922.6,716.6L1918.5,717.3L1914.3,717.9L1910.2,718.8L1906.1,719.6L1902.0,720.5L1897.9,720.9L1893.8,722.0L1889.7,722.7L1885.5,723.2L1881.4,723.7L1877.3,724.7L1873.2,726.0L1869.1,727.1L1864.8,727.5L1860.5,728.4L1856.3,729.3L1851.9,729.4L1847.6,729.7L1843.3,730.6L1839.0,731.2L1834.7,731.3L1830.5,732.0L1826.3,733.0L1822.1,733.9L1818.0,734.7L1813.9,734.8L1809.9,735.8L1805.9,736.1L1802.0,736.4L1798.2,737.4L1794.4,737.7L1790.8,738.2L1787.2,738.5L1783.5,737.9L1780.0,738.5L1776.5,738.7L1773.1,739.2L1769.7,739.7L1766.5,741.0L1763.3,741.6L1760.1,742.2L1757.0,742.8L1753.8,742.9L1750.8,743.9L1747.7,743.8L1744.8,744.3L1741.8,744.2L1738.9,744.4L1736.1,744.9L1733.4,745.3L1730.7,745.8L1728.0,746.1L1725.4,745.9L1722.8,745.7L1720.3,745.4L1717.9,745.7L1715.7,746.6L1713.5,747.7L1711.3,747.6L1709.3,747.9L1707.2,748.0L1705.3,748.1L1703.3,748.1L1701.5,748.5L1699.6,747.9L1697.8,747.8L1696.0,747.5L1694.2,747.9L1692.4,748.1L1690.7,747.9L1688.9,748.2L1687.2,748.8L1685.4,749.4L1683.6,749.2L1681.8,749.5L1680.0,749.4L1678.1,749.2L1676.1,749.1L1674.1,749.4L1672.1,749.3L1670.1,749.2L1668.0,748.9L1665.9,749.1L1663.9,749.1L1661.8,749.1L1659.8,749.1L1657.8,749.3L1655.9,750.0L1654.0,750.3L1652.1,750.0L1650.4,749.8L1648.7,750.0L1647.1,750.2L1645.7,750.4L1644.3,750.3L1643.1,750.4L1642.0,750.3L1641.0,750.7L1641.0,751.7L1642.0,751.7L1643.1,751.5L1644.3,751.8L1645.7,751.7L1647.1,751.7L1648.7,751.5L1650.4,751.6L1652.1,752.1L1654.0,751.9L1655.9,752.1L1657.8,752.0L1659.8,752.8L1661.9,753.1L1663.9,752.5L1666.0,752.6L1668.0,752.3L1670.1,752.3L1672.2,752.4L1674.2,752.0L1676.2,752.1L1678.1,751.6L1680.0,751.3L1681.9,751.5L1683.7,751.2L1685.5,751.3L1687.3,751.6L1689.1,751.8L1690.9,752.6L1692.6,752.5L1694.4,752.0L1696.1,751.6L1698.0,751.8L1699.8,751.1L1701.6,750.6L1703.5,750.7L1705.5,751.1L1707.4,750.6L1709.4,750.2L1711.5,750.2L1713.7,749.7L1716.0,750.2L1718.4,751.0L1720.8,751.2L1723.2,750.5L1725.7,749.6L1728.3,749.1L1731.0,748.8L1733.7,748.9L1736.5,748.7L1739.3,748.0L1742.2,747.7L1745.1,747.3L1748.0,746.5L1751.1,746.4L1754.2,746.1L1757.3,745.7L1760.5,745.9L1763.7,745.1L1767.1,745.2L1770.5,745.7L1773.9,745.9L1777.3,744.6L1780.7,744.2L1784.2,743.4L1787.7,742.6L1791.3,742.0L1794.8,740.7L1798.6,740.9L1802.4,740.1L1806.4,739.9L1810.4,739.5L1814.5,739.2L1818.5,738.7L1822.7,738.1L1827.0,738.3L1831.2,737.9L1835.5,737.2L1839.7,736.4L1844.0,735.8L1848.3,735.0L1852.6,734.4L1857.0,733.9L1861.3,733.3L1865.5,732.5L1869.8,732.0L1874.1,731.3L1878.4,731.5L1882.6,730.9L1886.7,729.7L1890.9,729.3L1895.0,728.5L1899.1,727.9L1903.3,727.1L1907.3,725.9L1911.4,725.0L1915.6,724.2L1919.7,723.7L1923.9,723.1L1928.0,722.1L1932.2,721.5L1936.3,720.4L1940.3,719.1L1944.5,718.6L1948.6,717.7L1952.7,716.5L1957.0,716.3L1961.0,714.8L1965.0,713.2L1969.0,712.0L1973.4,711.8L1977.5,710.9L1981.7,710.2L1985.9,709.3L1990.1,708.3L1994.1,706.8L1998.3,705.8L2002.3,704.5L2006.5,703.6L2010.7,702.3L2014.8,701.1L2018.8,699.5L2022.9,698.2L2027.0,697.1L2031.1,695.7L2035.5,695.3L2039.5,693.7L2043.8,693.2L2047.9,691.9L2052.1,690.8L2056.5,690.4L2060.4,688.4L2064.5,686.9L2068.3,684.5L2072.4,683.4L2076.6,682.1L2080.9,681.3L2085.0,679.9L2089.4,679.4L2093.5,678.1L2097.6,676.8L2101.5,674.7L2105.7,673.3L2110.0,672.5L2114.0,670.8L2118.3,669.8L2122.2,667.8L2126.3,666.4L2130.3,664.7L2134.5,663.4L2138.6,662.0L2142.8,660.6L2147.0,659.6L2151.3,658.6L2155.3,656.9L2159.6,655.8L2163.8,654.4L2168.1,653.4L2172.2,651.3L2176.3,649.4L2180.4,647.3L2184.8,646.3L2189.3,645.5L2193.8,644.6L2197.8,642.1L2202.2,640.9L2206.2,638.8L2210.7,638.2L2215.0,637.0L2219.5,636.5L2223.6,634.9L2227.5,633.2L2231.5,631.5L2235.1,629.4L2238.8,627.6L2242.3,625.3L2245.9,623.8L2249.6,622.6L2253.1,621.1L2256.8,620.1L2260.4,619.4L2264.0,618.5L2267.1,616.6L2270.4,615.4L2273.6,613.9L2276.5,611.9L2279.6,610.6L2282.4,608.4L2285.6,607.5L2288.9,606.6L2292.2,605.9L2295.2,604.6L2298.0,602.9L2300.8,601.2L2303.9,600.2L2306.7,598.5L2309.8,597.3L2312.5,595.6L2315.2,593.7L2317.6,591.5L2320.6,590.0L2323.4,588.1L2326.0,586.0L2328.8,584.1L2331.9,582.7L2334.7,580.7L2337.1,578.4L2339.8,576.3L2342.2,574.0L2345.0,572.3L2347.7,570.6L2350.3,568.7L2353.1,567.3L2355.6,565.6L2358.3,564.3L2360.4,562.3L2362.5,560.6L2364.6,558.9L2366.2,556.9L2367.4,554.7L2368.9,553.0L2370.9,552.0L2372.5,550.7L2373.9,549.4L2375.1,548.1L2376.4,547.0L2377.7,545.9L2378.6,544.6L2379.2,543.2L2380.0,542.0L2380.5,540.7L2381.3,539.7L2382.2,538.8L2382.8,537.7L2382.9,536.5L2383.1,535.3L2383.6,534.4L2383.6,533.2L2383.9,532.2L2384.2,531.3L2384.6,530.4L2385.6,529.7L2385.6,528.6L2385.8,527.7L2386.2,526.8L2386.7,525.9L2387.1,525.1L2386.9,524.1L2387.3,523.3L2387.4,522.5L2387.2,521.7L2387.3,520.9L2387.6,520.1L2387.4,519.4L2387.1,518.7L2386.9,518.0L2387.0,517.2L2387.3,516.5L2387.8,515.8L2388.0,515.0L2387.6,514.4L2387.7,513.7L2387.9,512.9L2387.5,512.3L2387.0,511.7L2386.3,511.0L2386.4,510.2L2385.8,509.5L2385.4,508.8L2385.1,508.0L2385.1,507.1L2384.9,506.3L2384.6,505.5L2384.3,504.7L2384.7,503.7L2383.9,503.2L2383.3,502.6L2383.1,501.8L2382.5,501.2L2382.9,500.3L2382.4,499.8L2382.4,499.1L2381.8,498.7L2381.6,498.2L2381.4,497.7L2380.8,497.5L2380.4,497.4Z" fill="#000"/>
<path d="M2336.8,332.3 L2302.7,310.9 L2309.5,329.8 L2299.7,350.8 Z" fill="#000"/>
<path d="M1609.2,751.2 L1642.5,729.2 L1638.3,750.2 L1646.3,768.0 Z" fill="#000"/>
<path d="M1744.5,979.4L1744.8,979.0L1745.3,978.4L1745.1,977.8L1744.9,977.1L1745.5,976.3L1745.2,975.6L1745.3,974.8L1744.6,974.1L1744.8,973.2L1744.4,972.3L1744.0,971.4L1744.1,970.5L1744.1,969.5L1744.3,968.6L1744.0,967.7L1743.7,966.7L1743.8,965.8L1743.6,964.9L1744.0,964.0L1743.5,963.2L1744.1,962.4L1744.0,961.6L1744.4,960.9L1744.5,960.1L1745.1,959.4L1745.1,958.6L1745.0,957.9L1744.6,957.0L1744.8,956.3L1744.1,955.4L1744.7,954.7L1744.9,954.0L1745.0,953.2L1745.5,952.6L1745.6,951.8L1745.8,951.1L1746.2,950.4L1747.2,949.9L1747.6,949.2L1748.1,948.6L1748.2,947.8L1748.4,947.0L1748.1,946.0L1748.7,945.4L1748.6,944.4L1749.6,943.9L1750.4,943.4L1751.2,942.9L1751.6,942.1L1752.3,941.6L1752.9,940.9L1753.2,940.0L1753.3,939.0L1753.7,938.1L1754.2,937.3L1755.2,936.9L1755.5,935.9L1755.8,934.9L1756.2,933.9L1756.9,933.2L1757.6,932.5L1758.1,931.5L1758.5,930.5L1759.8,930.3L1760.7,929.7L1761.5,929.0L1762.1,928.1L1762.6,927.0L1763.4,926.2L1764.1,925.3L1765.3,924.9L1765.7,923.7L1767.0,923.4L1767.8,922.6L1768.5,921.6L1769.2,920.6L1770.3,920.0L1771.3,919.3L1772.2,918.4L1773.5,918.1L1774.7,917.6L1775.7,916.9L1776.7,916.1L1777.7,915.2L1778.8,914.5L1780.3,914.5L1781.5,913.8L1782.6,913.1L1783.6,912.1L1784.6,911.0L1786.0,910.7L1787.3,910.1L1788.4,909.1L1789.8,908.6L1791.0,907.6L1792.4,907.1L1793.9,906.6L1795.2,905.9L1796.7,905.4L1798.0,904.5L1799.3,903.4L1800.9,903.1L1802.2,902.0L1803.5,901.1L1805.1,900.7L1806.7,900.1L1808.6,900.4L1810.3,900.3L1812.0,899.9L1813.5,899.2L1814.9,898.3L1816.4,897.4L1818.1,896.9L1819.8,896.4L1821.5,895.7L1823.2,895.0L1824.7,893.8L1826.4,892.9L1828.1,892.2L1829.8,891.4L1831.5,890.4L1833.4,890.1L1835.0,889.1L1837.0,889.0L1838.7,888.2L1840.5,887.7L1842.2,887.0L1844.0,886.6L1845.5,885.5L1847.4,885.6L1849.3,885.7L1851.0,885.5L1852.5,885.0L1853.7,883.7L1854.8,882.9L1856.3,883.3L1857.5,883.1L1858.7,882.9L1859.7,882.6L1860.5,881.7L1861.3,880.6L1862.6,881.1L1863.7,881.0L1864.9,880.9L1866.1,880.5L1867.3,880.0L1868.7,879.6L1870.0,878.4L1871.5,877.4L1873.0,876.0L1875.2,875.8L1877.4,875.3L1879.9,874.7L1882.7,874.5L1885.8,874.3L1889.0,873.6L1892.3,872.1L1895.8,871.1L1899.3,869.2L1903.3,868.5L1907.6,868.2L1911.9,867.4L1915.9,865.4L1920.0,863.4L1924.4,862.0L1928.9,860.7L1933.3,858.9L1937.8,857.4L1942.5,856.3L1947.1,855.4L1951.9,854.9L1956.4,853.8L1960.8,852.5L1965.4,851.9L1969.5,850.5L1973.5,848.4L1977.6,847.3L1981.7,846.1L1985.8,845.1L1989.9,844.0L1994.1,843.3L1998.2,842.1L2002.5,841.7L2006.6,840.9L2010.9,840.7L2015.2,840.6L2019.3,839.4L2023.4,838.2L2027.4,837.1L2031.5,836.0L2035.5,834.2L2039.5,833.2L2043.7,832.5L2047.8,831.9L2052.0,831.0L2056.1,830.3L2060.2,829.4L2064.2,828.4L2068.3,827.4L2072.5,827.2L2076.6,826.2L2080.8,826.4L2085.0,826.2L2089.2,826.1L2093.2,825.3L2097.2,824.0L2101.3,823.1L2105.4,822.6L2109.5,822.1L2113.6,821.7L2117.7,821.3L2121.8,820.7L2125.9,820.3L2130.0,820.0L2134.1,819.5L2138.2,818.8L2142.3,818.8L2146.4,818.5L2150.5,818.7L2154.6,818.1L2158.7,817.8L2163.0,817.5L2167.3,817.4L2171.7,817.6L2176.1,818.1L2180.5,817.5L2185.0,817.3L2189.5,816.9L2194.0,817.2L2198.4,817.7L2202.8,818.2L2207.2,818.4L2211.5,817.9L2215.7,818.2L2219.9,818.8L2223.9,818.7L2227.9,819.1L2231.6,820.0L2235.3,820.5L2238.8,821.2L2242.1,821.0L2245.3,821.3L2248.3,821.3L2251.2,821.2L2253.9,821.1L2256.5,821.2L2258.9,822.0L2261.3,822.5L2263.5,822.8L2265.7,823.1L2267.9,822.7L2269.9,822.8L2271.8,823.1L2273.6,823.7L2275.4,823.7L2277.0,824.8L2278.8,824.8L2280.3,825.6L2281.9,825.9L2283.5,826.0L2285.1,825.9L2286.7,826.2L2288.3,826.0L2289.9,825.9L2291.2,826.9L2292.6,827.2L2293.9,828.4L2295.3,828.1L2296.7,827.7L2298.0,827.7L2299.2,827.8L2300.4,827.8L2301.5,828.3L2302.5,828.5L2303.5,828.7L2304.5,829.1L2305.4,829.3L2306.3,829.4L2307.2,829.3L2308.0,829.1L2308.8,829.1L2309.4,829.6L2310.2,829.3L2310.8,829.4L2311.4,829.4L2311.9,829.6L2312.1,828.5L2311.5,828.6L2311.1,827.9L2310.4,828.1L2309.8,827.5L2309.1,827.6L2308.4,827.1L2307.6,827.3L2306.8,826.8L2306.0,826.3L2305.0,826.1L2304.1,825.6L2303.0,826.0L2302.0,825.6L2300.8,825.7L2299.7,825.2L2298.4,825.4L2297.2,824.8L2296.0,824.1L2294.8,823.1L2293.2,823.7L2291.8,823.5L2290.2,824.1L2288.7,823.4L2287.3,822.8L2285.8,822.2L2284.3,822.1L2282.7,821.6L2281.2,820.9L2279.5,821.1L2277.8,820.5L2276.1,820.4L2274.1,820.7L2272.3,820.2L2270.4,820.0L2268.4,819.4L2266.4,818.4L2264.3,817.4L2261.9,817.9L2259.5,817.5L2256.9,817.9L2254.3,817.4L2251.6,816.9L2248.7,816.0L2245.7,816.0L2242.5,815.7L2239.2,815.0L2235.6,815.5L2231.9,815.3L2228.1,815.9L2224.1,815.3L2220.0,815.6L2215.9,815.3L2211.7,814.6L2207.3,814.3L2202.9,814.6L2198.5,814.0L2194.0,814.1L2189.5,814.7L2185.0,814.3L2180.6,813.4L2176.1,813.1L2171.6,813.6L2167.2,813.8L2162.9,814.3L2158.6,814.3L2154.4,813.7L2150.2,813.5L2146.1,813.8L2142.0,814.6L2137.9,815.8L2133.7,815.6L2129.6,815.8L2125.5,816.1L2121.3,816.2L2117.2,817.1L2113.1,817.5L2109.0,818.1L2104.9,818.7L2100.9,820.0L2096.6,819.6L2092.4,819.8L2088.3,820.1L2084.2,821.1L2080.2,822.5L2076.1,823.2L2072.0,824.1L2067.9,825.0L2063.8,825.5L2059.7,826.4L2055.5,826.9L2051.3,827.3L2047.1,828.0L2043.1,829.2L2038.9,829.8L2034.6,830.1L2030.4,830.5L2026.2,831.1L2022.0,831.8L2017.7,832.2L2013.6,833.0L2009.6,835.0L2005.6,836.4L2001.5,837.7L1997.4,838.8L1993.3,839.6L1989.3,841.3L1985.0,841.9L1980.9,842.8L1976.6,843.5L1972.4,844.0L1968.2,845.2L1963.6,845.3L1959.4,847.1L1955.0,848.4L1950.4,849.5L1946.1,851.5L1941.6,853.1L1937.0,854.4L1932.3,855.4L1927.9,856.9L1923.1,857.4L1918.7,858.7L1914.1,859.1L1909.8,860.2L1905.7,861.6L1901.8,863.5L1898.0,864.7L1894.2,865.8L1890.4,865.8L1887.0,866.5L1884.1,868.4L1881.3,869.5L1878.9,871.3L1876.4,871.8L1874.2,872.7L1872.2,873.3L1870.3,873.6L1868.4,873.3L1866.6,873.1L1865.2,873.7L1863.8,873.8L1862.5,873.9L1861.6,874.9L1860.8,876.0L1859.9,876.9L1858.8,877.0L1857.7,876.9L1856.4,876.6L1855.5,877.5L1854.4,877.9L1853.5,879.0L1852.1,879.1L1850.5,879.0L1849.0,879.5L1847.7,880.8L1846.1,881.6L1844.5,882.5L1842.8,883.1L1841.2,883.8L1839.3,884.0L1837.6,884.8L1835.8,885.2L1833.9,885.6L1832.1,886.1L1830.4,887.0L1828.5,887.4L1826.6,887.7L1824.6,887.9L1822.8,888.3L1821.1,889.1L1819.2,889.3L1817.4,889.7L1815.6,890.2L1814.0,891.0L1812.1,891.1L1810.7,892.2L1809.1,892.9L1807.5,893.6L1806.0,894.3L1804.8,895.8L1803.6,897.1L1801.8,897.3L1800.3,897.9L1798.7,898.4L1797.2,898.9L1795.7,899.6L1794.1,900.0L1793.0,901.2L1791.5,901.9L1790.1,902.5L1788.7,903.3L1787.2,903.7L1786.0,904.6L1784.6,905.2L1783.6,906.4L1782.1,906.8L1780.7,907.3L1779.5,908.0L1778.2,908.6L1777.2,909.8L1776.2,910.7L1775.4,911.9L1774.3,912.6L1772.9,913.0L1771.9,913.9L1771.1,915.1L1770.5,916.3L1769.6,917.2L1768.6,918.0L1767.6,918.7L1766.3,919.0L1765.5,920.0L1764.9,921.1L1764.0,921.9L1763.0,922.5L1762.0,923.2L1761.4,924.2L1760.5,924.8L1759.5,925.5L1758.6,926.1L1757.6,926.7L1757.2,927.8L1756.8,928.9L1756.1,929.8L1755.4,930.5L1754.3,931.0L1753.7,931.8L1752.7,932.3L1751.7,932.8L1751.1,933.7L1750.8,934.7L1749.9,935.3L1749.4,936.2L1748.2,936.5L1747.6,937.3L1747.2,938.2L1746.5,938.9L1745.9,939.7L1745.9,940.8L1746.2,942.0L1746.4,943.2L1745.3,943.7L1744.8,944.4L1744.0,945.0L1743.8,945.9L1743.2,946.6L1742.7,947.4L1742.8,948.3L1743.1,949.3L1743.1,950.2L1742.9,951.0L1742.4,951.7L1742.4,952.6L1742.0,953.3L1742.1,954.2L1742.1,955.0L1741.4,955.7L1740.9,956.4L1741.0,957.3L1740.6,958.1L1740.6,958.9L1740.5,959.7L1741.0,960.6L1740.9,961.4L1741.1,962.2L1741.1,963.1L1741.3,964.1L1741.5,965.0L1740.9,966.0L1741.2,966.9L1740.8,967.9L1741.2,968.9L1741.0,969.9L1741.3,970.8L1741.3,971.8L1742.0,972.6L1741.8,973.6L1741.5,974.5L1741.4,975.3L1741.9,976.1L1741.8,976.9L1742.6,977.5L1742.4,978.1L1742.8,978.7L1743.0,979.2L1743.2,979.6Z" fill="#000"/>
<path d="M2378.4,996.6L2378.5,997.0L2378.6,997.5L2378.6,998.1L2378.5,998.7L2379.0,999.1L2378.8,999.9L2379.5,1000.4L2380.0,1000.9L2380.8,1001.3L2380.5,1002.3L2380.7,1003.0L2381.0,1003.8L2381.3,1004.5L2382.2,1005.0L2382.5,1005.7L2382.5,1006.6L2383.1,1007.2L2383.2,1007.9L2383.0,1008.8L2383.3,1009.4L2383.6,1010.0L2383.5,1010.8L2383.3,1011.5L2382.5,1012.3L2383.1,1012.9L2382.8,1013.6L2383.0,1014.2L2383.2,1014.8L2383.7,1015.4L2384.2,1016.0L2384.1,1016.6L2384.1,1017.3L2384.2,1017.9L2384.5,1018.6L2384.3,1019.2L2384.4,1019.9L2384.1,1020.5L2384.0,1021.2L2384.0,1022.0L2383.6,1022.7L2383.1,1023.3L2383.4,1024.3L2382.6,1024.9L2382.3,1025.8L2382.3,1026.9L2381.5,1027.6L2381.4,1028.7L2381.3,1029.7L2380.7,1030.5L2380.1,1031.3L2379.5,1032.2L2378.6,1032.9L2377.9,1033.7L2377.3,1034.7L2376.9,1035.7L2376.9,1037.0L2376.1,1038.0L2375.5,1039.1L2374.1,1039.7L2373.5,1041.0L2372.7,1042.3L2371.6,1043.5L2370.4,1044.6L2369.5,1046.3L2368.2,1047.7L2367.0,1049.4L2365.1,1050.5L2363.0,1051.7L2360.6,1052.7L2358.7,1054.4L2356.8,1056.4L2354.4,1057.8L2352.5,1060.1L2350.3,1062.1L2348.0,1064.2L2345.8,1066.5L2343.0,1068.1L2340.7,1070.4L2337.9,1072.2L2334.7,1073.3L2331.9,1075.1L2329.3,1077.2L2326.3,1078.8L2323.7,1080.9L2320.7,1082.3L2318.0,1084.2L2315.2,1085.8L2312.3,1087.3L2309.4,1088.5L2306.3,1089.5L2303.6,1091.3L2300.8,1092.8L2298.2,1094.6L2295.5,1096.3L2292.5,1097.6L2289.5,1098.9L2286.6,1100.4L2284.0,1102.5L2281.4,1104.8L2277.9,1105.2L2274.8,1106.5L2271.5,1107.6L2268.3,1108.9L2264.9,1109.8L2261.7,1111.4L2258.6,1113.3L2255.3,1115.0L2252.0,1116.9L2248.5,1118.3L2244.9,1119.7L2241.2,1121.1L2237.2,1121.9L2233.4,1123.2L2229.3,1124.1L2225.2,1125.3L2221.2,1126.8L2217.0,1127.8L2213.2,1130.2L2209.2,1132.2L2205.2,1134.3L2200.8,1135.4L2196.4,1136.6L2191.9,1137.4L2187.7,1139.2L2183.5,1141.0L2179.4,1142.9L2175.0,1144.1L2170.5,1144.9L2166.2,1146.1L2161.9,1147.3L2157.8,1148.9L2153.7,1150.5L2149.5,1151.7L2145.5,1153.6L2141.5,1155.5L2137.4,1157.0L2133.2,1158.2L2129.2,1159.9L2124.9,1160.8L2120.5,1161.2L2116.4,1162.6L2112.3,1164.1L2108.1,1165.3L2104.2,1167.2L2099.9,1168.2L2095.8,1169.7L2091.6,1170.6L2087.4,1171.8L2083.5,1173.8L2079.5,1175.5L2075.3,1176.4L2071.2,1177.8L2067.1,1179.3L2062.8,1179.7L2058.6,1180.9L2054.3,1181.5L2050.3,1183.1L2046.1,1184.2L2042.0,1185.6L2038.0,1187.0L2033.9,1188.4L2029.9,1189.9L2025.8,1191.2L2021.6,1192.0L2017.5,1193.5L2013.3,1194.1L2009.1,1195.3L2004.9,1195.9L2000.9,1197.5L1996.6,1198.1L1992.6,1199.6L1988.5,1200.6L1984.3,1201.2L1980.1,1202.0L1976.1,1203.4L1972.1,1205.1L1968.1,1206.6L1963.8,1206.8L1959.7,1207.7L1955.5,1208.3L1951.3,1208.8L1947.3,1210.3L1943.3,1211.3L1939.1,1212.0L1934.9,1212.6L1930.8,1213.4L1926.7,1214.0L1922.6,1215.1L1918.5,1215.8L1914.3,1216.4L1910.2,1217.3L1906.1,1218.1L1902.0,1219.0L1897.9,1219.4L1893.8,1220.5L1889.7,1221.2L1885.5,1221.7L1881.4,1222.2L1877.3,1223.2L1873.2,1224.5L1869.1,1225.6L1864.8,1226.0L1860.5,1226.9L1856.3,1227.8L1851.9,1227.9L1847.6,1228.2L1843.3,1229.1L1839.0,1229.7L1834.7,1229.8L1830.5,1230.5L1826.3,1231.5L1822.1,1232.4L1818.0,1233.2L1813.9,1233.3L1809.9,1234.3L1805.9,1234.6L1802.0,1234.9L1798.2,1235.9L1794.4,1236.2L1790.8,1236.7L1787.2,1237.0L1783.5,1236.4L1780.0,1237.0L1776.5,1237.2L1773.1,1237.7L1769.7,1238.2L1766.5,1239.5L1763.3,1240.1L1760.1,1240.7L1757.0,1241.3L1753.8,1241.4L1750.8,1242.4L1747.7,1242.3L1744.8,1242.8L1741.8,1242.7L1738.9,1242.9L1736.1,1243.4L1733.4,1243.8L1730.7,1244.3L1728.0,1244.6L1725.4,1244.4L1722.8,1244.2L1720.3,1243.9L1717.9,1244.2L1715.7,1245.1L1713.5,1246.2L1711.3,1246.1L1709.3,1246.4L1707.2,1246.5L1705.3,1246.6L1703.3,1246.6L1701.5,1247.0L1699.6,1246.4L1697.8,1246.3L1696.0,1246.0L1694.2,1246.4L1692.4,1246.6L1690.7,1246.4L1688.9,1246.7L1687.2,1247.3L1685.4,1247.9L1683.6,1247.7L1681.8,1248.0L1680.0,1247.9L1678.1,1247.7L1676.1,1247.6L1674.1,1247.9L1672.1,1247.8L1670.1,1247.7L1668.0,1247.4L1665.9,1247.6L1663.9,1247.6L1661.8,1247.6L1659.8,1247.6L1657.8,1247.8L1655.9,1248.5L1654.0,1248.8L1652.1,1248.5L1650.4,1248.3L1648.7,1248.5L1647.1,1248.7L1645.7,1248.9L1644.3,1248.8L1643.1,1248.9L1642.0,1248.8L1641.0,1249.2L1641.0,1250.2L1642.0,1250.2L1643.1,1250.0L1644.3,1250.3L1645.7,1250.2L1647.1,1250.2L1648.7,1250.0L1650.4,1250.1L1652.1,1250.6L1654.0,1250.4L1655.9,1250.6L1657.8,1250.5L1659.8,1251.3L1661.9,1251.6L1663.9,1251.0L1666.0,1251.1L1668.0,1250.8L1670.1,1250.8L1672.2,1250.9L1674.2,1250.5L1676.2,1250.6L1678.1,1250.1L1680.0,1249.8L1681.9,1250.0L1683.7,1249.7L1685.5,1249.8L1687.3,1250.1L1689.1,1250.3L1690.9,1251.1L1692.6,1251.0L1694.4,1250.5L1696.1,1250.1L1698.0,1250.3L1699.8,1249.6L1701.6,1249.1L1703.5,1249.2L1705.5,1249.6L1707.4,1249.1L1709.4,1248.7L1711.5,1248.7L1713.7,1248.2L1716.0,1248.7L1718.4,1249.5L1720.8,1249.7L1723.2,1249.0L1725.7,1248.1L1728.3,1247.6L1731.0,1247.3L1733.7,1247.4L1736.5,1247.2L1739.3,1246.5L1742.2,1246.2L1745.1,1245.8L1748.0,1245.0L1751.1,1244.9L1754.2,1244.6L1757.3,1244.2L1760.5,1244.4L1763.7,1243.6L1767.1,1243.7L1770.5,1244.2L1773.9,1244.4L1777.3,1243.1L1780.7,1242.7L1784.2,1241.9L1787.7,1241.1L1791.3,1240.5L1794.8,1239.2L1798.6,1239.4L1802.4,1238.6L1806.4,1238.4L1810.4,1238.0L1814.5,1237.7L1818.5,1237.2L1822.7,1236.6L1827.0,1236.8L1831.2,1236.4L1835.5,1235.7L1839.7,1234.9L1844.0,1234.3L1848.3,1233.5L1852.6,1232.9L1857.0,1232.4L1861.3,1231.8L1865.5,1231.0L1869.8,1230.5L1874.1,1229.8L1878.4,1230.0L1882.6,1229.4L1886.7,1228.2L1890.9,1227.8L1895.0,1227.0L1899.1,1226.4L1903.3,1225.6L1907.3,1224.4L1911.4,1223.5L1915.6,1222.7L1919.7,1222.2L1923.9,1221.6L1928.0,1220.6L1932.2,1220.0L1936.3,1218.9L1940.3,1217.6L1944.5,1217.1L1948.6,1216.2L1952.7,1215.0L1957.0,1214.8L1961.0,1213.3L1965.0,1211.7L1969.0,1210.5L1973.4,1210.3L1977.5,1209.4L1981.7,1208.7L1985.9,1207.8L1990.1,1206.8L1994.1,1205.3L1998.3,1204.3L2002.3,1203.0L2006.5,1202.1L2010.7,1200.8L2014.8,1199.6L2018.8,1198.0L2022.9,1196.7L2027.0,1195.6L2031.1,1194.2L2035.5,1193.8L2039.5,1192.2L2043.8,1191.7L2047.9,1190.4L2052.1,1189.3L2056.5,1188.9L2060.4,1186.9L2064.5,1185.4L2068.3,1183.0L2072.4,1181.9L2076.6,1180.6L2080.9,1179.8L2085.0,1178.4L2089.4,1177.9L2093.5,1176.6L2097.6,1175.3L2101.5,1173.2L2105.7,1171.8L2110.0,1171.0L2114.0,1169.3L2118.3,1168.3L2122.2,1166.3L2126.3,1164.9L2130.3,1163.2L2134.5,1161.9L2138.6,1160.5L2142.8,1159.1L2147.0,1158.1L2151.3,1157.1L2155.3,1155.4L2159.6,1154.3L2163.8,1152.9L2168.1,1151.9L2172.2,1149.8L2176.3,1147.9L2180.4,1145.8L2184.8,1144.8L2189.3,1144.0L2193.8,1143.1L2197.8,1140.6L2202.2,1139.4L2206.2,1137.3L2210.7,1136.7L2215.0,1135.5L2219.5,1135.0L2223.6,1133.4L2227.5,1131.7L2231.5,1130.0L2235.1,1127.9L2238.8,1126.1L2242.3,1123.8L2245.9,1122.3L2249.6,1121.1L2253.1,1119.6L2256.8,1118.6L2260.4,1117.9L2264.0,1117.0L2267.1,1115.1L2270.4,1113.9L2273.6,1112.4L2276.5,1110.4L2279.6,1109.1L2282.4,1106.9L2285.6,1106.0L2288.9,1105.1L2292.2,1104.4L2295.2,1103.1L2298.0,1101.4L2300.8,1099.7L2303.9,1098.7L2306.7,1097.0L2309.8,1095.8L2312.5,1094.1L2315.2,1092.2L2317.6,1090.0L2320.6,1088.5L2323.4,1086.6L2326.0,1084.5L2328.8,1082.6L2331.9,1081.2L2334.7,1079.2L2337.1,1076.9L2339.8,1074.8L2342.2,1072.5L2345.0,1070.8L2347.7,1069.1L2350.3,1067.2L2353.1,1065.8L2355.6,1064.1L2358.3,1062.8L2360.4,1060.8L2362.5,1059.1L2364.6,1057.4L2366.2,1055.4L2367.4,1053.2L2368.9,1051.5L2370.9,1050.5L2372.5,1049.2L2373.9,1047.9L2375.1,1046.6L2376.4,1045.5L2377.7,1044.4L2378.6,1043.1L2379.2,1041.7L2380.0,1040.5L2380.5,1039.2L2381.3,1038.2L2382.2,1037.3L2382.8,1036.2L2382.9,1035.0L2383.1,1033.8L2383.6,1032.9L2383.6,1031.7L2383.9,1030.7L2384.2,1029.8L2384.6,1028.9L2385.6,1028.2L2385.6,1027.1L2385.8,1026.2L2386.2,1025.3L2386.7,1024.4L2387.1,1023.6L2386.9,1022.6L2387.3,1021.8L2387.4,1021.0L2387.2,1020.2L2387.3,1019.4L2387.6,1018.6L2387.4,1017.9L2387.1,1017.2L2386.9,1016.5L2387.0,1015.7L2387.3,1015.0L2387.8,1014.3L2388.0,1013.5L2387.6,1012.9L2387.7,1012.2L2387.9,1011.4L2387.5,1010.8L2387.0,1010.2L2386.3,1009.5L2386.4,1008.7L2385.8,1008.0L2385.4,1007.3L2385.1,1006.5L2385.1,1005.6L2384.9,1004.8L2384.6,1004.0L2384.3,1003.2L2384.7,1002.2L2383.9,1001.7L2383.3,1001.1L2383.1,1000.3L2382.5,999.7L2382.9,998.8L2382.4,998.3L2382.4,997.6L2381.8,997.2L2381.6,996.7L2381.4,996.2L2380.8,996.0L2380.4,995.9Z" fill="#000"/>
<path d="M2336.8,830.8 L2302.7,809.4 L2309.5,828.3 L2299.7,849.3 Z" fill="#000"/>
<path d="M1609.2,1249.7 L1642.5,1227.7 L1638.3,1248.7 L1646.3,1266.5 Z" fill="#000"/>
<text transform="translate(700.9,323.8) scale(0.838,1)" textLength="316.1" lengthAdjust="spacing" fill="#000" stroke="#000"><tspan font-size="68.4" stroke-width="1.40">P</tspan><tspan font-size="46.2" stroke-width="2.40">ROVIDERS</tspan></text>
<text transform="translate(987.7,323.8) scale(0.783,1)" textLength="44.2" lengthAdjust="spacing" fill="#000" stroke="#000"><tspan font-size="68.4" stroke-width="1.40">&amp;</tspan></text>
<text transform="translate(1041.6,323.8) scale(0.860,1)" textLength="435.5" lengthAdjust="spacing" fill="#000" stroke="#000"><tspan font-size="68.4" stroke-width="1.40">C</tspan><tspan font-size="46.2" stroke-width="2.40">ON</tspan><tspan font-size="68.4" stroke-width="1.40">f</tspan><tspan font-size="46.2" stroke-width="2.40">IGURATION</tspan></text>
<text transform="translate(422.9,834.3) scale(0.842,1)" textLength="395.2" lengthAdjust="spacing" fill="#9b9ca0" stroke="#9b9ca0"><tspan font-size="68.4" stroke-width="1.40">E</tspan><tspan font-size="46.2" stroke-width="2.40">NTRY</tspan><tspan font-size="68.4" stroke-width="1.40">P</tspan><tspan font-size="46.2" stroke-width="2.40">OINTS</tspan></text>
<text transform="translate(441.1,1062.1) scale(0.833,1)" textLength="281.8" lengthAdjust="spacing" fill="#000" stroke="#000"><tspan font-size="68.4" stroke-width="1.40">P</tspan><tspan font-size="46.2" stroke-width="2.40">ROVIDER</tspan></text>
<text transform="translate(442.8,1152.3) scale(0.867,1)" textLength="360.2" lengthAdjust="spacing" fill="#000" stroke="#000"><tspan font-size="68.4" stroke-width="1.40">C</tspan><tspan font-size="46.2" stroke-width="2.40">ONNECTION</tspan></text>
<text transform="translate(442.8,1242.3) scale(0.876,1)" textLength="363.1" lengthAdjust="spacing" fill="#000" stroke="#000"><tspan font-size="68.4" stroke-width="1.40">I</tspan><tspan font-size="46.2" stroke-width="2.40">NFORMATION</tspan></text>
<text transform="translate(423.0,1556.8) scale(0.804,1)" textLength="157.7" lengthAdjust="spacing" fill="#000" stroke="#000"><tspan font-size="68.4" stroke-width="1.40">U</tspan><tspan font-size="46.2" stroke-width="2.40">SER</tspan></text>
<text transform="translate(569.3,1556.8) scale(0.814,1)" textLength="230.1" lengthAdjust="spacing" fill="#000" stroke="#000"><tspan font-size="68.4" stroke-width="1.40">D</tspan><tspan font-size="46.2" stroke-width="2.40">E</tspan><tspan font-size="68.4" stroke-width="1.40">f</tspan><tspan font-size="46.2" stroke-width="2.40">INED</tspan></text>
<text transform="translate(1100.4,1556.8) scale(0.797,1)" textLength="163.2" lengthAdjust="spacing" fill="#000" stroke="#000"><tspan font-size="68.4" stroke-width="1.40">F</tspan><tspan font-size="46.2" stroke-width="2.40">ROM</tspan></text>
<text transform="translate(1248.9,1556.8) scale(0.838,1)" textLength="316.1" lengthAdjust="spacing" fill="#000" stroke="#000"><tspan font-size="68.4" stroke-width="1.40">P</tspan><tspan font-size="46.2" stroke-width="2.40">ROVIDERS</tspan></text>
<text transform="translate(1179.9,651.3) scale(0.836,1)" textLength="266.0" lengthAdjust="spacing" fill="#000" stroke="#000"><tspan font-size="68.4" stroke-width="1.40">R</tspan><tspan font-size="46.2" stroke-width="2.40">OUTERS</tspan></text>
<text transform="translate(1173.0,930.3) scale(0.838,1)" textLength="273.6" lengthAdjust="spacing" fill="#000" stroke="#000"><tspan font-size="68.4" stroke-width="1.40">S</tspan><tspan font-size="46.2" stroke-width="2.40">ERVICES</tspan></text>
<text transform="translate(1121.9,1174.3) scale(0.827,1)" textLength="400.0" lengthAdjust="spacing" fill="#000" stroke="#000"><tspan font-size="68.4" stroke-width="1.40">M</tspan><tspan font-size="46.2" stroke-width="2.40">IDDLEWARES</tspan></text>
<text transform="translate(1099.6,1360.3) scale(0.875,1)" textLength="375.8" lengthAdjust="spacing" fill="#000" stroke="#000"><tspan font-size="68.4" stroke-width="1.40">C</tspan><tspan font-size="46.2" stroke-width="2.40">ERTI</tspan><tspan font-size="68.4" stroke-width="1.40">f</tspan><tspan font-size="46.2" stroke-width="2.40">ICATES</tspan></text>
<text transform="translate(1098.9,1430.5) scale(0.858,1)" textLength="169.8" lengthAdjust="spacing" fill="#000" stroke="#000"><tspan font-size="53.0" stroke-width="1.10">S</tspan><tspan font-size="34.6" stroke-width="1.90">TORES</tspan></text>
<text transform="translate(1261.0,1430.5) scale(0.796,1)" textLength="34.3" lengthAdjust="spacing" fill="#000" stroke="#000"><tspan font-size="53.0" stroke-width="1.10">&amp;</tspan></text>
<text transform="translate(1304.3,1430.5) scale(0.862,1)" textLength="187.0" lengthAdjust="spacing" fill="#000" stroke="#000"><tspan font-size="53.0" stroke-width="1.10">O</tspan><tspan font-size="34.6" stroke-width="1.90">PTIONS</tspan></text>
<text transform="translate(1898.9,419.3) scale(0.724,1)" textLength="120.4" lengthAdjust="spacing" fill="#000" stroke="#000"><tspan font-size="68.4" stroke-width="1.40">API</tspan></text>
<text transform="translate(2005.9,419.3) scale(0.744,1)" textLength="143.8" lengthAdjust="spacing" fill="#000" stroke="#000"><tspan font-size="68.4" stroke-width="1.40">C</tspan><tspan font-size="46.2" stroke-width="2.40">ALL</tspan></text>
<text transform="translate(2412.3,389.3) scale(0.688,1)" textLength="281.8" lengthAdjust="spacing" fill="#000" stroke="#000"><tspan font-size="68.4" stroke-width="1.40">P</tspan><tspan font-size="46.2" stroke-width="2.40">ROVIDER</tspan></text>
<text transform="translate(2622.0,389.3) scale(0.665,1)" textLength="36.6" lengthAdjust="spacing" fill="#000" stroke="#000"><tspan font-size="68.4" stroke-width="1.40">1</tspan></text>
<text transform="translate(2390.3,903.0) scale(0.685,1)" textLength="281.8" lengthAdjust="spacing" fill="#000" stroke="#000"><tspan font-size="68.4" stroke-width="1.40">P</tspan><tspan font-size="46.2" stroke-width="2.40">ROVIDER</tspan></text>
<text transform="translate(2601.7,903.0) scale(0.834,1)" textLength="36.6" lengthAdjust="spacing" fill="#000" stroke="#000"><tspan font-size="68.4" stroke-width="1.40">2</tspan></text>
<g><path d="M92,1627 L72.5,1640.5" stroke="#f8d3a0" stroke-width="19" stroke-linecap="round" fill="none"/><path d="M225,1625 L238.5,1638" stroke="#f8d3a0" stroke-width="19" stroke-linecap="round" fill="none"/><path d="M6.8,1407.5 L36,1473" stroke="#cde063" stroke-width="10.5" stroke-linecap="round" fill="none"/><path d="M311.5,1408 L278.5,1472" stroke="#cde063" stroke-width="10.5" stroke-linecap="round" fill="none"/><ellipse cx="41" cy="1497" rx="6" ry="7" fill="#f8d3a0"/><ellipse cx="50" cy="1490.5" rx="8.5" ry="8" fill="#f8d3a0"/><ellipse cx="272" cy="1495" rx="6" ry="7" fill="#f8d3a0"/><ellipse cx="264.5" cy="1490" rx="8.5" ry="8" fill="#f8d3a0"/><path d="M156,1319 C218,1319 257,1362 257,1432 L257,1572 C251,1620 214,1645 156,1645 C98,1645 63,1620 56,1572 L54.5,1432 C54.5,1362 94,1319 156,1319 Z" fill="#2aa9c9"/><clipPath id="vl"><path d="M54.6,1426.7 L151,1454.3 C153,1470 154.5,1500 154.5,1521 C154.5,1545 153,1555 150.3,1560.6 C148,1570 146,1575 141.8,1577.6 C128,1583 112,1584.5 99.3,1584 C82,1583 66,1578 56.7,1572 L45.4,1560.6 C46,1545 48,1525 50.3,1511 C56,1506 61.7,1503 61.7,1490 C61.7,1482 59,1478 51,1471 C50,1460 49.5,1445 48.9,1429.5 Z"/></clipPath><clipPath id="vr"><path d="M262.3,1430.2 L256.6,1427 L164.5,1454.3 C162.5,1470 161,1500 161,1521 C161,1545 162.5,1555 165.2,1560.6 C167.5,1570 169.5,1575 173.7,1577.6 C187.5,1583 203.5,1584.5 216.2,1584 C233.5,1583 249.5,1578 258.8,1572 L272,1560.6 C271.4,1545 268,1525 265.8,1511 C260,1506 254.5,1503 254.5,1490 C254.5,1482 257,1478 264.5,1471 C264,1460 263,1445 262.3,1430.2 Z"/></clipPath><path d="M54.6,1426.7 L151,1454.3 C153,1470 154.5,1500 154.5,1521 C154.5,1545 153,1555 150.3,1560.6 C148,1570 146,1575 141.8,1577.6 C128,1583 112,1584.5 99.3,1584 C82,1583 66,1578 56.7,1572 L45.4,1560.6 C46,1545 48,1525 50.3,1511 C56,1506 61.7,1503 61.7,1490 C61.7,1482 59,1478 51,1471 C50,1460 49.5,1445 48.9,1429.5 Z" fill="#ef9325"/><path d="M262.3,1430.2 L256.6,1427 L164.5,1454.3 C162.5,1470 161,1500 161,1521 C161,1545 162.5,1555 165.2,1560.6 C167.5,1570 169.5,1575 173.7,1577.6 C187.5,1583 203.5,1584.5 216.2,1584 C233.5,1583 249.5,1578 258.8,1572 L272,1560.6 C271.4,1545 268,1525 265.8,1511 C260,1506 254.5,1503 254.5,1490 C254.5,1482 257,1478 264.5,1471 C264,1460 263,1445 262.3,1430.2 Z" fill="#ef9325"/><g clip-path="url(#vl)" fill="#e6e7e8"><path d="M40,1509 Q100,1524 160,1521 L160,1540.7 Q100,1544 40,1528.5 Z"/><path d="M40,1537.5 Q100,1554 160,1550.7 L160,1570.5 Q100,1574 40,1558.5 Z"/></g><g clip-path="url(#vr)" fill="#e6e7e8"><path d="M278,1509 Q218,1524 156,1521 L156,1540.7 Q218,1544 278,1528.5 Z"/><path d="M278,1537.5 Q218,1554 156,1550.7 L156,1570.5 Q218,1574 278,1558.5 Z"/></g><path d="M36,1477 L51.8,1508" stroke="#0a0a0a" stroke-width="11" stroke-linecap="round" fill="none"/><path d="M278.5,1475 L262.8,1506" stroke="#0a0a0a" stroke-width="11" stroke-linecap="round" fill="none"/><path d="M30.8,1475.6 L40.4,1470.8" stroke="#8d8e8e" stroke-width="2.2" fill="none"/><path d="M274.2,1468.8 L283.8,1473.6" stroke="#8d8e8e" stroke-width="2.2" fill="none"/><ellipse cx="49.5" cy="1489.5" rx="6.5" ry="6" fill="#f8d3a0"/><ellipse cx="265" cy="1489" rx="6.5" ry="6" fill="#f8d3a0"/><path d="M90,1322.5 C97,1325 100.5,1329 98.5,1334 C90,1358 77,1380 63.5,1397.5 C61,1400 58,1399.5 55,1397 Z" fill="#96181b"/><path d="M90.5,1322.5 C70,1313 38,1330 35.5,1362 C34.5,1378 42,1390 53.5,1394.5 C68,1376 82,1350 90.5,1322.5 Z" fill="#595a5a"/><ellipse cx="42" cy="1343.5" rx="5.2" ry="10.8" transform="rotate(24 42 1343.5)" fill="#96181b"/><path d="M221.5,1322.5 C214.5,1325 211,1329 213,1334 C221.5,1358 234.5,1380 248,1397.5 C250.5,1400 253.5,1399.5 256.5,1397 Z" fill="#96181b"/><path d="M221,1322.5 C241.5,1313 273.5,1330 276,1362 C277,1378 269.5,1390 258,1394.5 C243.5,1376 229.5,1350 221,1322.5 Z" fill="#595a5a"/><ellipse cx="269.5" cy="1344" rx="5.2" ry="10.8" transform="rotate(-24 269.5 1344)" fill="#96181b"/><path d="M48.5,1333 C58,1313 68,1300 82,1296.5 C120,1288 192,1288 230,1296.5 C244,1300 254,1313 263.5,1334" stroke="#333" stroke-width="5" fill="none" stroke-linecap="round"/><clipPath id="gg"><path d="M85,1346 L224,1346 C230,1346 234,1350 234,1357 L234,1396 C234,1404 230,1410.4 222.6,1410.4 L157.4,1404.7 L90.7,1410.4 C80,1410.4 74.4,1404 74.4,1394.8 L74.4,1357 C74.4,1350 79,1346 85,1346 Z"/></clipPath><path d="M85,1346 L224,1346 C230,1346 234,1350 234,1357 L234,1396 C234,1404 230,1410.4 222.6,1410.4 L157.4,1404.7 L90.7,1410.4 C80,1410.4 74.4,1404 74.4,1394.8 L74.4,1357 C74.4,1350 79,1346 85,1346 Z" fill="#fff" fill-opacity="0.62"/><path d="M70,1358.5 L152,1362 L238,1367.5 L238,1390.5 L152,1383.5 L70,1382 Z" fill="#fff" fill-opacity="0.5" clip-path="url(#gg)"/><ellipse cx="113.4" cy="1369.2" rx="30.8" ry="29" fill="#fff"/><ellipse cx="190.7" cy="1365.7" rx="31.2" ry="29.2" fill="#fff"/><ellipse cx="97.8" cy="1370.2" rx="9.4" ry="10.3" fill="#b1b1b1"/><circle cx="102" cy="1372.4" r="2.7" fill="#fff"/><clipPath id="pr"><ellipse cx="175.5" cy="1367.8" rx="9.4" ry="10.3"/></clipPath><ellipse cx="175.5" cy="1367.8" rx="9.4" ry="10.3" fill="#b1b1b1"/><path d="M160,1350 L190,1350 L190,1367 L160,1365 Z" fill="#7e7e7e" clip-path="url(#pr)"/><circle cx="179.4" cy="1370" r="2.7" fill="#fff"/><path d="M143.9,1414.6 L158.3,1414.6 L158.3,1428 C158.3,1433 155,1436.6 151,1436.6 C147,1436.6 143.9,1432 143.9,1426 Z" fill="#fff"/><path d="M159.3,1414.6 L173,1414.6 L173,1426 C173,1431 170,1435.2 166,1435.2 C162,1435.2 159.3,1432 159.3,1428 Z" fill="#fff"/><path d="M140,1399 C146,1396 172,1396 178,1399 C184,1402 185.5,1409 183,1414 C180,1419.5 172,1419.5 167,1415.5 C162,1413.5 155,1413.5 150,1415.5 C145,1419.5 137,1419.5 134.5,1414 C132,1409 134,1402 140,1399 Z" fill="#f8d3a0"/><ellipse cx="157.7" cy="1394.8" rx="13.8" ry="8.7" fill="#050505"/></g>
<g fill="none" stroke-width="9.2" stroke-linecap="round" stroke-linejoin="round" aria-label="traefik"><g stroke="#333332"><path d="M40.4,1662 L40,1705 C40,1717 45,1722.5 54.5,1722.5"/><path d="M30,1679.5 L53.5,1679.5"/><path d="M74,1680 L74,1722.3"/><path d="M74.5,1701 C75,1688 82,1680 93,1679.3"/><path d="M198,1722.3 L198,1670 C198,1660.5 202.5,1656.7 210,1656.7 L213.3,1656.7"/><path d="M187.3,1679.5 L211,1679.5"/><path d="M230.1,1680 L230.1,1722.3"/><path d="M254.7,1658 L254.7,1722.3"/><path d="M257,1699.5 L284.5,1679.2"/><path d="M262,1697 L286,1722.3"/></g><circle cx="230.1" cy="1658.3" r="6.1" fill="#333332" stroke="none"/><path stroke="#2aa9c9" stroke-width="8.5" d="M109.7,1681.5 C113,1679 118,1677.9 122.5,1677.9 C131,1677.9 138,1682 138.3,1690 C138.5,1698 137.5,1704 135.5,1709 C132,1718 126,1723 118.5,1723 C109,1723 103.4,1717.5 103.4,1710.5 C103.4,1703 109,1698.4 117,1698.4 C126,1698.4 131,1700 138,1701 C146,1702 151,1702.2 157,1701.8 C167,1701 172.7,1696.5 172.7,1690 C172.7,1683 166,1677.9 157.5,1677.9 C148,1677.9 141.5,1684 140.5,1694 C139.5,1705 141,1714 145,1718.5 C149,1722.5 155,1723 160,1722 C163,1721.3 165,1720.3 167,1719.3"/></g>
</svg>
</body></html>
